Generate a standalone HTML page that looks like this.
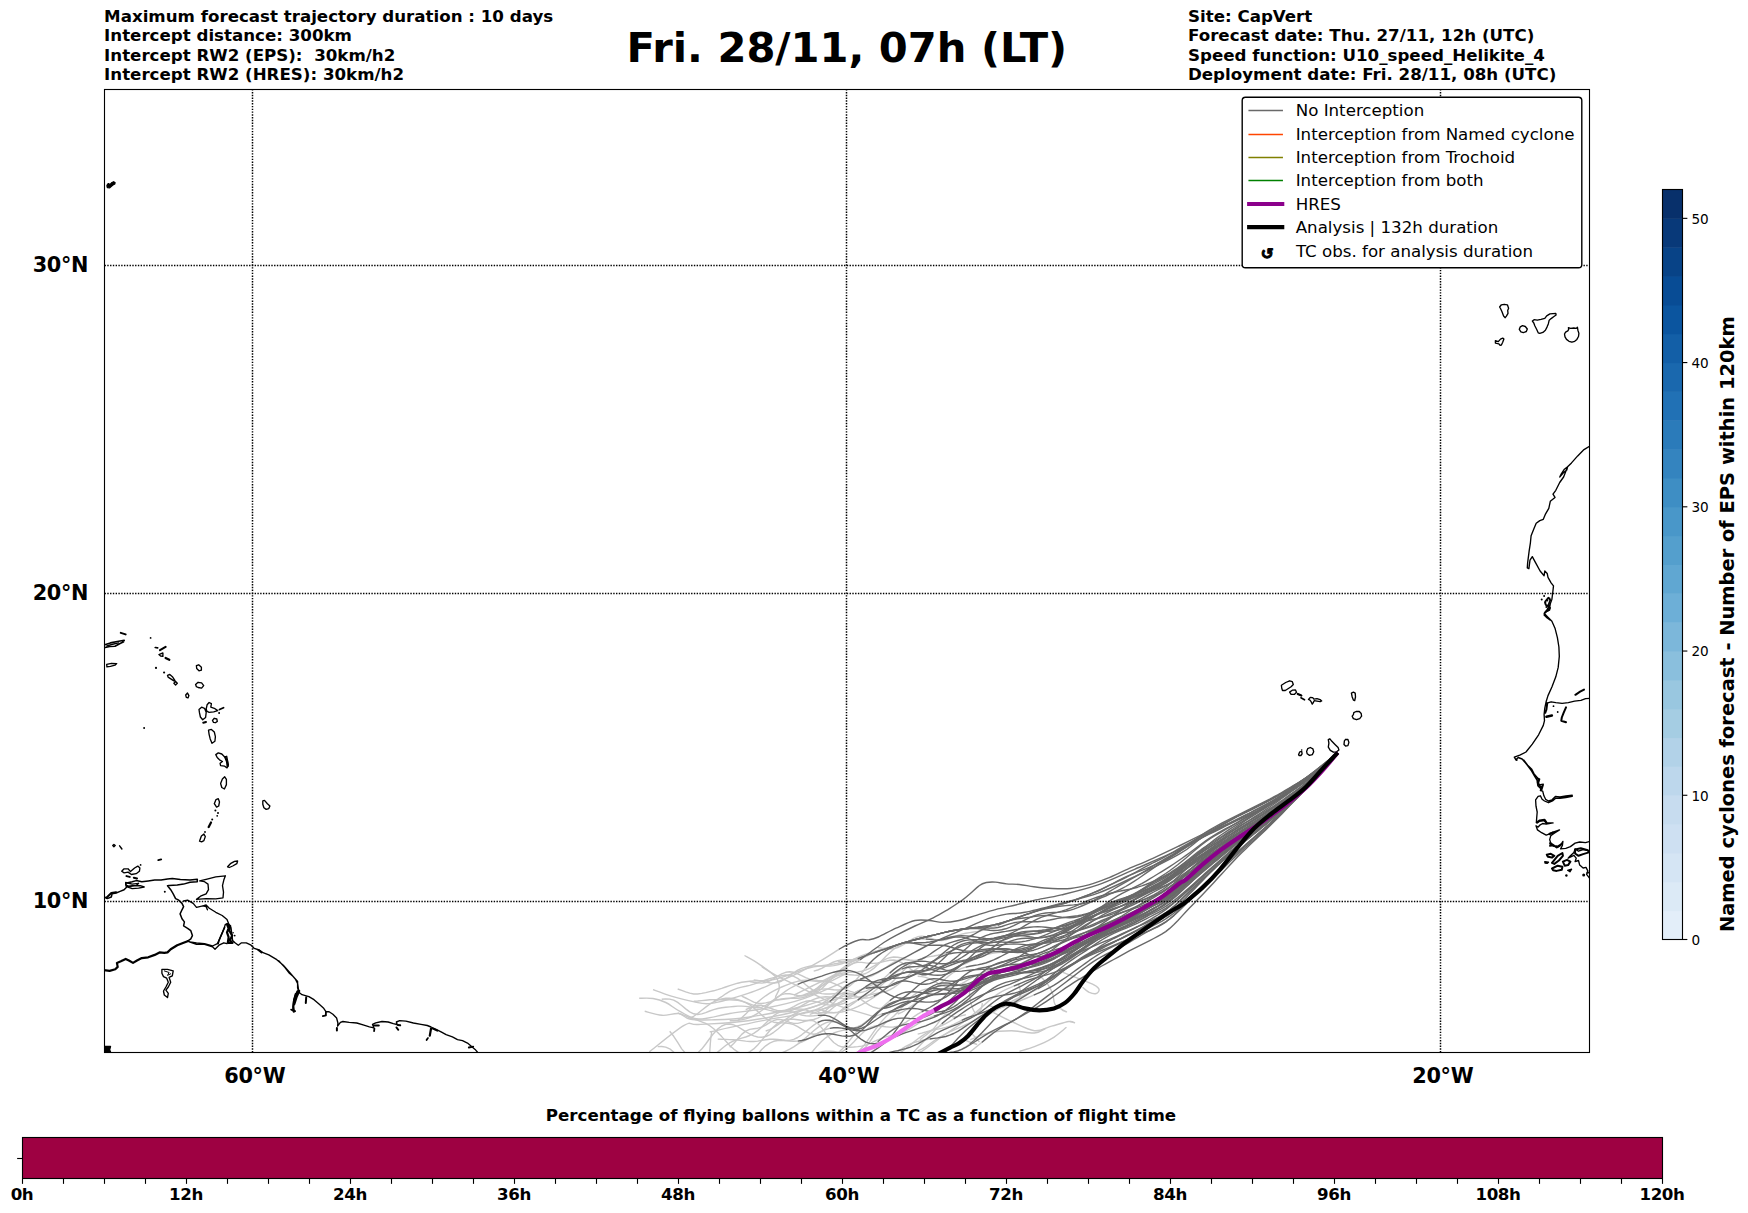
<!DOCTYPE html>
<html lang="en"><head><meta charset="utf-8"><title>Trajectory forecast</title>
<style>html,body{margin:0;padding:0;background:#fff}svg{display:block}text{font-family:"DejaVu Sans","Liberation Sans",sans-serif;fill:#000}.b{font-weight:bold}</style></head><body>
<svg width="1748" height="1213" viewBox="0 0 1748 1213">
<rect width="1748" height="1213" fill="#fff"/>
<text class="b" x="104.1" y="21.8" font-size="16.67" xml:space="preserve">Maximum forecast trajectory duration : 10 days</text>
<text class="b" x="104.1" y="41.2" font-size="16.67" xml:space="preserve">Intercept distance: 300km</text>
<text class="b" x="104.1" y="60.6" font-size="16.67" xml:space="preserve">Intercept RW2 (EPS):  30km/h2</text>
<text class="b" x="104.1" y="80.0" font-size="16.67" xml:space="preserve">Intercept RW2 (HRES): 30km/h2</text>
<text class="b" x="1188.0" y="21.8" font-size="16.67" xml:space="preserve">Site: CapVert</text>
<text class="b" x="1188.0" y="41.2" font-size="16.67" xml:space="preserve">Forecast date: Thu. 27/11, 12h (UTC)</text>
<text class="b" x="1188.0" y="60.6" font-size="16.67" xml:space="preserve">Speed function: U10_speed_Helikite_4</text>
<text class="b" x="1188.0" y="80.0" font-size="16.67" xml:space="preserve">Deployment date: Fri. 28/11, 08h (UTC)</text>
<text class="b" x="846.8" y="61.6" font-size="41.67" text-anchor="middle">Fri. 28/11, 07h (LT)</text>
<defs><clipPath id="ax"><rect x="104.5" y="89.5" width="1485.0" height="963.0"/></clipPath></defs>
<g clip-path="url(#ax)">
<circle cx="1544.1" cy="596.1" r="1.0" fill="#000"/>
<circle cx="1541.7" cy="599.5" r="1.0" fill="#000"/>
<circle cx="1545.2" cy="602.7" r="1.0" fill="#000"/>
<circle cx="1547.3" cy="600.5" r="1.0" fill="#000"/>
<circle cx="1548.3" cy="605.5" r="1.0" fill="#000"/>
<circle cx="1549.5" cy="598.4" r="1.0" fill="#000"/>
<circle cx="1546.4" cy="607.1" r="1.0" fill="#000"/>
<circle cx="1548.3" cy="610.2" r="1.0" fill="#000"/>
<circle cx="1553.5" cy="706.2" r="0.9" fill="#000"/>
<circle cx="1557.7" cy="712.0" r="0.9" fill="#000"/>
<circle cx="1566.4" cy="875.5" r="1.2" fill="#000"/>
<circle cx="1583.7" cy="874.9" r="1.5" fill="#000"/>
<circle cx="1587.8" cy="872.6" r="1.2" fill="#000"/>
<circle cx="1516.7" cy="760.0" r="1.0" fill="#000"/>
<circle cx="1301.7" cy="750.0" r="0.8" fill="#000"/>
<circle cx="150.6" cy="637.9" r="0.9" fill="#000"/>
<circle cx="156.0" cy="667.9" r="1.1" fill="#000"/>
<circle cx="164.1" cy="672.5" r="1.1" fill="#000"/>
<circle cx="219.1" cy="712.9" r="1.0" fill="#000"/>
<circle cx="144.1" cy="727.9" r="1.0" fill="#000"/>
<circle cx="215.4" cy="810.6" r="1.0" fill="#000"/>
<circle cx="218.0" cy="812.9" r="1.0" fill="#000"/>
<circle cx="217.2" cy="815.8" r="0.9" fill="#000"/>
<circle cx="212.2" cy="819.5" r="1.0" fill="#000"/>
<circle cx="205.0" cy="832.0" r="0.9" fill="#000"/>
<circle cx="140.6" cy="864.9" r="0.9" fill="#000"/>
<circle cx="164.8" cy="891.8" r="1.0" fill="#000"/>
<circle cx="234.7" cy="935.6" r="0.9" fill="#000"/>
<circle cx="233.1" cy="932.7" r="0.8" fill="#000"/>
<path d="M106.9 185.7 L107.6 184.3 L108.5 183.6 L109.9 184.8 L112.0 182.5 L113.6 181.8 L115.0 182.6 L114.8 183.9 L112.9 185.0 L111.1 186.6 L109.7 187.8 L107.4 187.7Z M1544.8 612.5 L1550.3 607.8 L1549.5 610.2Z M1544.8 861.6 L1548.5 862.2 L1547.3 863.3 L1545.0 863.0Z M1567.6 870.3 L1571.6 869.1 L1569.9 871.8Z M104.8 1046.5 L110.5 1046.5 L109.6 1049.7 L110.5 1052.1 L104.8 1052.1Z" fill="#000" stroke="#000" stroke-width="1.35" stroke-linejoin="round" stroke-linecap="round"/>
<path d="M1499.6 307.0 L1501.4 304.8 L1504.2 304.3 L1507.4 304.8 L1508.6 308.2 L1507.7 310.4 L1508.0 313.3 L1506.4 316.1 L1505.2 317.7 L1503.6 316.1 L1502.0 311.7 L1500.5 308.5Z M1495.4 340.6 L1498.3 341.6 L1500.5 339.1 L1502.7 338.1 L1503.9 339.1 L1502.7 342.2 L1501.4 345.0 L1500.1 345.3 L1498.9 343.8 L1495.4 343.1Z M1519.3 329.3 L1520.3 326.8 L1522.5 325.7 L1525.3 326.5 L1527.3 329.0 L1526.3 331.5 L1523.4 332.6 L1520.9 331.8Z M1532.4 321.1 L1534.1 319.7 L1537.3 320.2 L1541.0 319.4 L1544.8 318.4 L1546.7 315.8 L1549.9 313.9 L1553.0 313.6 L1555.8 313.4 L1556.1 315.0 L1553.6 316.7 L1551.1 318.6 L1549.2 320.2 L1548.3 323.9 L1547.0 327.1 L1545.4 330.2 L1542.9 332.4 L1539.8 333.4 L1538.2 332.8 L1536.6 329.3 L1534.8 325.8 L1533.8 323.0Z M1568.4 327.7 L1570.6 328.4 L1573.8 328.0 L1576.3 328.4 L1577.4 327.2 L1577.9 330.2 L1578.9 333.4 L1578.5 336.5 L1576.9 339.4 L1574.7 341.3 L1571.9 342.2 L1569.0 341.3 L1566.5 339.4 L1565.0 336.9 L1564.5 334.0 L1565.6 332.1 L1567.8 330.9 L1568.7 329.3Z M1590.3 445.7 L1584.0 449.6 L1577.7 455.9 L1571.5 462.9 L1567.6 466.8 L1563.6 477.0 L1559.7 482.5 L1555.8 490.3 L1553.0 494.2 L1555.0 497.4 L1550.3 501.3 L1548.8 508.3 L1545.6 513.8 L1543.3 519.3 L1539.8 520.6 L1536.2 523.2 L1533.9 528.7 L1531.1 535.8 L1530.4 542.8 L1529.2 550.7 L1527.6 563.2 L1527.3 567.9 L1528.9 568.7 L1530.0 560.1 L1532.3 556.6 L1535.4 562.4 L1540.1 571.0 L1544.1 575.7 L1544.8 571.0 L1547.2 573.4 L1548.0 577.3 L1551.1 582.8 L1553.5 585.9 L1552.7 593.0 L1551.9 599.2 L1550.3 603.9 L1549.5 608.6 L1544.8 613.3 L1544.1 614.9 L1547.2 618.0 L1550.3 620.1 M1567.6 466.8 L1564.4 469.2 L1561.3 473.9 L1559.7 477.0 L1563.6 472.6 L1566.8 470.0Z M1550.3 603.9 L1547.2 609.4 L1544.1 613.3 L1547.2 616.5 L1551.9 621.2 L1555.0 628.2 L1557.4 637.6 L1558.9 647.0 L1559.3 656.4 L1558.2 667.4 L1555.8 676.8 L1551.9 687.0 L1548.0 695.6 L1546.1 701.8 L1544.8 708.1 L1544.1 714.4 L1544.5 720.7 L1543.3 725.4 L1538.6 734.8 L1532.3 744.2 L1526.0 752.0 L1519.8 755.1 L1514.3 757.2 L1515.9 759.8 L1518.2 757.5 L1522.1 759.0 L1526.8 764.5 L1531.5 770.8 L1534.7 776.3 L1537.0 780.2 L1537.8 785.7 L1540.1 788.0 L1543.3 784.9 L1541.7 790.1 M1546.1 703.4 L1551.1 701.8 L1555.8 702.6 L1562.1 703.4 L1568.3 702.6 L1574.6 701.1 L1580.9 700.3 L1585.6 698.7 L1590.3 698.4 M1523.7 760.0 L1527.7 765.2 L1531.8 769.2 L1534.1 773.9 L1537.0 777.3 L1538.7 779.1 L1537.2 782.5 L1538.7 784.8 L1543.3 784.2 L1541.0 787.7 L1540.4 790.6 L1542.7 791.2 L1543.9 795.8 L1545.6 799.3 L1548.5 801.0 L1552.0 799.8 L1555.4 796.4 L1560.0 797.0 L1565.8 796.0 L1572.2 795.2 L1572.2 796.4 L1565.8 797.5 L1560.0 798.3 L1556.0 798.1 L1552.5 801.0 L1548.5 802.7 L1544.5 801.0 L1542.1 799.3 L1540.4 795.8 L1538.1 796.4 L1535.6 799.8 L1536.0 806.2 L1537.2 812.0 L1536.7 817.7 L1536.4 822.4 L1539.8 821.2 L1543.9 820.0 L1546.2 822.9 L1553.1 822.9 L1546.2 824.1 L1542.7 823.5 L1539.8 825.2 L1538.1 827.0 L1536.0 825.8 L1537.5 829.9 L1541.6 832.7 L1546.2 835.1 L1549.7 833.9 L1553.1 832.2 L1559.5 829.9 L1554.3 833.3 L1550.8 835.6 L1549.7 839.7 L1550.8 843.1 L1549.7 846.0 L1553.7 845.5 L1556.6 847.8 L1560.0 846.0 L1562.9 841.4 L1562.4 845.5 L1560.6 848.9 L1565.8 848.3 L1570.4 846.6 L1575.1 843.1 L1579.7 842.0 L1585.5 842.6 L1590.1 841.4 M1590.1 851.2 L1583.1 849.5 L1578.5 851.2 L1575.1 848.9 L1573.9 852.4 L1570.4 855.8 L1568.1 858.2 L1573.9 855.3 L1576.2 858.2 L1575.1 861.6 L1578.5 860.5 L1579.7 865.1 L1583.1 868.0 L1586.0 867.4 L1587.8 870.9 L1586.6 874.3 L1590.1 878.9 M1281.4 685.3 L1285.7 682.5 L1289.6 680.8 L1292.3 681.7 L1293.3 684.5 L1291.1 686.8 L1288.0 688.8 L1285.3 690.5 L1282.5 690.5 L1281.7 688.0Z M1289.6 692.1 L1292.3 690.2 L1295.5 690.0 L1296.5 692.3 L1294.3 694.4 L1291.1 694.4Z M1308.5 699.4 L1310.3 697.4 L1312.7 697.6 L1313.9 699.1 L1317.0 698.6 L1320.1 699.6 L1321.7 700.9 L1320.1 701.7 L1317.0 701.2 L1314.2 700.7 L1313.1 702.9 L1312.3 704.1 L1311.1 701.7 L1309.9 700.1Z M1351.4 693.1 L1353.4 692.2 L1355.2 693.1 L1355.5 697.0 L1354.7 700.5 L1353.4 700.1 L1352.2 697.0Z M1353.8 712.7 L1356.1 711.5 L1359.3 711.5 L1361.2 713.5 L1361.6 716.2 L1359.7 718.6 L1356.5 719.7 L1353.4 718.6 L1352.2 716.2 L1353.4 714.6Z M1344.4 740.9 L1345.6 739.3 L1347.9 739.5 L1348.9 742.4 L1347.9 745.6 L1345.6 746.0 L1344.0 744.4Z M1328.3 739.7 L1329.9 738.8 L1331.9 741.3 L1335.0 744.4 L1338.1 747.5 L1338.9 749.9 L1336.6 751.8 L1333.4 752.2 L1330.3 750.3 L1328.3 747.1 L1328.9 743.2Z M1306.6 751.4 L1307.7 748.7 L1310.3 747.5 L1312.9 748.9 L1313.7 751.8 L1312.3 754.6 L1309.5 755.4 L1307.2 753.8Z M1298.6 754.6 L1299.8 751.8 L1301.7 751.4 L1302.1 753.8 L1300.9 755.5 L1299.0 755.5Z M106.7 664.4 L111.5 663.3 L116.7 663.6 L115.0 665.2 L110.4 666.4 L106.9 666.8Z M158.9 654.6 L162.9 652.9 L162.9 656.4 L160.6 656.0Z M167.5 675.4 L169.8 674.5 L172.7 677.1 L175.0 680.6 L173.9 680.9 L170.4 678.6 L168.1 677.1Z M173.9 683.3 L175.6 681.5 L177.3 683.3 L175.6 685.0Z M196.4 665.6 L198.7 664.8 L201.4 667.3 L201.4 670.2 L199.0 670.8 L196.7 668.5Z M195.6 684.6 L198.1 682.3 L201.6 682.9 L203.7 685.6 L201.6 688.1 L198.1 687.5 L196.4 686.7Z M185.7 695.0 L187.5 693.0 L188.9 695.6 L188.0 697.9 L186.3 697.3Z M199.0 709.5 L201.6 707.2 L204.5 708.3 L206.2 712.3 L205.6 717.5 L202.7 719.8 L200.4 717.0 L199.5 712.9Z M206.2 708.9 L207.1 704.8 L209.1 702.5 L211.4 703.7 L210.8 707.2 L214.3 708.3 L217.7 710.6 L213.7 711.8 L209.1 712.3 L206.8 711.2Z M212.5 720.4 L214.3 718.3 L216.8 719.0 L217.3 721.4 L215.4 722.7 L213.4 722.3Z M208.5 730.2 L211.4 729.4 L214.3 732.0 L215.4 736.6 L214.9 741.2 L212.0 743.3 L210.2 738.9 L209.1 734.3Z M215.8 754.6 L218.3 752.9 L221.8 754.0 L224.7 756.9 L226.7 756.3 L227.6 761.0 L228.4 765.0 L227.0 767.9 L224.7 766.2 L220.6 765.6 L220.1 763.3 L222.4 761.5 L219.5 759.8 L217.2 757.5Z M220.6 783.5 L222.4 778.9 L224.7 776.8 L226.4 779.4 L226.4 784.6 L224.4 789.0 L221.8 787.5Z M214.3 803.7 L216.0 799.6 L218.3 798.7 L219.5 801.9 L218.7 806.0 L216.6 807.1Z M199.5 841.2 L201.4 836.0 L203.9 834.0 L205.3 836.6 L203.9 840.6 L201.6 841.8Z M262.8 800.8 L264.5 800.4 L267.4 803.7 L269.9 806.0 L268.8 808.6 L266.2 809.4 L263.9 807.7 L262.8 804.3Z M227.6 866.8 L230.4 863.7 L234.5 861.4 L237.6 861.0 L236.8 863.7 L232.7 866.0 L229.3 867.5Z M112.7 845.6 L113.9 844.4 L115.2 845.6 L113.9 846.7Z M121.7 871.3 L124.1 868.8 L128.1 868.8 L130.5 871.6 L134.6 868.0 L137.8 866.1 L139.9 868.0 L139.4 871.3 L136.2 873.7 L131.4 874.5 L128.1 872.1 L124.1 872.9Z M125.7 882.5 L132.2 884.1 L138.6 883.3 L136.2 885.7 L128.9 886.5 L125.7 884.9Z M126.5 886.5 L132.2 885.7 L140.2 885.7 L144.2 887.0 L138.6 888.1 L132.2 888.6Z M183.6 901.0 L187.6 900.2 L193.2 903.4 L196.5 907.4 L202.9 905.8 L206.1 905.0 L209.3 908.2 L215.8 912.3 L222.2 915.5 L227.0 919.5 L228.6 923.5 L225.4 924.3 L223.8 929.1 L221.4 934.8 L219.0 940.4 L217.4 943.6 L212.5 946.0 L204.5 943.6 L196.5 942.8 L190.0 942.0 L187.6 941.2 M190.0 942.0 L196.5 944.4 L204.5 944.4 L212.5 946.8 L215.0 949.2 L219.0 945.2 L223.8 942.8 L227.0 943.6 M202.9 905.8 L206.1 906.6 L207.4 909.8 M228.6 923.5 L231.0 927.5 L231.8 934.0 L232.6 940.4 L235.0 942.8 L238.3 945.2 L241.5 942.8 L246.3 942.8 L251.1 945.2 L254.3 948.4 L259.2 950.0 L262.4 952.4 L268.8 954.9 L276.8 959.7 L283.3 965.3 L289.7 972.5 L295.3 979.0 L297.7 983.8 L298.6 990.2 L296.1 993.4 L293.7 999.9 L292.9 1009.5 L295.3 1011.1 M199.7 880.9 L206.1 879.3 L215.8 876.9 L225.4 875.8 L223.8 880.1 L222.5 885.7 L223.5 892.2 L223.0 897.8 L215.8 898.9 L206.1 898.6 L196.5 899.4 L200.5 896.2 L206.1 893.8 L208.5 889.7 L208.0 884.1 L204.5 881.7 L199.7 880.9Z M161.9 969.3 L167.5 969.3 L173.2 970.9 L172.3 975.8 L169.1 977.4 L170.7 982.2 L168.3 987.0 L165.9 990.2 L168.3 993.4 L167.5 997.5 L164.3 995.0 L163.5 991.0 L165.9 987.0 L168.3 982.2 L166.7 978.2 L163.5 976.6 L161.9 973.3Z M278.7 960.7 L285.0 967.6 L289.4 973.3 L293.8 977.1 L297.6 981.5 L297.6 987.8 L298.9 992.2 L302.0 994.7 L308.9 996.6 L314.0 999.7 L319.0 1004.1 L323.4 1007.9 L325.9 1011.7 L329.1 1011.7 L332.9 1014.2 L336.6 1018.0 L337.9 1023.0 L337.6 1026.1 L340.4 1022.4 L342.9 1021.5 L349.2 1022.4 L356.8 1023.0 L363.1 1024.9 L369.4 1026.8 L373.8 1027.8 L372.5 1024.3 L375.7 1022.8 L382.0 1021.5 L388.2 1022.0 L393.3 1023.6 L397.1 1024.5 L396.4 1022.0 L399.6 1020.7 L405.9 1021.1 L413.4 1023.0 L421.0 1024.3 L427.3 1025.5 L431.0 1027.0 L436.1 1029.3 L441.1 1031.8 L446.1 1034.6 L452.4 1036.8 L457.5 1039.6 L462.5 1040.6 L467.5 1043.1 L471.9 1046.7 L475.1 1049.4 L478.9 1053.8" fill="none" stroke="#000" stroke-width="1.35" stroke-linejoin="round" stroke-linecap="round"/>
<path d="M1545.2 601.6 L1548.3 597.7 L1550.3 600.0 L1548.0 606.3 L1545.6 604.7Z M219.5 709.5 L223.5 707.7 M158.3 860.2 L161.2 859.4 M325.9 1011.7 L325.9 1015.4 L322.8 1016.1 M374.4 1028.7 L374.1 1031.2 M396.4 1027.4 L398.3 1029.9 M427.9 1038.1 L426.6 1040.0 M468.8 1047.5 L473.2 1046.7" fill="none" stroke="#000" stroke-width="1.8" stroke-linejoin="round" stroke-linecap="round"/>
<path d="M1575.4 694.8 L1580.1 691.7 L1584.0 689.6 M1566.0 707.3 L1563.6 712.8 L1561.8 717.5 L1561.3 720.7 L1566.0 722.2 M1547.2 703.4 L1546.4 709.7 L1545.2 712.8 M1575.1 849.5 L1580.8 848.3 L1587.8 850.1 L1588.9 852.4 L1583.1 854.1 L1578.5 855.8 L1575.1 853.5Z M1546.8 854.7 L1550.8 853.8 L1554.3 855.8 L1552.0 857.6 L1547.9 856.8Z M1552.0 862.8 L1557.7 855.8 L1562.4 853.0 L1562.9 855.8 L1558.9 860.5 L1554.3 863.9Z M1552.0 868.5 L1557.7 865.7 L1562.4 866.8 L1561.8 869.7 L1556.6 870.9 L1553.1 870.3Z M1562.9 861.6 L1567.0 859.9 L1570.4 861.6 L1568.1 865.1 L1564.7 865.7Z M1537.0 778.5 L1539.3 779.1 L1538.1 783.1 L1539.8 786.0 L1541.6 787.1 M120.8 632.9 L125.6 634.4 M160.0 650.2 L165.6 646.8 M203.3 722.7 L206.0 722.0 M126.5 876.1 L129.7 876.9 M133.8 877.7 L137.0 878.5 M116.1 892.2 L111.3 893.0 L106.4 897.8 M258.4 950.0 L261.6 952.4 M306.2 997.2 L305.8 1002.9 M336.9 1028.0 L336.9 1030.6 M373.8 1025.5 L378.8 1025.5 M397.7 1024.9 L400.2 1025.3 M432.9 1028.7 L437.3 1030.6" fill="none" stroke="#000" stroke-width="2" stroke-linejoin="round" stroke-linecap="round"/>
<path d="M1546.4 716.7 L1551.9 715.6" fill="none" stroke="#000" stroke-width="2.5" stroke-linejoin="round" stroke-linecap="round"/>
<path d="M1537.0 822.4 L1539.8 820.6 L1544.5 820.0 L1546.2 822.4 M1549.7 833.9 L1553.1 832.7" fill="none" stroke="#000" stroke-width="2.4" stroke-linejoin="round" stroke-linecap="round"/>
<path d="M1550.2 843.1 L1554.3 846.0 L1557.7 846.6 L1561.2 844.3 M1297.8 693.9 L1301.3 695.5 M165.6 657.9 L169.3 659.8 M225.2 757.2 L227.0 761.5 L227.6 766.2 M211.0 822.5 L208.7 827.1 M187.6 941.2 L183.6 942.8 L177.2 945.2 L170.7 949.2 L167.5 952.4 L164.3 952.9 L159.5 952.4 L154.7 954.9 L148.2 957.3 L141.8 958.1 L137.0 960.5 L133.0 962.9 L128.9 960.5 L125.7 958.9 L120.9 961.3 L116.9 962.9 L117.7 966.9 L115.3 969.3 L109.6 970.9 L103.2 970.1 M227.0 924.3 L230.2 925.9 L229.4 930.7 L232.2 935.6 L229.9 940.4 L232.6 942.8 L227.8 942.8 L228.6 937.2 L227.0 932.3 L228.6 928.3Z M298.9 992.2 L295.7 994.1 L294.1 1000.3 L293.3 1006.6 L293.8 1011.7 M431.0 1028.7 L429.8 1035.6" fill="none" stroke="#000" stroke-width="2.2" stroke-linejoin="round" stroke-linecap="round"/>
<path d="M1300.9 697.8 L1304.5 699.8 M104.8 644.8 L110.4 642.9 L117.3 641.5 L124.2 640.3 M105.2 647.5 L109.8 646.5 L115.0 646.3 L119.6 643.7 L123.7 641.7 M155.2 647.5 L157.7 647.9 M224.6 927.5 L219.0 940.4 L218.2 943.6 M291.0 1009.5 L294.9 1011.4 M291.3 1009.8 L293.8 1011.0" fill="none" stroke="#000" stroke-width="1.6" stroke-linejoin="round" stroke-linecap="round"/>
<path d="M106.9 646.0 L112.7 644.2 L118.5 642.9 M119.6 845.8 L121.9 849.0" fill="none" stroke="#000" stroke-width="1.4" stroke-linejoin="round" stroke-linecap="round"/>
<path d="M103.2 896.2 L107.2 898.6 L111.3 897.0 L112.1 893.8 L116.1 893.0 L120.1 891.4 L124.1 889.7 L126.5 887.3 L125.7 883.3 L132.2 881.7 L136.2 880.6 L141.8 881.7 L148.2 880.9 L154.7 880.1 L161.1 880.1 L167.5 879.0 L172.3 878.5 L180.4 879.6 L190.0 880.1 L197.3 879.3 L197.3 881.7 L190.0 882.2 L183.6 884.1 L177.2 884.9 L169.1 885.4 L167.5 885.7 L170.7 889.7 L173.2 893.8 L175.6 898.6 L178.8 900.2 L182.0 903.4 L183.6 906.6 L182.0 909.8 L180.1 913.9 L182.0 918.7 L184.4 921.9 L183.6 925.9 L187.6 928.3 L190.8 930.7 L192.4 935.6 L190.8 938.8 L187.6 941.2" fill="none" stroke="#000" stroke-width="1.5" stroke-linejoin="round" stroke-linecap="round"/>
<path d="M299.0 991.0 L296.5 996.7 L294.2 1003.9 M297.6 991.5 L296.1 996.6" fill="none" stroke="#000" stroke-width="2.6" stroke-linejoin="round" stroke-linecap="round"/>
<path d="M164.3 970.9 L169.1 972.5 L167.5 975.4 L170.7 973.8" fill="none" stroke="#000" stroke-width="1.0" stroke-linejoin="round" stroke-linecap="round"/>
<g fill="none" stroke="#c8c8c8" stroke-width="1.4" stroke-linejoin="round">
<path d="M901.7 969.1 L897.7 971.3 L893.7 974.1 L889.7 977.5 L885.7 981.2 L881.7 984.9 L877.7 988.5 L873.7 991.7 L869.7 994.5 L865.7 996.8 L861.7 998.6 L857.7 1000.2 L853.7 1001.9 L849.7 1003.8 L845.7 1006.4 L841.7 1009.8 L837.7 1014.0 L833.7 1018.8 L829.7 1023.6 L825.7 1028.0 L821.7 1031.5 L817.7 1033.6 L813.7 1034.2 L809.7 1033.4 L805.7 1031.5 L801.7 1029.1 L797.7 1026.7 L793.7 1024.7 L789.7 1023.5 L785.7 1023.0 L781.7 1022.9 L777.7 1022.8 L773.7 1022.2 L769.7 1020.7 L765.7 1018.3 L761.7 1015.1 L757.7 1011.4 L753.7 1007.9 L749.7 1004.8 L745.7 1002.6 L741.7 1001.1 L737.7 1000.3 L733.7 1000.0 L729.7 999.9 L725.7 999.8 L721.7 999.7 L717.7 999.6 L713.7 999.6 L709.7 999.8 L705.7 1000.2 L701.7 1000.6 L697.7 1001.0 L693.7 1001.2"/>
<path d="M921.7 1011.8 L917.7 1014.2 L913.7 1016.9 L909.7 1019.7 L905.7 1022.3 L901.7 1024.5 L897.7 1026.1 L893.7 1027.0 L889.7 1027.1 L885.7 1026.7 L881.7 1026.2 L877.7 1025.8 L873.7 1026.3 L869.7 1027.7 L865.7 1030.3 L861.7 1033.7 L857.7 1037.8 L853.7 1042.0 L849.7 1045.9 L845.7 1049.3 L841.7 1051.9 L837.7 1053.7 L833.7 1054.8 L829.7 1055.5 L825.7 1056.2 L821.7 1057.1 L817.7 1058.3 L813.7 1059.8 L809.7 1061.5 L805.7 1063.0 L801.7 1064.0 L797.7 1064.3 L793.7 1063.8 L789.7 1062.7 L785.7 1061.2 L781.7 1059.6 L777.7 1058.6 L773.7 1058.3 L769.7 1059.1 L765.7 1060.9 L761.7 1063.7 L757.7 1067.0 L753.7 1070.6 L749.7 1073.9 L745.7 1076.7 L741.7 1078.9 L737.7 1080.2 L733.7 1081.0 L729.7 1081.3 L725.7 1081.3 L721.7 1081.4 L717.7 1081.4 L713.7 1081.4 L709.7 1081.2 L705.7 1080.6 L701.7 1079.3 L697.7 1077.3 L693.7 1074.7 L689.7 1071.5 L685.7 1068.2 L681.7 1065.0 L677.7 1062.4 L673.7 1060.6 L669.7 1059.5 L665.7 1059.0"/>
<path d="M889.7 973.1 L885.7 976.7 L881.7 980.3 L877.7 983.6 L873.7 986.6 L869.7 989.1 L865.7 991.1 L861.7 992.3 L857.7 992.8 L853.7 992.4 L849.7 991.2 L845.7 989.4 L841.7 987.3 L837.7 985.2 L833.7 983.3 L829.7 981.9 L825.7 981.1 L821.7 980.7 L817.7 980.4 L813.7 980.0 L809.7 979.2 L805.7 977.6 L801.7 975.7 L797.7 973.8 L793.7 972.3 L789.7 971.7 L785.7 972.3 L781.7 973.9 L777.7 976.1 L773.7 978.6 L769.7 980.9 L765.7 982.5 L761.7 983.1 L757.7 982.9 L753.7 982.3 L749.7 981.5"/>
<path d="M817.7 1015.4 L813.7 1015.8 L809.7 1016.0 L805.7 1015.8 L801.7 1015.1 L797.7 1013.8 L793.7 1012.4 L789.7 1011.3 L785.7 1010.8 L781.7 1011.3 L777.7 1013.0 L773.7 1015.7 L769.7 1019.3 L765.7 1023.2 L761.7 1027.1 L757.7 1030.6 L753.7 1033.4 L749.7 1035.5 L745.7 1037.0 L741.7 1038.1 L737.7 1039.3 L733.7 1040.8 L729.7 1042.8 L725.7 1045.5 L721.7 1048.7 L717.7 1052.1 L713.7 1055.4 L709.7 1058.3 L705.7 1060.6 L701.7 1062.1 L697.7 1062.9 L693.7 1063.4 L689.7 1064.0 L685.7 1064.9 L681.7 1066.6 L677.7 1069.1 L673.7 1072.6 L669.7 1076.7 L665.7 1081.2 L661.7 1085.6 L657.7 1089.4 L653.7 1092.5 L649.7 1094.8 L645.7 1096.2 L641.7 1096.9"/>
<path d="M881.7 1014.2 L877.7 1015.3 L873.7 1016.8 L869.7 1019.0 L865.7 1022.1 L861.7 1025.9 L857.7 1030.4 L853.7 1035.3 L849.7 1040.4 L845.7 1045.2 L841.7 1049.6 L837.7 1053.2 L833.7 1055.8 L829.7 1057.6 L825.7 1058.7 L821.7 1059.3 L817.7 1059.8 L813.7 1060.7 L809.7 1062.3 L805.7 1064.5 L801.7 1067.2 L797.7 1070.3 L793.7 1073.4 L789.7 1076.3 L785.7 1078.8 L781.7 1080.8 L777.7 1082.1 L773.7 1082.8 L769.7 1082.7 L765.7 1082.3 L761.7 1081.6 L757.7 1081.2 L753.7 1081.1 L749.7 1081.8 L745.7 1083.2 L741.7 1085.5 L737.7 1088.6 L733.7 1092.1 L729.7 1095.7 L725.7 1099.0 L721.7 1101.7 L717.7 1103.4 L713.7 1103.8 L709.7 1103.0 L705.7 1100.9 L701.7 1097.9 L697.7 1094.4 L693.7 1090.8 L689.7 1087.7 L685.7 1085.5 L681.7 1084.4 L677.7 1084.7 L673.7 1086.1 L669.7 1088.6 L665.7 1091.7 L661.7 1095.1 L657.7 1098.3 L653.7 1100.4 L649.7 1101.2 L645.7 1101.3 L641.7 1100.7"/>
<path d="M921.7 966.3 L917.7 968.2 L913.7 970.9 L909.7 974.2 L905.7 977.8 L901.7 981.4 L897.7 984.8 L893.7 987.6 L889.7 989.9 L885.7 991.5 L881.7 992.6 L877.7 993.3 L873.7 994.0 L869.7 994.8 L865.7 995.6 L861.7 996.5 L857.7 997.4 L853.7 998.1 L849.7 998.5 L845.7 998.6 L841.7 998.4 L837.7 997.9 L833.7 997.4 L829.7 997.0 L825.7 996.8 L821.7 997.1 L817.7 998.0 L813.7 999.4 L809.7 1001.2 L805.7 1003.4 L801.7 1005.7 L797.7 1007.8 L793.7 1009.6 L789.7 1011.0 L785.7 1011.8 L781.7 1012.1 L777.7 1011.9 L773.7 1011.3 L769.7 1010.4 L765.7 1009.3 L761.7 1008.1 L757.7 1006.7 L753.7 1005.3 L749.7 1003.8 L745.7 1002.3 L741.7 1001.0 L737.7 999.7 L733.7 998.8 L729.7 998.3 L725.7 998.3 L721.7 998.9 L717.7 1000.1 L713.7 1001.9 L709.7 1004.2 L705.7 1007.1 L701.7 1010.2 L697.7 1013.5 L693.7 1016.3 L689.7 1018.4"/>
<path d="M873.7 996.2 L869.7 997.6 L865.7 998.1 L861.7 997.9 L857.7 997.2 L853.7 996.1 L849.7 994.9 L845.7 994.1 L841.7 993.6 L837.7 993.5 L833.7 993.7 L829.7 994.0 L825.7 994.0 L821.7 993.6 L817.7 992.5 L813.7 990.6 L809.7 987.9 L805.7 984.7 L801.7 981.3 L797.7 978.4 L793.7 976.3 L789.7 975.2 L785.7 975.0 L781.7 975.7 L777.7 976.6 L773.7 977.6 L769.7 978.7 L765.7 980.0 L761.7 981.4 L757.7 982.8 L753.7 984.2 L749.7 985.4 L745.7 986.3 L741.7 987.1 L737.7 988.2 L733.7 989.6 L729.7 991.4 L725.7 993.8 L721.7 996.7 L717.7 999.1 L713.7 1001.1"/>
<path d="M797.7 1041.1 L793.7 1041.3 L789.7 1041.0 L785.7 1040.6 L781.7 1040.3 L777.7 1040.5 L773.7 1041.3 L769.7 1043.1 L765.7 1045.8 L761.7 1049.5 L757.7 1054.0 L753.7 1059.0 L749.7 1064.2 L745.7 1069.2 L741.7 1073.8 L737.7 1077.5 L733.7 1080.3 L729.7 1082.3 L725.7 1083.6 L721.7 1084.5 L717.7 1085.3 L713.7 1086.0 L709.7 1086.8 L705.7 1087.7 L701.7 1088.6 L697.7 1089.7 L693.7 1090.8 L689.7 1091.9 L685.7 1093.0 L681.7 1093.9 L677.7 1094.7 L673.7 1095.2 L669.7 1095.6 L665.7 1095.7 L661.7 1095.7 L657.7 1095.5 L653.7 1095.4 L649.7 1095.3 L645.7 1095.3 L641.7 1095.3"/>
<path d="M829.7 1028.4 L825.7 1029.5 L821.7 1031.1 L817.7 1033.2 L813.7 1035.5 L809.7 1037.9 L805.7 1040.2 L801.7 1042.0 L797.7 1043.3"/>
<path d="M797.7 984.4 L793.7 986.3 L789.7 988.5 L785.7 991.1 L781.7 994.0 L777.7 997.2 L773.7 1000.6 L769.7 1004.0 L765.7 1007.4 L761.7 1010.5 L757.7 1013.3 L753.7 1015.6 L749.7 1017.5 L745.7 1018.9 L741.7 1019.8 L737.7 1020.3 L733.7 1020.7 L729.7 1020.8"/>
<path d="M945.7 953.2 L941.7 954.4 L937.7 955.3 L933.7 956.0 L929.7 956.6 L925.7 957.4 L921.7 958.6 L917.7 960.2 L913.7 962.4 L909.7 965.2 L905.7 968.5 L901.7 972.4 L897.7 976.4 L893.7 980.6 L889.7 984.6 L885.7 988.4 L881.7 991.7 L877.7 994.7 L873.7 997.4 L869.7 1000.0 L865.7 1002.4 L861.7 1004.6 L857.7 1006.6 L853.7 1008.4 L849.7 1009.9 L845.7 1011.1 L841.7 1012.0 L837.7 1012.6 L833.7 1012.9 L829.7 1012.9 L825.7 1012.8 L821.7 1012.7 L817.7 1012.6"/>
<path d="M865.7 988.3 L861.7 989.4 L857.7 991.2 L853.7 993.6 L849.7 996.3 L845.7 999.1 L841.7 1001.7 L837.7 1003.7 L833.7 1004.8 L829.7 1005.1 L825.7 1004.5 L821.7 1003.4 L817.7 1002.1 L813.7 1001.2 L809.7 1000.8 L805.7 1001.3 L801.7 1002.6 L797.7 1004.4 L793.7 1006.6 L789.7 1008.6 L785.7 1010.1 L781.7 1010.8 L777.7 1010.6 L773.7 1009.5 L769.7 1008.0 L765.7 1006.4 L761.7 1005.3 L757.7 1005.2 L753.7 1006.4 L749.7 1008.0 L745.7 1009.7"/>
<path d="M925.7 939.0 L921.7 938.9 L917.7 939.3 L913.7 940.2 L909.7 941.4 L905.7 942.7 L901.7 944.0 L897.7 945.3 L893.7 946.6 L889.7 947.7 L885.7 948.7 L881.7 949.6 L877.7 950.6 L873.7 951.6 L869.7 952.8 L865.7 954.2 L861.7 955.7 L857.7 957.4 L853.7 959.1 L849.7 960.8 L845.7 962.4 L841.7 963.8 L837.7 964.8 L833.7 965.6 L829.7 966.0 L825.7 966.0 L821.7 966.0 L817.7 965.9 L813.7 965.9 L809.7 966.3 L805.7 967.1 L801.7 968.4 L797.7 970.2 L793.7 972.8 L789.7 975.8 L785.7 978.7 L781.7 981.0 L777.7 982.5 L773.7 983.0 L769.7 982.7 L765.7 982.0 L761.7 981.1 L757.7 980.5 L753.7 979.9"/>
<path d="M857.7 1000.1 L853.7 1003.1 L849.7 1006.0 L845.7 1008.6 L841.7 1010.7 L837.7 1012.1 L833.7 1012.6 L829.7 1012.3 L825.7 1011.3 L821.7 1010.2 L817.7 1009.1"/>
<path d="M929.7 988.5 L925.7 989.1 L921.7 990.3 L917.7 992.3 L913.7 995.1 L909.7 998.8 L905.7 1003.2 L901.7 1007.9 L897.7 1012.3 L893.7 1016.2 L889.7 1019.5 L885.7 1022.7 L881.7 1026.3 L877.7 1030.7 L873.7 1036.0 L869.7 1041.8 L865.7 1047.1 L861.7 1051.0 L857.7 1053.0 L853.7 1053.5 L849.7 1053.2 L845.7 1053.5 L841.7 1055.5 L837.7 1059.3 L833.7 1064.1 L829.7 1068.5 L825.7 1071.0 L821.7 1071.0 L817.7 1068.8 L813.7 1065.8 L809.7 1063.5 L805.7 1063.5 L801.7 1066.1 L797.7 1070.2 L793.7 1073.8 L789.7 1075.2 L785.7 1073.4 L781.7 1070.1 L777.7 1066.3"/>
<path d="M829.7 1072.0 L825.7 1072.7 L821.7 1073.3 L817.7 1073.8 L813.7 1074.3 L809.7 1074.7 L805.7 1074.9 L801.7 1074.9 L797.7 1074.7 L793.7 1074.3 L789.7 1073.9 L785.7 1073.6 L781.7 1073.7 L777.7 1074.3 L773.7 1075.4 L769.7 1076.9 L765.7 1078.6 L761.7 1080.1 L757.7 1081.0 L753.7 1081.3 L749.7 1080.8 L745.7 1079.6 L741.7 1078.0 L737.7 1076.2 L733.7 1074.2 L729.7 1072.3 L725.7 1070.7 L721.7 1069.8 L717.7 1069.6 L713.7 1070.0 L709.7 1070.9 L705.7 1071.9 L701.7 1072.7 L697.7 1072.6 L693.7 1071.5 L689.7 1069.2 L685.7 1065.6 L681.7 1061.2 L677.7 1056.5 L673.7 1052.1 L669.7 1048.8 L665.7 1047.1 L661.7 1046.5 L657.7 1046.6"/>
<path d="M913.7 971.4 L909.7 968.4 L905.7 965.4 L901.7 962.7 L897.7 960.8 L893.7 960.0 L889.7 960.2 L885.7 961.1 L881.7 962.1 L877.7 963.0 L873.7 963.4 L869.7 963.3 L865.7 962.9 L861.7 962.4 L857.7 962.4 L853.7 963.1 L849.7 964.9 L845.7 967.6 L841.7 970.9 L837.7 974.4 L833.7 977.5 L829.7 979.9 L825.7 981.3 L821.7 981.8 L817.7 981.5 L813.7 981.0 L809.7 980.5 L805.7 980.3 L801.7 980.5 L797.7 981.3 L793.7 982.4 L789.7 983.8 L785.7 985.3 L781.7 987.0 L777.7 988.8 L773.7 990.9 L769.7 993.2 L765.7 995.8 L761.7 998.8 L757.7 1002.1 L753.7 1005.7 L749.7 1009.7 L745.7 1014.1 L741.7 1017.8 L737.7 1020.6"/>
<path d="M881.7 1008.5 L877.7 1008.3 L873.7 1007.3 L869.7 1005.4 L865.7 1002.9 L861.7 999.9 L857.7 996.9 L853.7 994.5 L849.7 993.2 L845.7 993.4 L841.7 995.3 L837.7 998.6 L833.7 1002.7 L829.7 1006.9 L825.7 1010.5 L821.7 1012.8 L817.7 1013.6 L813.7 1012.9 L809.7 1011.4 L805.7 1009.8 L801.7 1009.1 L797.7 1008.9 L793.7 1009.3"/>
<path d="M857.7 958.9 L853.7 960.9 L849.7 963.1 L845.7 965.7 L841.7 968.7 L837.7 972.2 L833.7 976.2 L829.7 980.5 L825.7 984.8 L821.7 988.7 L817.7 991.7 L813.7 993.8 L809.7 995.0"/>
<path d="M913.7 942.7 L909.7 942.9 L905.7 943.4 L901.7 944.6 L897.7 946.5 L893.7 949.3 L889.7 952.7 L885.7 956.6 L881.7 960.7 L877.7 964.7 L873.7 968.4 L869.7 971.3 L865.7 973.5 L861.7 974.7 L857.7 975.2 L853.7 975.0 L849.7 974.7 L845.7 974.4 L841.7 974.7 L837.7 975.6 L833.7 977.4 L829.7 979.9 L825.7 982.9 L821.7 986.3 L817.7 989.6 L813.7 992.6 L809.7 995.0 L805.7 996.7 L801.7 997.7 L797.7 998.2 L793.7 998.3 L789.7 998.3 L785.7 998.4 L781.7 998.9 L777.7 999.7 L773.7 1000.8 L769.7 1002.0 L765.7 1002.9 L761.7 1003.5 L757.7 1003.2 L753.7 1002.1 L749.7 1000.0 L745.7 998.0 L741.7 996.1"/>
<path d="M881.7 981.0 L877.7 982.6 L873.7 984.2 L869.7 985.8 L865.7 987.5 L861.7 989.3 L857.7 991.2 L853.7 993.2 L849.7 995.5 L845.7 998.1 L841.7 1001.0 L837.7 1004.1 L833.7 1007.3 L829.7 1010.5 L825.7 1013.4 L821.7 1016.0 L817.7 1018.1 L813.7 1019.5 L809.7 1020.3 L805.7 1020.5 L801.7 1020.2 L797.7 1019.7 L793.7 1019.3 L789.7 1019.1 L785.7 1019.7 L781.7 1021.0 L777.7 1023.4 L773.7 1026.7 L769.7 1030.8 L765.7 1035.5 L761.7 1040.4 L757.7 1045.0 L753.7 1048.9 L749.7 1051.8 L745.7 1053.3 L741.7 1053.3 L737.7 1051.9 L733.7 1049.1 L729.7 1045.4 L725.7 1041.1 L721.7 1036.6 L717.7 1032.4 L713.7 1028.7 L709.7 1025.7 L705.7 1023.4 L701.7 1021.8 L697.7 1020.4 L693.7 1019.2 L689.7 1017.8 L685.7 1015.9 L681.7 1014.3 L677.7 1012.9"/>
<path d="M933.7 1016.2 L929.7 1017.7 L925.7 1019.4 L921.7 1021.5 L917.7 1023.8 L913.7 1026.4 L909.7 1028.8 L905.7 1031.0 L901.7 1032.7 L897.7 1034.0 L893.7 1035.0 L889.7 1035.9 L885.7 1036.9 L881.7 1038.3 L877.7 1039.9 L873.7 1041.7 L869.7 1043.6 L865.7 1045.1 L861.7 1046.1 L857.7 1046.6 L853.7 1047.0 L849.7 1047.2 L845.7 1047.2 L841.7 1046.8 L837.7 1045.3 L833.7 1042.5 L829.7 1038.3 L825.7 1033.1 L821.7 1027.9 L817.7 1023.5 L813.7 1020.9 L809.7 1020.2 L805.7 1021.0 L801.7 1022.4 L797.7 1023.4 L793.7 1023.4 L789.7 1022.4 L785.7 1020.8 L781.7 1019.6 L777.7 1019.4 L773.7 1020.5 L769.7 1022.7 L765.7 1025.1 L761.7 1027.1 L757.7 1028.2 L753.7 1028.7 L749.7 1029.4 L745.7 1031.1 L741.7 1034.4 L737.7 1039.0 L733.7 1043.5 L729.7 1047.3"/>
<path d="M889.7 1000.7 L885.7 1004.3 L881.7 1008.0 L877.7 1011.8 L873.7 1015.5 L869.7 1019.1 L865.7 1022.2 L861.7 1024.8 L857.7 1026.7 L853.7 1028.1 L849.7 1029.1 L845.7 1029.8 L841.7 1030.6 L837.7 1031.6 L833.7 1033.0 L829.7 1035.1 L825.7 1037.8 L821.7 1041.2 L817.7 1045.4 L813.7 1050.0 L809.7 1055.1 L805.7 1060.1 L801.7 1064.5 L797.7 1068.1 L793.7 1070.8 L789.7 1072.7 L785.7 1073.8 L781.7 1074.8 L777.7 1075.6 L773.7 1076.6 L769.7 1077.6 L765.7 1078.8 L761.7 1080.2 L757.7 1081.8 L753.7 1083.4 L749.7 1085.1 L745.7 1086.6 L741.7 1087.8 L737.7 1088.7 L733.7 1089.3"/>
<path d="M917.7 960.2 L913.7 960.5 L909.7 960.0 L905.7 959.1 L901.7 958.0 L897.7 957.2 L893.7 957.0 L889.7 957.7 L885.7 959.2 L881.7 961.3 L877.7 963.8 L873.7 966.2 L869.7 968.4 L865.7 970.1 L861.7 971.2 L857.7 971.9 L853.7 972.2 L849.7 972.4 L845.7 972.7 L841.7 973.3 L837.7 974.3 L833.7 975.9 L829.7 978.0 L825.7 980.8 L821.7 984.1 L817.7 987.6 L813.7 991.0 L809.7 993.7 L805.7 995.4 L801.7 996.0 L797.7 995.5 L793.7 994.6 L789.7 993.7 L785.7 993.6 L781.7 994.6 L777.7 996.8 L773.7 999.7 L769.7 1002.8 L765.7 1005.4 L761.7 1007.1 L757.7 1007.8 L753.7 1007.6 L749.7 1007.0 L745.7 1006.4 L741.7 1006.1 L737.7 1006.1 L733.7 1006.5 L729.7 1006.9 L725.7 1007.3 L721.7 1007.8 L717.7 1008.5 L713.7 1009.6 L709.7 1011.0 L705.7 1012.6 L701.7 1013.9 L697.7 1014.5 L693.7 1013.8 L689.7 1011.9 L685.7 1008.9 L681.7 1005.5 L677.7 1002.4 L673.7 1000.2 L669.7 999.1 L665.7 998.9 L661.7 999.2"/>
<path d="M817.7 1022.5 L813.7 1025.1 L809.7 1028.2 L805.7 1031.6 L801.7 1034.8 L797.7 1037.5 L793.7 1039.4 L789.7 1040.4 L785.7 1040.5 L781.7 1040.0 L777.7 1039.4 L773.7 1039.1 L769.7 1039.2 L765.7 1039.7 L761.7 1040.4 L757.7 1041.1 L753.7 1041.5 L749.7 1041.5 L745.7 1041.1 L741.7 1040.6 L737.7 1040.1 L733.7 1039.8 L729.7 1039.6 L725.7 1039.4 L721.7 1039.3 L717.7 1039.1"/>
<path d="M965.7 967.1 L961.7 968.3 L957.7 970.1 L953.7 972.3 L949.7 975.2 L945.7 978.5 L941.7 982.2 L937.7 986.0 L933.7 989.7 L929.7 993.2 L925.7 996.5 L921.7 999.4 L917.7 1002.1 L913.7 1004.7 L909.7 1007.3 L905.7 1010.0 L901.7 1012.3 L897.7 1014.0"/>
<path d="M989.7 969.9 L985.7 971.4 L981.7 973.0 L977.7 974.7 L973.7 976.7 L969.7 978.9 L965.7 981.3 L961.7 983.6 L957.7 985.5 L953.7 986.8 L949.7 987.2 L945.7 986.7 L941.7 985.3 L937.7 983.2 L933.7 980.9 L929.7 978.8 L925.7 977.4 L921.7 976.6 L917.7 976.3"/>
<path d="M1001.7 952.4 L997.7 952.6 L993.7 953.0 L989.7 953.8 L985.7 954.9 L981.7 956.3 L977.7 957.9 L973.7 959.8 L969.7 961.7 L965.7 963.7 L961.7 965.2 L957.7 966.4"/>
<path d="M877.7 1041.8 L873.7 1044.9 L869.7 1047.7 L865.7 1050.1 L861.7 1052.0 L857.7 1053.4 L853.7 1054.2 L849.7 1054.3 L845.7 1053.9 L841.7 1053.2 L837.7 1052.3 L833.7 1051.5 L829.7 1051.2 L825.7 1051.2 L821.7 1051.8 L817.7 1052.6 L813.7 1053.5 L809.7 1054.2"/>
<path d="M941.7 968.5 L937.7 969.6 L933.7 969.9 L929.7 969.6 L925.7 968.5 L921.7 966.8 L917.7 964.7 L913.7 962.5 L909.7 960.7 L905.7 959.6 L901.7 959.5 L897.7 960.4 L893.7 962.3 L889.7 964.8 L885.7 967.7 L881.7 970.4 L877.7 972.9 L873.7 975.0 L869.7 976.7 L865.7 977.9 L861.7 979.0 L857.7 980.1 L853.7 981.5 L849.7 983.4 L845.7 985.8 L841.7 988.6 L837.7 991.9 L833.7 995.2 L829.7 998.4 L825.7 1001.2 L821.7 1003.6 L817.7 1005.4 L813.7 1006.9 L809.7 1008.1 L805.7 1009.3 L801.7 1010.6 L797.7 1012.3 L793.7 1014.3 L789.7 1016.7 L785.7 1019.4 L781.7 1022.1 L777.7 1024.9 L773.7 1027.5 L769.7 1029.6 L765.7 1031.0"/>
<path d="M873.7 1057.6 L869.7 1059.3 L865.7 1061.2 L861.7 1063.1 L857.7 1064.8 L853.7 1066.1 L849.7 1066.8 L845.7 1067.0 L841.7 1066.8 L837.7 1066.8 L833.7 1067.3 L829.7 1068.5 L825.7 1070.5 L821.7 1072.7 L817.7 1074.5 L813.7 1075.7 L809.7 1076.1 L805.7 1076.2 L801.7 1076.6 L797.7 1077.8 L793.7 1080.1 L789.7 1083.1 L785.7 1086.0 L781.7 1087.7 L777.7 1087.7 L773.7 1086.1 L769.7 1083.6 L765.7 1081.5 L761.7 1080.7 L757.7 1081.8 L753.7 1084.5 L749.7 1087.5 L745.7 1089.6 L741.7 1089.6 L737.7 1087.6 L733.7 1084.5 L729.7 1081.6 L725.7 1080.5 L721.7 1081.8 L717.7 1085.0 L713.7 1088.5 L709.7 1090.6 L705.7 1090.2 L701.7 1087.5 L697.7 1083.7 L693.7 1080.8 L689.7 1080.7 L685.7 1083.7 L681.7 1089.3 L677.7 1095.5 L673.7 1100.3 L669.7 1102.4 L665.7 1101.6 L661.7 1099.1 L657.7 1096.5 L653.7 1095.9 L649.7 1098.0 L645.7 1101.2 L641.7 1104.8"/>
<path d="M853.7 995.3 L849.7 997.8 L845.7 1000.0 L841.7 1001.9 L837.7 1003.5 L833.7 1005.0 L829.7 1006.5 L825.7 1008.0 L821.7 1009.7 L817.7 1011.6 L813.7 1013.2 L809.7 1014.4"/>
<path d="M841.7 1024.1 L837.7 1022.3 L833.7 1021.5 L829.7 1021.7 L825.7 1022.9 L821.7 1024.9 L817.7 1027.6 L813.7 1030.8 L809.7 1034.3 L805.7 1037.8 L801.7 1041.2 L797.7 1044.2 L793.7 1046.8 L789.7 1049.1 L785.7 1051.1 L781.7 1053.0 L777.7 1054.9 L773.7 1057.0 L769.7 1059.3 L765.7 1062.0 L761.7 1065.0 L757.7 1068.2 L753.7 1071.5 L749.7 1074.5 L745.7 1077.1 L741.7 1079.2 L737.7 1080.8 L733.7 1081.8 L729.7 1082.7 L725.7 1083.5 L721.7 1084.2 L717.7 1085.0 L713.7 1085.7 L709.7 1086.4 L705.7 1087.2 L701.7 1088.0 L697.7 1088.9 L693.7 1089.9 L689.7 1091.0 L685.7 1092.3 L681.7 1093.7 L677.7 1095.2 L673.7 1096.7 L669.7 1098.1 L665.7 1099.3 L661.7 1100.2 L657.7 1100.8"/>
<path d="M941.7 1023.9 L937.7 1027.5 L933.7 1031.4 L929.7 1035.4 L925.7 1039.4 L921.7 1043.6 L917.7 1047.8 L913.7 1052.0 L909.7 1055.8 L905.7 1059.1 L901.7 1061.6 L897.7 1063.4 L893.7 1064.5 L889.7 1065.6 L885.7 1066.8 L881.7 1068.7 L877.7 1071.2 L873.7 1074.4 L869.7 1077.7 L865.7 1080.6 L861.7 1082.6 L857.7 1083.5 L853.7 1083.6 L849.7 1083.2"/>
<path d="M929.7 1039.0 L925.7 1039.7 L921.7 1040.5 L917.7 1041.5 L913.7 1042.7 L909.7 1044.3 L905.7 1046.3 L901.7 1048.8 L897.7 1051.6 L893.7 1054.2 L889.7 1056.2 L885.7 1057.5 L881.7 1057.9 L877.7 1058.0 L873.7 1058.3 L869.7 1059.3 L865.7 1060.5 L861.7 1061.7"/>
<path d="M1013.7 986.1 L1009.7 987.9 L1005.7 989.6 L1001.7 991.6 L997.7 994.1 L993.7 996.9 L989.7 1000.1 L985.7 1003.6 L981.7 1007.2 L977.7 1010.7 L973.7 1014.1 L969.7 1017.3 L965.7 1020.3 L961.7 1023.2 L957.7 1026.0 L953.7 1028.7 L949.7 1031.4 L945.7 1034.0 L941.7 1036.8 L937.7 1039.7 L933.7 1042.8 L929.7 1045.8 L925.7 1048.7 L921.7 1051.3 L917.7 1053.2 L913.7 1054.5"/>
<path d="M969.7 1044.0 L965.7 1046.8 L961.7 1049.2 L957.7 1051.2 L953.7 1052.9 L949.7 1054.5 L945.7 1055.9 L941.7 1057.4 L937.7 1059.0 L933.7 1060.8 L929.7 1062.6 L925.7 1064.2 L921.7 1065.5 L917.7 1066.4 L913.7 1066.8 L909.7 1066.8 L905.7 1066.4 L901.7 1065.9 L897.7 1065.5 L893.7 1065.5 L889.7 1066.1 L885.7 1067.5 L881.7 1069.0 L877.7 1070.4"/>
<path d="M953.7 1018.9 L949.7 1021.4 L945.7 1023.6 L941.7 1025.6 L937.7 1027.4 L933.7 1029.3 L929.7 1031.3 L925.7 1033.5 L921.7 1036.1 L917.7 1039.0 L913.7 1042.1 L909.7 1045.4 L905.7 1048.6 L901.7 1051.6 L897.7 1054.2 L893.7 1056.5 L889.7 1058.3 L885.7 1059.7 L881.7 1060.9 L877.7 1061.8 L873.7 1062.8 L869.7 1063.9 L865.7 1065.1 L861.7 1066.2 L857.7 1067.2"/>
<path d="M961.7 1020.4 L957.7 1022.4 L953.7 1024.4 L949.7 1026.1 L945.7 1027.4 L941.7 1028.4 L937.7 1029.1 L933.7 1029.9 L929.7 1030.8 L925.7 1032.0 L921.7 1033.1 L917.7 1034.1"/>
<path d="M893.7 1009.9 L889.7 1013.2 L885.7 1017.0 L881.7 1021.4 L877.7 1026.3 L873.7 1031.8 L869.7 1037.6 L865.7 1043.2 L861.7 1048.1 L857.7 1052.3 L853.7 1055.6 L849.7 1058.1 L845.7 1060.3 L841.7 1062.3 L837.7 1064.1 L833.7 1065.6 L829.7 1066.9 L825.7 1067.8 L821.7 1068.5 L817.7 1069.1 L813.7 1069.6 L809.7 1070.2 L805.7 1070.8 L801.7 1071.3"/>
<path d="M1033.7 995.1 L1029.7 996.8 L1025.7 998.5 L1021.7 1000.2 L1017.7 1001.8 L1013.7 1003.2 L1009.7 1004.5 L1005.7 1005.7 L1001.7 1007.0 L997.7 1008.4 L993.7 1010.1 L989.7 1012.1 L985.7 1014.3 L981.7 1016.5 L977.7 1018.7 L973.7 1020.8 L969.7 1022.8 L965.7 1024.7 L961.7 1026.6 L957.7 1028.4 L953.7 1030.1 L949.7 1031.9 L945.7 1033.8 L941.7 1036.0 L937.7 1038.4 L933.7 1041.1 L929.7 1044.0 L925.7 1046.9 L921.7 1049.2 L917.7 1050.9"/>
<path d="M981.7 1042.5 L977.7 1045.8 L973.7 1049.0 L969.7 1052.2 L965.7 1055.2 L961.7 1058.3 L957.7 1061.3 L953.7 1063.8 L949.7 1065.6"/>
<path d="M945.7 1052.7 L941.7 1052.8 L937.7 1053.1 L933.7 1053.8 L929.7 1055.0 L925.7 1056.5 L921.7 1058.4 L917.7 1060.5 L913.7 1062.6 L909.7 1064.4 L905.7 1066.0 L901.7 1067.3 L897.7 1068.3 L893.7 1069.0 L889.7 1069.6 L885.7 1070.2 L881.7 1071.0 L877.7 1071.9 L873.7 1073.0 L869.7 1074.4 L865.7 1075.9 L861.7 1077.4 L857.7 1078.8 L853.7 1080.1 L849.7 1081.3 L845.7 1082.2 L841.7 1082.8"/>
<path d="M929.7 1066.3 L925.7 1069.1 L921.7 1071.7 L917.7 1074.0 L913.7 1076.2 L909.7 1078.3 L905.7 1080.4 L901.7 1082.4 L897.7 1084.5 L893.7 1086.5 L889.7 1088.4 L885.7 1090.1 L881.7 1091.4 L877.7 1092.5 L873.7 1093.1 L869.7 1093.5 L865.7 1093.6 L861.7 1093.6 L857.7 1093.5 L853.7 1093.4"/>
<path d="M1037.7 988.9 L1033.7 990.9 L1029.7 992.7 L1025.7 994.5 L1021.7 996.3 L1017.7 998.3 L1013.7 1000.4 L1009.7 1002.5 L1005.7 1004.6 L1001.7 1006.8 L997.7 1009.1 L993.7 1011.6 L989.7 1014.2 L985.7 1017.0 L981.7 1019.3 L977.7 1021.0"/>
<path d="M913.7 940.1 L909.7 941.2 L905.7 942.4 L901.7 943.6 L897.7 944.8 L893.7 945.9 L889.7 946.9 L885.7 948.0 L881.7 949.3 L877.7 950.9 L873.7 952.7 L869.7 954.7 L865.7 956.6 L861.7 958.2 L857.7 959.2 L853.7 959.7 L849.7 959.7 L845.7 959.7 L841.7 959.9 L837.7 960.6 L833.7 962.0 L829.7 963.9 L825.7 966.2 L821.7 968.3 L817.7 970.0 L813.7 971.1"/>
<path d="M865.7 968.0 L861.7 973.0 L857.7 978.0 L853.7 982.5 L849.7 986.0 L845.7 988.4 L841.7 989.7 L837.7 990.0 L833.7 989.7 L829.7 989.2 L825.7 988.9 L821.7 989.1 L817.7 989.9 L813.7 990.8 L809.7 991.8"/>
<path d="M889.7 947.4 L885.7 948.7 L881.7 950.0 L877.7 951.3 L873.7 952.6 L869.7 954.0 L865.7 955.5 L861.7 956.8 L857.7 958.2 L853.7 959.4 L849.7 960.6 L845.7 961.6 L841.7 962.5 L837.7 963.3 L833.7 964.0 L829.7 964.6 L825.7 965.1 L821.7 965.6 L817.7 966.2 L813.7 966.9 L809.7 967.8 L805.7 968.8 L801.7 970.1 L797.7 971.5 L793.7 973.0 L789.7 974.6 L785.7 976.1 L781.7 977.4 L777.7 978.6 L773.7 979.5 L769.7 980.1 L765.7 980.5 L761.7 980.7 L757.7 980.8 L753.7 980.9 L749.7 981.2 L745.7 981.7 L741.7 982.3 L737.7 983.2 L733.7 984.4 L729.7 985.6 L725.7 987.0 L721.7 988.4 L717.7 989.7 L713.7 990.8 L709.7 991.6 L705.7 992.6 L701.7 993.4 L697.7 994.0 L693.7 994.0 L689.7 993.1 L685.7 991.8 L681.7 990.3 L677.7 989.0"/>
<path d="M829.7 1001.6 L825.7 1004.7 L821.7 1007.1 L817.7 1009.0 L813.7 1010.3 L809.7 1011.3 L805.7 1012.2 L801.7 1013.2 L797.7 1014.7 L793.7 1016.7 L789.7 1019.3 L785.7 1022.4 L781.7 1025.8 L777.7 1029.2 L773.7 1032.3 L769.7 1034.8 L765.7 1036.5 L761.7 1037.3 L757.7 1037.0 L753.7 1035.9 L749.7 1034.0 L745.7 1031.7 L741.7 1029.1 L737.7 1026.7 L733.7 1024.9 L729.7 1024.0 L725.7 1024.3 L721.7 1026.0 L717.7 1029.1 L713.7 1033.4 L709.7 1038.5 L705.7 1044.0 L701.7 1049.1 L697.7 1053.1 L693.7 1055.5 L689.7 1055.7 L685.7 1053.4 L681.7 1048.9 L677.7 1042.4 L673.7 1036.3 L669.7 1031.3"/>
<path d="M997.7 925.4 L993.7 927.0 L989.7 928.5 L985.7 929.6 L981.7 930.6 L977.7 931.4 L973.7 932.0 L969.7 932.6 L965.7 933.2 L961.7 934.1 L957.7 935.4 L953.7 936.9 L949.7 938.5 L945.7 939.9 L941.7 940.5 L937.7 940.2 L933.7 939.2 L929.7 937.9 L925.7 936.7 L921.7 936.2 L917.7 936.8 L913.7 938.3 L909.7 940.5 L905.7 943.1 L901.7 945.6 L897.7 947.5 L893.7 948.7 L889.7 948.9 L885.7 948.6 L881.7 948.1 L877.7 947.5"/>
<path d="M873.7 952.8 L869.7 954.4 L865.7 956.1 L861.7 957.9 L857.7 959.6 L853.7 961.0 L849.7 961.9 L845.7 962.0 L841.7 961.7 L837.7 961.3"/>
<path d="M838.8 949.4 C835.9 951.3 828.8 956.1 821.4 960.4 C813.9 964.7 801.5 971.4 793.9 975.1 C786.3 978.7 783.2 979.3 775.6 982.4 C768.0 985.4 758.8 989.9 748.1 993.4 C737.5 996.9 720.7 1002.1 711.5 1003.4 C702.4 1004.8 699.9 1002.8 693.2 1001.6 C686.5 1000.4 678.0 998.1 671.3 996.1 C664.5 994.1 656.0 990.8 653.0 989.7"/>
<path d="M860.0 959.9 C857.8 961.1 851.9 964.0 847.0 966.8 C842.1 969.6 836.3 973.7 830.5 976.9 C824.7 980.1 818.3 983.0 812.2 986.0 C806.1 989.1 797.0 993.7 793.9 995.2"/>
<path d="M847.0 980.5 C839.7 983.6 816.5 994.3 803.1 998.9 C789.6 1003.4 778.7 1005.6 766.5 1008.0 C754.2 1010.5 741.1 1011.7 729.8 1013.5 C718.6 1015.3 707.0 1019.3 698.7 1019.0 C690.5 1018.7 685.9 1014.4 680.4 1011.7 C674.9 1008.9 670.3 1004.7 665.8 1002.5 C661.2 1000.3 657.4 999.2 653.0 998.5 C648.5 997.8 641.5 998.3 639.2 998.3"/>
<path d="M847.0 991.5 C839.7 994.0 819.5 1001.9 803.1 1006.2 C786.6 1010.5 763.4 1014.9 748.1 1017.2 C732.9 1019.5 721.3 1019.6 711.5 1019.9 C701.8 1020.2 695.1 1020.1 689.6 1019.0 C684.1 1017.9 683.2 1014.1 678.6 1013.5 C674.0 1012.9 667.7 1015.7 662.1 1015.3 C656.5 1015.0 647.6 1012.0 644.7 1011.3"/>
<path d="M847.0 995.2 C839.7 997.6 819.5 1005.6 803.1 1009.8 C786.6 1014.1 765.5 1018.4 748.1 1020.8 C730.8 1023.3 709.4 1023.7 698.7 1024.5 C688.0 1025.2 692.3 1020.8 684.1 1025.4 C675.8 1030.0 655.1 1047.5 649.3 1051.9"/>
<path d="M847.0 1002.5 C839.7 1004.3 816.5 1010.6 803.1 1013.5 C789.6 1016.4 781.1 1017.0 766.5 1019.9 C751.8 1022.8 724.3 1028.6 715.2 1030.9 C706.0 1033.2 712.4 1030.1 711.5 1033.6 C710.6 1037.1 710.0 1048.9 709.7 1051.9"/>
<path d="M744.5 955.5 C746.9 956.9 753.9 960.5 759.1 964.1 C764.3 967.6 772.3 972.9 775.6 976.9 C779.0 980.9 779.3 984.5 779.3 987.9 C779.3 991.2 775.6 995.0 775.6 997.0 C775.6 999.0 774.7 1000.1 779.3 999.8 C783.8 999.5 796.0 997.5 803.1 995.2 C810.1 992.9 814.1 989.7 821.4 986.0 C828.7 982.4 842.7 975.4 847.0 973.2"/>
<path d="M761.9 966.8 C764.2 968.2 770.3 972.2 775.6 975.1 C780.9 978.0 787.8 981.2 793.9 984.2 C800.0 987.3 804.6 989.7 812.2 993.4 C819.8 997.0 829.0 1002.2 839.7 1006.2 C850.4 1010.1 870.2 1015.3 876.3 1017.2"/>
<path d="M1063.0 972.3 C1065.9 973.5 1075.0 977.1 1080.2 979.2 C1085.3 981.3 1090.8 983.2 1093.9 984.9 C1097.1 986.6 1098.7 988.1 1099.1 989.5 C1099.4 990.9 1097.8 993.0 1096.2 993.5 C1094.6 994.0 1091.6 993.4 1089.3 992.4 C1087.0 991.3 1083.6 988.1 1082.5 987.2"/>
<path d="M1040.1 975.8 C1041.5 977.3 1046.0 981.9 1048.1 984.9 C1050.2 988.0 1051.6 990.8 1052.7 994.1 C1053.9 997.3 1053.3 1001.7 1055.0 1004.4 C1056.7 1007.0 1061.1 1008.9 1063.0 1010.1 C1064.9 1011.3 1066.6 1011.8 1066.5 1011.8 C1066.3 1011.8 1062.6 1010.4 1061.9 1010.1"/>
<path d="M988.6 1010.1 C992.5 1012.0 1003.9 1018.1 1011.5 1021.5 C1019.2 1025.0 1027.7 1029.9 1034.4 1030.7 C1041.1 1031.4 1045.9 1027.6 1051.6 1026.1 C1057.3 1024.6 1064.9 1022.1 1068.7 1021.5 C1072.6 1021.0 1074.3 1022.7 1074.5 1022.7 C1074.7 1022.7 1070.6 1021.7 1069.9 1021.5"/>
<path d="M1018.4 983.8 C1018.8 985.5 1021.1 991.2 1020.7 994.1 C1020.3 996.9 1019.5 998.6 1016.1 1000.9 C1012.7 1003.2 1004.7 1007.0 1000.1 1007.8 C995.5 1008.6 990.6 1005.9 988.6 1005.5"/>
<path d="M969.2 989.5 C969.4 991.4 969.4 997.1 970.3 1000.9 C971.3 1004.8 973.2 1010.9 974.9 1012.4 C976.6 1013.9 979.4 1011.6 980.6 1010.1 C981.9 1008.6 982.1 1004.4 982.4 1003.2"/>
<path d="M920.0 1039.8 C922.3 1037.9 929.5 1032.6 933.7 1028.4 C937.9 1024.2 941.7 1016.6 945.2 1014.7 C948.6 1012.8 950.9 1017.0 954.3 1017.0 C957.8 1017.0 963.9 1015.0 965.8 1014.7"/>
<path d="M970.3 1039.8 C973.4 1038.7 981.8 1034.5 988.6 1033.0 C995.5 1031.4 1003.9 1030.7 1011.5 1030.7 C1019.2 1030.7 1028.7 1033.4 1034.4 1033.0 C1040.1 1032.6 1044.0 1029.2 1045.9 1028.4"/>
<path d="M1019.5 1051.3 C1022.0 1050.5 1029.1 1048.8 1034.4 1046.7 C1039.8 1044.6 1046.2 1041.9 1051.6 1038.7 C1056.9 1035.5 1064.0 1029.2 1066.5 1027.3"/>
<path d="M977.2 1044.4 C975.3 1043.7 966.9 1041.7 965.8 1039.8 C964.6 1037.9 968.1 1032.6 970.3 1033.0 C972.6 1033.4 978.0 1040.6 979.5 1042.1"/>
</g>
<g fill="none" stroke="#696969" stroke-width="1.4" stroke-linejoin="round">
<path d="M1337.7 752.6 L1333.7 758.0 L1329.7 761.6 L1325.7 766.0 L1321.7 770.3 L1317.7 774.5 L1313.7 778.7 L1309.7 782.6 L1305.7 786.2 L1301.7 789.7 L1297.7 792.9 L1293.7 796.0 L1289.7 799.1 L1285.7 802.1 L1281.7 805.2 L1277.7 808.2 L1273.7 811.0 L1269.7 813.8 L1265.7 816.4 L1261.7 818.9 L1257.7 821.3 L1253.7 823.7 L1249.7 826.0 L1245.7 828.3 L1241.7 830.7 L1237.7 833.1 L1233.7 835.6 L1229.7 838.2 L1225.7 840.9 L1221.7 843.6 L1217.7 846.3 L1213.7 849.0 L1209.7 851.7 L1205.7 854.4 L1201.7 857.1 L1197.7 859.9 L1193.7 862.7 L1189.7 865.6 L1185.7 868.6 L1181.7 871.6 L1177.7 874.7 L1173.7 877.7 L1169.7 880.6 L1165.7 883.2 L1161.7 885.5 L1157.7 887.5 L1153.7 889.2 L1149.7 890.8 L1145.7 892.3 L1141.7 893.7 L1137.7 895.0 L1133.7 896.3 L1129.7 897.8 L1125.7 899.4 L1121.7 901.1 L1117.7 903.1 L1113.7 905.1 L1109.7 907.3 L1105.7 909.4 L1101.7 911.5 L1097.7 913.6 L1093.7 915.6 L1089.7 917.5 L1085.7 919.3 L1081.7 921.1 L1077.7 923.0 L1073.7 925.0 L1069.7 927.0 L1065.7 929.0 L1061.7 931.0 L1057.7 932.8 L1053.7 934.6 L1049.7 936.0 L1045.7 937.0 L1041.7 937.5 L1037.7 937.6 L1033.7 937.4 L1029.7 936.8 L1025.7 936.1 L1021.7 935.5 L1017.7 935.1 L1013.7 935.0 L1009.7 935.2 L1005.7 935.8 L1001.7 936.5 L997.7 937.3 L993.7 938.1 L989.7 938.8 L985.7 939.3 L981.7 939.6 L977.7 939.7 L973.7 939.8 L969.7 939.9 L965.7 940.4 L961.7 941.3 L957.7 942.8 L953.7 945.0 L949.7 947.8 L945.7 951.0 L941.7 954.4 L937.7 957.8 L933.7 960.7 L929.7 963.1 L925.7 964.8 L921.7 965.9 L917.7 966.4 L913.7 966.7 L909.7 967.0 L905.7 967.7 L901.7 969.1"/>
<path d="M1337.7 752.6 L1333.7 758.0 L1329.7 761.6 L1325.7 765.9 L1321.7 770.2 L1317.7 774.5 L1313.7 778.6 L1309.7 782.5 L1305.7 786.2 L1301.7 789.7 L1297.7 792.9 L1293.7 796.1 L1289.7 799.2 L1285.7 802.3 L1281.7 805.4 L1277.7 808.4 L1273.7 811.4 L1269.7 814.3 L1265.7 817.1 L1261.7 819.9 L1257.7 822.8 L1253.7 825.7 L1249.7 828.7 L1245.7 831.8 L1241.7 834.9 L1237.7 838.0 L1233.7 841.2 L1229.7 844.4 L1225.7 847.6 L1221.7 850.8 L1217.7 854.0 L1213.7 857.3 L1209.7 860.6 L1205.7 864.0 L1201.7 867.5 L1197.7 871.0 L1193.7 874.5 L1189.7 878.0 L1185.7 881.3 L1181.7 884.6 L1177.7 887.8 L1173.7 890.9 L1169.7 893.7 L1165.7 896.3 L1161.7 898.8 L1157.7 901.1 L1153.7 903.5 L1149.7 905.9 L1145.7 908.3 L1141.7 910.5 L1137.7 912.7 L1133.7 914.6 L1129.7 916.4 L1125.7 918.1 L1121.7 919.6 L1117.7 921.2 L1113.7 922.8 L1109.7 924.4 L1105.7 926.2 L1101.7 927.9 L1097.7 929.8 L1093.7 931.5 L1089.7 933.2 L1085.7 934.7 L1081.7 936.0 L1077.7 937.1 L1073.7 938.2 L1069.7 939.3 L1065.7 940.7 L1061.7 942.4 L1057.7 944.3 L1053.7 946.4 L1049.7 948.5 L1045.7 950.5 L1041.7 952.1 L1037.7 953.4 L1033.7 954.2 L1029.7 954.9 L1025.7 955.5 L1021.7 956.2 L1017.7 957.1 L1013.7 958.2 L1009.7 959.5 L1005.7 961.0 L1001.7 962.5 L997.7 963.9 L993.7 965.2 L989.7 966.3 L985.7 967.2 L981.7 968.0 L977.7 968.8 L973.7 969.9 L969.7 971.7 L965.7 974.3 L961.7 977.6 L957.7 981.8 L953.7 986.3 L949.7 991.0 L945.7 995.4 L941.7 999.3 L937.7 1002.6 L933.7 1005.2 L929.7 1007.5 L925.7 1009.6 L921.7 1011.8"/>
<path d="M1337.7 752.6 L1333.7 758.0 L1329.7 761.6 L1325.7 765.9 L1321.7 770.2 L1317.7 774.5 L1313.7 778.6 L1309.7 782.5 L1305.7 786.1 L1301.7 789.6 L1297.7 792.8 L1293.7 795.9 L1289.7 798.9 L1285.7 801.9 L1281.7 804.9 L1277.7 807.9 L1273.7 810.7 L1269.7 813.5 L1265.7 816.2 L1261.7 818.8 L1257.7 821.4 L1253.7 824.0 L1249.7 826.6 L1245.7 829.1 L1241.7 831.7 L1237.7 834.3 L1233.7 836.8 L1229.7 839.3 L1225.7 841.8 L1221.7 844.1 L1217.7 846.3 L1213.7 848.4 L1209.7 850.5 L1205.7 852.6 L1201.7 854.7 L1197.7 857.0 L1193.7 859.4 L1189.7 862.0 L1185.7 864.7 L1181.7 867.5 L1177.7 870.4 L1173.7 873.4 L1169.7 876.2 L1165.7 878.9 L1161.7 881.3 L1157.7 883.6 L1153.7 885.7 L1149.7 887.8 L1145.7 889.8 L1141.7 891.7 L1137.7 893.5 L1133.7 895.3 L1129.7 897.1 L1125.7 898.9 L1121.7 900.7 L1117.7 902.7 L1113.7 904.7 L1109.7 906.9 L1105.7 909.1 L1101.7 911.5 L1097.7 914.0 L1093.7 916.6 L1089.7 919.3 L1085.7 922.0 L1081.7 924.7 L1077.7 927.4 L1073.7 930.0 L1069.7 932.6 L1065.7 935.0 L1061.7 937.4 L1057.7 939.6 L1053.7 941.7 L1049.7 943.8 L1045.7 945.7 L1041.7 947.4 L1037.7 948.9 L1033.7 950.2 L1029.7 951.1 L1025.7 951.8 L1021.7 952.3 L1017.7 952.5 L1013.7 952.4 L1009.7 952.2 L1005.7 951.9 L1001.7 951.6 L997.7 951.5 L993.7 951.6 L989.7 952.0 L985.7 952.8 L981.7 953.9 L977.7 955.5 L973.7 957.4 L969.7 959.6 L965.7 962.0 L961.7 964.4 L957.7 966.8 L953.7 968.8 L949.7 970.3 L945.7 971.3 L941.7 971.6 L937.7 971.2 L933.7 970.2 L929.7 968.8 L925.7 967.2 L921.7 965.5 L917.7 964.0 L913.7 963.0 L909.7 962.6 L905.7 963.0 L901.7 964.4 L897.7 966.6 L893.7 969.6 L889.7 973.1"/>
<path d="M1337.7 752.6 L1333.7 758.0 L1329.7 761.6 L1325.7 766.0 L1321.7 770.4 L1317.7 774.6 L1313.7 778.8 L1309.7 782.7 L1305.7 786.5 L1301.7 790.0 L1297.7 793.3 L1293.7 796.4 L1289.7 799.5 L1285.7 802.6 L1281.7 805.7 L1277.7 808.8 L1273.7 811.8 L1269.7 814.8 L1265.7 817.7 L1261.7 820.5 L1257.7 823.3 L1253.7 826.1 L1249.7 828.8 L1245.7 831.5 L1241.7 834.1 L1237.7 836.8 L1233.7 839.5 L1229.7 842.2 L1225.7 845.1 L1221.7 848.0 L1217.7 850.9 L1213.7 853.9 L1209.7 857.0 L1205.7 860.0 L1201.7 863.1 L1197.7 866.2 L1193.7 869.3 L1189.7 872.4 L1185.7 875.6 L1181.7 878.9 L1177.7 882.3 L1173.7 885.8 L1169.7 889.3 L1165.7 892.6 L1161.7 895.7 L1157.7 898.6 L1153.7 901.3 L1149.7 903.9 L1145.7 906.3 L1141.7 908.8 L1137.7 911.1 L1133.7 913.4 L1129.7 915.7 L1125.7 918.1 L1121.7 920.4 L1117.7 922.9 L1113.7 925.3 L1109.7 927.7 L1105.7 930.0 L1101.7 932.3 L1097.7 934.5 L1093.7 936.6 L1089.7 938.7 L1085.7 940.8 L1081.7 943.0 L1077.7 945.2 L1073.7 947.5 L1069.7 949.8 L1065.7 952.2 L1061.7 954.5 L1057.7 956.6 L1053.7 958.6 L1049.7 960.2 L1045.7 961.6 L1041.7 962.6 L1037.7 963.4 L1033.7 964.1 L1029.7 964.9 L1025.7 965.8 L1021.7 966.9 L1017.7 968.1 L1013.7 969.4 L1009.7 970.6 L1005.7 971.5 L1001.7 972.4 L997.7 973.1 L993.7 973.5 L989.7 973.9 L985.7 974.4 L981.7 974.8 L977.7 975.4 L973.7 976.3 L969.7 977.4 L965.7 978.7 L961.7 979.9 L957.7 980.8 L953.7 981.2 L949.7 981.1 L945.7 980.5 L941.7 979.7 L937.7 978.9 L933.7 978.7 L929.7 979.2 L925.7 980.6 L921.7 983.0 L917.7 986.0 L913.7 989.5 L909.7 992.9 L905.7 996.1 L901.7 998.9 L897.7 1001.1 L893.7 1003.0 L889.7 1004.8 L885.7 1006.8 L881.7 1009.2 L877.7 1012.1 L873.7 1015.5 L869.7 1019.2 L865.7 1022.8 L861.7 1025.8 L857.7 1027.7 L853.7 1028.3 L849.7 1027.6 L845.7 1025.8 L841.7 1023.3 L837.7 1020.7 L833.7 1018.3 L829.7 1016.4 L825.7 1015.4 L821.7 1015.1 L817.7 1015.4"/>
<path d="M1337.7 752.6 L1333.7 758.1 L1329.7 761.8 L1325.7 766.3 L1321.7 770.8 L1317.7 775.2 L1313.7 779.5 L1309.7 783.6 L1305.7 787.5 L1301.7 791.1 L1297.7 794.5 L1293.7 797.8 L1289.7 801.0 L1285.7 804.2 L1281.7 807.4 L1277.7 810.6 L1273.7 813.7 L1269.7 816.7 L1265.7 819.7 L1261.7 822.6 L1257.7 825.4 L1253.7 828.3 L1249.7 831.1 L1245.7 834.0 L1241.7 836.9 L1237.7 839.8 L1233.7 842.8 L1229.7 845.9 L1225.7 849.0 L1221.7 852.2 L1217.7 855.4 L1213.7 858.7 L1209.7 862.1 L1205.7 865.7 L1201.7 869.3 L1197.7 873.0 L1193.7 876.8 L1189.7 880.6 L1185.7 884.4 L1181.7 888.2 L1177.7 891.9 L1173.7 895.3 L1169.7 898.4 L1165.7 901.2 L1161.7 903.7 L1157.7 906.0 L1153.7 908.2 L1149.7 910.4 L1145.7 912.6 L1141.7 914.8 L1137.7 916.9 L1133.7 918.9 L1129.7 920.8 L1125.7 922.6 L1121.7 924.3 L1117.7 925.9 L1113.7 927.5 L1109.7 929.0 L1105.7 930.8 L1101.7 932.7 L1097.7 934.9 L1093.7 937.3 L1089.7 940.0 L1085.7 942.8 L1081.7 945.7 L1077.7 948.6 L1073.7 951.5 L1069.7 954.2 L1065.7 956.7 L1061.7 958.9 L1057.7 961.0 L1053.7 962.9 L1049.7 964.6 L1045.7 966.0 L1041.7 967.4 L1037.7 968.6 L1033.7 969.8 L1029.7 970.9 L1025.7 972.0 L1021.7 973.2 L1017.7 974.4 L1013.7 975.4 L1009.7 976.3 L1005.7 977.1 L1001.7 978.0 L997.7 979.0 L993.7 980.3 L989.7 982.0 L985.7 984.1 L981.7 986.5 L977.7 989.1 L973.7 992.0 L969.7 995.1 L965.7 998.3 L961.7 1001.4 L957.7 1004.3 L953.7 1006.8 L949.7 1008.9 L945.7 1010.4 L941.7 1011.5 L937.7 1012.1 L933.7 1012.0 L929.7 1011.5 L925.7 1010.6 L921.7 1009.7 L917.7 1008.9 L913.7 1008.5 L909.7 1008.5 L905.7 1008.9 L901.7 1009.6 L897.7 1010.5 L893.7 1011.5 L889.7 1012.4 L885.7 1013.3 L881.7 1014.2"/>
<path d="M1337.7 752.6 L1333.7 757.8 L1329.7 761.2 L1325.7 765.3 L1321.7 769.4 L1317.7 773.3 L1313.7 777.1 L1309.7 780.6 L1305.7 784.0 L1301.7 787.2 L1297.7 790.3 L1293.7 793.2 L1289.7 796.2 L1285.7 799.1 L1281.7 802.1 L1277.7 804.9 L1273.7 807.7 L1269.7 810.4 L1265.7 812.9 L1261.7 815.4 L1257.7 817.7 L1253.7 820.0 L1249.7 822.3 L1245.7 824.7 L1241.7 827.1 L1237.7 829.6 L1233.7 832.2 L1229.7 835.0 L1225.7 837.8 L1221.7 840.6 L1217.7 843.4 L1213.7 846.3 L1209.7 849.0 L1205.7 851.9 L1201.7 854.7 L1197.7 857.6 L1193.7 860.7 L1189.7 863.8 L1185.7 867.0 L1181.7 870.3 L1177.7 873.6 L1173.7 876.9 L1169.7 879.9 L1165.7 882.6 L1161.7 885.1 L1157.7 887.2 L1153.7 889.3 L1149.7 891.3 L1145.7 893.3 L1141.7 895.6 L1137.7 897.9 L1133.7 900.5 L1129.7 903.3 L1125.7 906.3 L1121.7 909.4 L1117.7 912.6 L1113.7 915.6 L1109.7 918.6 L1105.7 921.4 L1101.7 924.1 L1097.7 926.8 L1093.7 929.4 L1089.7 932.0 L1085.7 934.6 L1081.7 937.3 L1077.7 939.9 L1073.7 942.5 L1069.7 945.1 L1065.7 947.5 L1061.7 949.7 L1057.7 951.7 L1053.7 953.4 L1049.7 954.7 L1045.7 955.6 L1041.7 956.1 L1037.7 956.4 L1033.7 956.7 L1029.7 957.2 L1025.7 958.1 L1021.7 959.4 L1017.7 960.9 L1013.7 962.5 L1009.7 964.1 L1005.7 965.5 L1001.7 966.6 L997.7 967.6 L993.7 968.3 L989.7 968.8 L985.7 969.2 L981.7 969.4 L977.7 969.6 L973.7 969.8 L969.7 970.2 L965.7 970.6 L961.7 971.1 L957.7 971.4 L953.7 971.4 L949.7 970.9 L945.7 970.1 L941.7 968.9 L937.7 967.5 L933.7 966.2 L929.7 965.4 L925.7 965.4 L921.7 966.3"/>
<path d="M1337.7 752.6 L1333.7 758.0 L1329.7 761.5 L1325.7 765.9 L1321.7 770.1 L1317.7 774.3 L1313.7 778.3 L1309.7 782.0 L1305.7 785.6 L1301.7 788.9 L1297.7 792.0 L1293.7 795.0 L1289.7 797.9 L1285.7 800.8 L1281.7 803.7 L1277.7 806.6 L1273.7 809.4 L1269.7 812.0 L1265.7 814.6 L1261.7 817.0 L1257.7 819.4 L1253.7 821.8 L1249.7 824.1 L1245.7 826.5 L1241.7 829.0 L1237.7 831.5 L1233.7 834.2 L1229.7 836.9 L1225.7 839.7 L1221.7 842.4 L1217.7 845.2 L1213.7 847.9 L1209.7 850.6 L1205.7 853.2 L1201.7 855.8 L1197.7 858.4 L1193.7 861.1 L1189.7 863.8 L1185.7 866.6 L1181.7 869.4 L1177.7 872.3 L1173.7 875.1 L1169.7 877.8 L1165.7 880.3 L1161.7 882.5 L1157.7 884.5 L1153.7 886.3 L1149.7 888.1 L1145.7 889.7 L1141.7 891.4 L1137.7 893.0 L1133.7 894.7 L1129.7 896.5 L1125.7 898.5 L1121.7 900.6 L1117.7 902.8 L1113.7 905.1 L1109.7 907.4 L1105.7 909.7 L1101.7 911.8 L1097.7 913.8 L1093.7 915.6 L1089.7 917.2 L1085.7 918.6 L1081.7 919.9 L1077.7 921.2 L1073.7 922.3 L1069.7 923.6 L1065.7 924.8 L1061.7 925.9 L1057.7 927.1 L1053.7 928.1 L1049.7 929.0 L1045.7 929.8 L1041.7 930.3 L1037.7 930.7 L1033.7 930.9 L1029.7 931.1 L1025.7 931.4 L1021.7 932.0 L1017.7 932.9 L1013.7 934.2 L1009.7 936.0 L1005.7 938.3 L1001.7 940.8 L997.7 943.7 L993.7 946.6 L989.7 949.5 L985.7 952.3 L981.7 954.8 L977.7 957.1 L973.7 959.1 L969.7 960.9 L965.7 962.7 L961.7 964.6 L957.7 966.8 L953.7 969.2 L949.7 971.9 L945.7 974.8 L941.7 977.6 L937.7 980.2 L933.7 982.2 L929.7 983.6 L925.7 984.3 L921.7 984.2 L917.7 983.5 L913.7 982.6 L909.7 981.6 L905.7 981.0 L901.7 981.0 L897.7 981.9 L893.7 983.6 L889.7 986.0 L885.7 988.8 L881.7 991.6 L877.7 994.2 L873.7 996.2"/>
<path d="M1337.7 752.6 L1333.7 758.1 L1329.7 761.7 L1325.7 766.2 L1321.7 770.7 L1317.7 775.0 L1313.7 779.3 L1309.7 783.3 L1305.7 787.1 L1301.7 790.6 L1297.7 793.9 L1293.7 797.0 L1289.7 800.1 L1285.7 803.2 L1281.7 806.3 L1277.7 809.5 L1273.7 812.5 L1269.7 815.5 L1265.7 818.4 L1261.7 821.2 L1257.7 824.0 L1253.7 826.8 L1249.7 829.5 L1245.7 832.2 L1241.7 835.0 L1237.7 837.9 L1233.7 840.8 L1229.7 843.8 L1225.7 846.9 L1221.7 850.1 L1217.7 853.3 L1213.7 856.5 L1209.7 859.7 L1205.7 863.0 L1201.7 866.4 L1197.7 869.7 L1193.7 873.1 L1189.7 876.5 L1185.7 879.9 L1181.7 883.3 L1177.7 886.8 L1173.7 890.2 L1169.7 893.4 L1165.7 896.5 L1161.7 899.4 L1157.7 902.1 L1153.7 904.8 L1149.7 907.4 L1145.7 910.0 L1141.7 912.5 L1137.7 914.9 L1133.7 917.1 L1129.7 919.3 L1125.7 921.3 L1121.7 923.3 L1117.7 925.3 L1113.7 927.3 L1109.7 929.3 L1105.7 931.4 L1101.7 933.7 L1097.7 935.9 L1093.7 938.2 L1089.7 940.5 L1085.7 942.7 L1081.7 944.7 L1077.7 946.5 L1073.7 948.2 L1069.7 949.7 L1065.7 951.2 L1061.7 952.6 L1057.7 954.0 L1053.7 955.5 L1049.7 957.0 L1045.7 958.4 L1041.7 959.8 L1037.7 961.1 L1033.7 962.1 L1029.7 962.9 L1025.7 963.6 L1021.7 964.1 L1017.7 964.3 L1013.7 964.5 L1009.7 964.7 L1005.7 965.1 L1001.7 965.9 L997.7 967.2 L993.7 969.0 L989.7 971.3 L985.7 973.9 L981.7 976.6 L977.7 979.1 L973.7 981.4 L969.7 983.1 L965.7 984.3 L961.7 985.0 L957.7 985.2 L953.7 985.2 L949.7 985.1 L945.7 985.1 L941.7 985.5 L937.7 986.3 L933.7 987.7 L929.7 989.5 L925.7 991.5 L921.7 993.6 L917.7 995.5 L913.7 997.1 L909.7 998.3 L905.7 999.1 L901.7 999.9 L897.7 1000.7 L893.7 1001.9 L889.7 1003.6 L885.7 1006.1 L881.7 1009.2 L877.7 1013.1 L873.7 1017.4 L869.7 1022.0 L865.7 1026.4 L861.7 1030.2 L857.7 1033.3 L853.7 1035.3 L849.7 1036.2 L845.7 1036.3 L841.7 1035.9 L837.7 1035.1 L833.7 1034.3 L829.7 1033.8 L825.7 1033.7 L821.7 1034.2 L817.7 1035.2 L813.7 1036.6 L809.7 1038.1 L805.7 1039.5 L801.7 1040.5 L797.7 1041.1"/>
<path d="M1337.7 752.6 L1333.7 758.1 L1329.7 761.8 L1325.7 766.3 L1321.7 770.8 L1317.7 775.2 L1313.7 779.5 L1309.7 783.6 L1305.7 787.4 L1301.7 791.1 L1297.7 794.5 L1293.7 797.7 L1289.7 800.9 L1285.7 804.1 L1281.7 807.3 L1277.7 810.5 L1273.7 813.6 L1269.7 816.6 L1265.7 819.5 L1261.7 822.4 L1257.7 825.2 L1253.7 828.0 L1249.7 830.8 L1245.7 833.6 L1241.7 836.6 L1237.7 839.6 L1233.7 842.7 L1229.7 845.8 L1225.7 849.1 L1221.7 852.4 L1217.7 855.6 L1213.7 858.9 L1209.7 862.2 L1205.7 865.4 L1201.7 868.7 L1197.7 872.0 L1193.7 875.3 L1189.7 878.6 L1185.7 881.9 L1181.7 885.2 L1177.7 888.5 L1173.7 891.7 L1169.7 894.7 L1165.7 897.5 L1161.7 900.0 L1157.7 902.4 L1153.7 904.7 L1149.7 907.0 L1145.7 909.3 L1141.7 911.6 L1137.7 913.9 L1133.7 916.1 L1129.7 918.2 L1125.7 920.3 L1121.7 922.4 L1117.7 924.6 L1113.7 926.9 L1109.7 929.2 L1105.7 931.7 L1101.7 934.4 L1097.7 937.2 L1093.7 940.3 L1089.7 943.4 L1085.7 946.5 L1081.7 949.6 L1077.7 952.5 L1073.7 955.3 L1069.7 957.9 L1065.7 960.3 L1061.7 962.4 L1057.7 964.3 L1053.7 966.0 L1049.7 967.4 L1045.7 968.6 L1041.7 969.5 L1037.7 970.3 L1033.7 970.9 L1029.7 971.4 L1025.7 971.9 L1021.7 972.5 L1017.7 973.0 L1013.7 973.5 L1009.7 974.0 L1005.7 974.4 L1001.7 974.9 L997.7 975.5 L993.7 976.4 L989.7 977.4 L985.7 978.6 L981.7 979.9 L977.7 981.2 L973.7 982.8 L969.7 984.8 L965.7 987.1 L961.7 990.0 L957.7 993.2 L953.7 996.8 L949.7 1000.4 L945.7 1004.0 L941.7 1007.2 L937.7 1010.2 L933.7 1012.7 L929.7 1014.9 L925.7 1016.6 L921.7 1017.8 L917.7 1018.4 L913.7 1018.6 L909.7 1018.4 L905.7 1018.1 L901.7 1018.1 L897.7 1018.4 L893.7 1019.2 L889.7 1020.5 L885.7 1022.0 L881.7 1023.8 L877.7 1025.6 L873.7 1027.4 L869.7 1028.9 L865.7 1030.1 L861.7 1030.7 L857.7 1030.7 L853.7 1030.4 L849.7 1029.6 L845.7 1028.8 L841.7 1028.1 L837.7 1027.7 L833.7 1027.8 L829.7 1028.4"/>
<path d="M1337.7 752.6 L1333.7 758.1 L1329.7 761.8 L1325.7 766.3 L1321.7 770.7 L1317.7 775.1 L1313.7 779.4 L1309.7 783.4 L1305.7 787.2 L1301.7 790.8 L1297.7 794.1 L1293.7 797.3 L1289.7 800.5 L1285.7 803.7 L1281.7 806.9 L1277.7 810.0 L1273.7 813.1 L1269.7 816.0 L1265.7 818.9 L1261.7 821.6 L1257.7 824.2 L1253.7 826.8 L1249.7 829.4 L1245.7 831.9 L1241.7 834.4 L1237.7 837.0 L1233.7 839.6 L1229.7 842.2 L1225.7 844.9 L1221.7 847.5 L1217.7 850.2 L1213.7 852.9 L1209.7 855.6 L1205.7 858.3 L1201.7 861.1 L1197.7 863.9 L1193.7 866.7 L1189.7 869.6 L1185.7 872.5 L1181.7 875.3 L1177.7 878.1 L1173.7 880.8 L1169.7 883.3 L1165.7 885.7 L1161.7 887.9 L1157.7 889.9 L1153.7 892.0 L1149.7 894.2 L1145.7 896.4 L1141.7 898.7 L1137.7 900.9 L1133.7 903.0 L1129.7 905.1 L1125.7 907.1 L1121.7 908.9 L1117.7 910.6 L1113.7 912.2 L1109.7 913.7 L1105.7 915.3 L1101.7 916.9 L1097.7 918.6 L1093.7 920.4 L1089.7 922.5 L1085.7 924.8 L1081.7 927.3 L1077.7 930.0 L1073.7 932.9 L1069.7 936.0 L1065.7 939.2 L1061.7 942.4 L1057.7 945.6 L1053.7 948.8 L1049.7 951.8 L1045.7 954.6 L1041.7 957.1 L1037.7 959.2 L1033.7 961.0 L1029.7 962.5 L1025.7 963.9 L1021.7 965.2 L1017.7 966.4 L1013.7 967.7 L1009.7 968.9 L1005.7 970.2 L1001.7 971.6 L997.7 973.3 L993.7 975.3 L989.7 977.5 L985.7 979.8 L981.7 982.0 L977.7 984.0 L973.7 985.6 L969.7 986.9 L965.7 987.8 L961.7 988.3 L957.7 988.7 L953.7 988.8 L949.7 988.9 L945.7 989.0 L941.7 989.2 L937.7 989.7 L933.7 990.5 L929.7 991.5 L925.7 992.8 L921.7 994.2 L917.7 995.6 L913.7 996.9 L909.7 997.8 L905.7 998.3 L901.7 998.3 L897.7 997.7 L893.7 996.6 L889.7 994.9 L885.7 992.6 L881.7 989.9 L877.7 986.9 L873.7 983.7 L869.7 980.6 L865.7 977.7 L861.7 975.1 L857.7 973.1 L853.7 971.6 L849.7 970.6 L845.7 970.3 L841.7 970.5 L837.7 971.2 L833.7 972.2 L829.7 973.4 L825.7 974.7 L821.7 976.1 L817.7 977.4 L813.7 978.7 L809.7 979.9 L805.7 981.3 L801.7 982.7 L797.7 984.4"/>
<path d="M1337.7 752.6 L1333.7 757.7 L1329.7 761.1 L1325.7 765.2 L1321.7 769.1 L1317.7 773.0 L1313.7 776.6 L1309.7 780.1 L1305.7 783.4 L1301.7 786.6 L1297.7 789.6 L1293.7 792.5 L1289.7 795.4 L1285.7 798.4 L1281.7 801.3 L1277.7 804.2 L1273.7 807.0 L1269.7 809.7 L1265.7 812.3 L1261.7 814.8 L1257.7 817.2 L1253.7 819.6 L1249.7 822.1 L1245.7 824.6 L1241.7 827.1 L1237.7 829.8 L1233.7 832.5 L1229.7 835.3 L1225.7 838.2 L1221.7 841.1 L1217.7 844.0 L1213.7 846.9 L1209.7 849.7 L1205.7 852.7 L1201.7 855.7 L1197.7 858.9 L1193.7 862.3 L1189.7 865.8 L1185.7 869.5 L1181.7 873.2 L1177.7 877.1 L1173.7 880.8 L1169.7 884.3 L1165.7 887.4 L1161.7 890.2 L1157.7 892.6 L1153.7 894.8 L1149.7 896.8 L1145.7 898.8 L1141.7 900.7 L1137.7 902.6 L1133.7 904.5 L1129.7 906.4 L1125.7 908.3 L1121.7 910.2 L1117.7 911.9 L1113.7 913.6 L1109.7 915.0 L1105.7 916.2 L1101.7 917.3 L1097.7 918.3 L1093.7 919.2 L1089.7 920.2 L1085.7 921.2 L1081.7 922.3 L1077.7 923.6 L1073.7 925.0 L1069.7 926.4 L1065.7 927.8 L1061.7 929.0 L1057.7 930.0 L1053.7 930.8 L1049.7 931.2 L1045.7 931.3 L1041.7 931.3 L1037.7 931.3 L1033.7 931.4 L1029.7 931.7 L1025.7 932.4 L1021.7 933.4 L1017.7 934.7 L1013.7 936.3 L1009.7 937.9 L1005.7 939.4 L1001.7 940.7 L997.7 941.7 L993.7 942.4 L989.7 942.7 L985.7 942.8 L981.7 942.7 L977.7 942.8 L973.7 943.1 L969.7 943.7 L965.7 944.8 L961.7 946.2 L957.7 947.9 L953.7 949.8 L949.7 951.6 L945.7 953.2"/>
<path d="M1337.7 752.6 L1333.7 758.0 L1329.7 761.6 L1325.7 766.0 L1321.7 770.3 L1317.7 774.6 L1313.7 778.7 L1309.7 782.6 L1305.7 786.3 L1301.7 789.8 L1297.7 793.0 L1293.7 796.0 L1289.7 799.1 L1285.7 802.1 L1281.7 805.1 L1277.7 808.1 L1273.7 811.0 L1269.7 813.9 L1265.7 816.6 L1261.7 819.2 L1257.7 821.8 L1253.7 824.3 L1249.7 826.8 L1245.7 829.2 L1241.7 831.7 L1237.7 834.2 L1233.7 836.7 L1229.7 839.3 L1225.7 841.9 L1221.7 844.6 L1217.7 847.2 L1213.7 850.0 L1209.7 852.7 L1205.7 855.5 L1201.7 858.3 L1197.7 861.1 L1193.7 863.9 L1189.7 866.7 L1185.7 869.3 L1181.7 871.9 L1177.7 874.4 L1173.7 876.8 L1169.7 879.0 L1165.7 881.1 L1161.7 883.1 L1157.7 885.1 L1153.7 887.1 L1149.7 889.2 L1145.7 891.3 L1141.7 893.5 L1137.7 895.6 L1133.7 897.6 L1129.7 899.5 L1125.7 901.3 L1121.7 903.1 L1117.7 904.8 L1113.7 906.5 L1109.7 908.3 L1105.7 910.2 L1101.7 912.2 L1097.7 914.4 L1093.7 916.6 L1089.7 918.9 L1085.7 921.2 L1081.7 923.3 L1077.7 925.2 L1073.7 926.7 L1069.7 927.9 L1065.7 928.5 L1061.7 928.8 L1057.7 928.6 L1053.7 928.2 L1049.7 927.7 L1045.7 927.2 L1041.7 926.9 L1037.7 926.8 L1033.7 926.9 L1029.7 927.3 L1025.7 927.8 L1021.7 928.5 L1017.7 929.3 L1013.7 930.0 L1009.7 930.7 L1005.7 931.4 L1001.7 932.0 L997.7 932.7 L993.7 933.4 L989.7 934.3 L985.7 935.6 L981.7 937.3 L977.7 939.5 L973.7 942.3 L969.7 945.5 L965.7 949.0 L961.7 952.6 L957.7 956.2 L953.7 959.4 L949.7 962.3 L945.7 964.6 L941.7 966.4 L937.7 967.8 L933.7 968.9 L929.7 969.8 L925.7 970.8 L921.7 971.9 L917.7 973.3 L913.7 975.0 L909.7 976.9 L905.7 979.0 L901.7 981.1 L897.7 983.1 L893.7 984.8 L889.7 986.1 L885.7 987.0 L881.7 987.4 L877.7 987.5 L873.7 987.5 L869.7 987.7 L865.7 988.3"/>
<path d="M1337.7 752.6 L1333.7 757.5 L1329.7 760.7 L1325.7 764.5 L1321.7 768.2 L1317.7 771.7 L1313.7 775.0 L1309.7 778.0 L1305.7 781.0 L1301.7 783.9 L1297.7 786.7 L1293.7 789.4 L1289.7 792.1 L1285.7 794.7 L1281.7 797.4 L1277.7 799.9 L1273.7 802.4 L1269.7 804.7 L1265.7 807.0 L1261.7 809.3 L1257.7 811.5 L1253.7 813.7 L1249.7 815.9 L1245.7 818.0 L1241.7 820.2 L1237.7 822.3 L1233.7 824.5 L1229.7 826.6 L1225.7 828.7 L1221.7 830.9 L1217.7 833.2 L1213.7 835.6 L1209.7 838.2 L1205.7 840.9 L1201.7 843.7 L1197.7 846.7 L1193.7 849.7 L1189.7 852.7 L1185.7 855.6 L1181.7 858.5 L1177.7 861.3 L1173.7 864.0 L1169.7 866.6 L1165.7 869.1 L1161.7 871.6 L1157.7 874.0 L1153.7 876.5 L1149.7 878.9 L1145.7 881.3 L1141.7 883.6 L1137.7 885.7 L1133.7 887.7 L1129.7 889.6 L1125.7 891.6 L1121.7 893.6 L1117.7 895.9 L1113.7 898.3 L1109.7 900.9 L1105.7 903.8 L1101.7 906.7 L1097.7 909.7 L1093.7 912.6 L1089.7 915.4 L1085.7 918.0 L1081.7 920.5 L1077.7 923.0 L1073.7 925.3 L1069.7 927.7 L1065.7 930.1 L1061.7 932.6 L1057.7 935.1 L1053.7 937.6 L1049.7 939.9 L1045.7 941.9 L1041.7 943.5 L1037.7 944.5 L1033.7 945.0 L1029.7 945.0 L1025.7 944.8 L1021.7 944.4 L1017.7 944.1 L1013.7 944.0 L1009.7 944.1 L1005.7 944.4 L1001.7 944.8 L997.7 945.2 L993.7 945.5 L989.7 945.3 L985.7 944.8 L981.7 943.7 L977.7 942.3 L973.7 940.7 L969.7 939.2 L965.7 937.9 L961.7 937.1 L957.7 936.9 L953.7 937.3 L949.7 938.0 L945.7 939.0 L941.7 939.8 L937.7 940.1 L933.7 939.9 L929.7 939.4 L925.7 939.0"/>
<path d="M1337.7 752.6 L1333.7 757.9 L1329.7 761.4 L1325.7 765.6 L1321.7 769.8 L1317.7 773.8 L1313.7 777.7 L1309.7 781.4 L1305.7 784.9 L1301.7 788.3 L1297.7 791.5 L1293.7 794.5 L1289.7 797.5 L1285.7 800.6 L1281.7 803.7 L1277.7 806.7 L1273.7 809.7 L1269.7 812.5 L1265.7 815.3 L1261.7 818.0 L1257.7 820.6 L1253.7 823.2 L1249.7 825.7 L1245.7 828.3 L1241.7 830.9 L1237.7 833.5 L1233.7 836.2 L1229.7 838.8 L1225.7 841.5 L1221.7 844.1 L1217.7 846.7 L1213.7 849.1 L1209.7 851.5 L1205.7 853.9 L1201.7 856.3 L1197.7 858.7 L1193.7 861.1 L1189.7 863.6 L1185.7 866.2 L1181.7 868.8 L1177.7 871.6 L1173.7 874.3 L1169.7 877.0 L1165.7 879.6 L1161.7 882.0 L1157.7 884.2 L1153.7 886.4 L1149.7 888.4 L1145.7 890.3 L1141.7 892.0 L1137.7 893.6 L1133.7 894.9 L1129.7 896.2 L1125.7 897.4 L1121.7 898.6 L1117.7 899.9 L1113.7 901.3 L1109.7 902.9 L1105.7 904.6 L1101.7 906.6 L1097.7 908.7 L1093.7 910.9 L1089.7 913.2 L1085.7 915.6 L1081.7 918.0 L1077.7 920.3 L1073.7 922.5 L1069.7 924.7 L1065.7 926.6 L1061.7 928.4 L1057.7 930.0 L1053.7 931.7 L1049.7 933.2 L1045.7 934.8 L1041.7 936.3 L1037.7 937.8 L1033.7 939.1 L1029.7 940.2 L1025.7 941.1 L1021.7 941.8 L1017.7 942.2 L1013.7 942.3 L1009.7 942.3 L1005.7 942.2 L1001.7 942.1 L997.7 942.1 L993.7 942.4 L989.7 942.9 L985.7 943.9 L981.7 945.4 L977.7 947.3 L973.7 949.6 L969.7 952.2 L965.7 954.9 L961.7 957.5 L957.7 959.8 L953.7 961.7 L949.7 963.0 L945.7 963.7 L941.7 963.8 L937.7 963.5 L933.7 962.8 L929.7 962.1 L925.7 961.4 L921.7 961.1 L917.7 961.3 L913.7 962.0 L909.7 963.2 L905.7 965.1 L901.7 967.5 L897.7 970.4 L893.7 973.4 L889.7 976.6 L885.7 979.7 L881.7 982.7 L877.7 985.6 L873.7 988.3 L869.7 991.2 L865.7 994.1 L861.7 997.0 L857.7 1000.1"/>
<path d="M1337.7 752.6 L1333.7 758.1 L1329.7 761.8 L1325.7 766.3 L1321.7 770.8 L1317.7 775.2 L1313.7 779.5 L1309.7 783.6 L1305.7 787.4 L1301.7 791.1 L1297.7 794.5 L1293.7 797.7 L1289.7 800.9 L1285.7 804.1 L1281.7 807.4 L1277.7 810.6 L1273.7 813.8 L1269.7 816.9 L1265.7 819.9 L1261.7 822.9 L1257.7 825.8 L1253.7 828.7 L1249.7 831.7 L1245.7 834.6 L1241.7 837.6 L1237.7 840.6 L1233.7 843.7 L1229.7 846.9 L1225.7 850.2 L1221.7 853.4 L1217.7 856.7 L1213.7 860.0 L1209.7 863.3 L1205.7 866.6 L1201.7 870.0 L1197.7 873.5 L1193.7 876.9 L1189.7 880.4 L1185.7 883.8 L1181.7 887.2 L1177.7 890.5 L1173.7 893.7 L1169.7 896.5 L1165.7 899.1 L1161.7 901.5 L1157.7 903.6 L1153.7 905.7 L1149.7 907.9 L1145.7 910.2 L1141.7 912.5 L1137.7 914.9 L1133.7 917.2 L1129.7 919.6 L1125.7 921.9 L1121.7 924.2 L1117.7 926.4 L1113.7 928.6 L1109.7 930.8 L1105.7 932.9 L1101.7 935.0 L1097.7 937.2 L1093.7 939.4 L1089.7 941.6 L1085.7 943.9 L1081.7 946.2 L1077.7 948.6 L1073.7 950.9 L1069.7 953.3 L1065.7 955.7 L1061.7 958.0 L1057.7 960.3 L1053.7 962.5 L1049.7 964.6 L1045.7 966.5 L1041.7 968.1 L1037.7 969.5 L1033.7 970.5 L1029.7 971.4 L1025.7 972.0 L1021.7 972.6 L1017.7 973.1 L1013.7 973.6 L1009.7 974.1 L1005.7 974.5 L1001.7 975.3 L997.7 976.4 L993.7 977.8 L989.7 979.6 L985.7 981.6 L981.7 983.7 L977.7 985.8 L973.7 987.6 L969.7 989.2 L965.7 990.3 L961.7 991.0 L957.7 991.3 L953.7 991.1 L949.7 990.6 L945.7 989.9 L941.7 989.2 L937.7 988.6 L933.7 988.3 L929.7 988.5"/>
<path d="M1337.7 752.6 L1333.7 758.1 L1329.7 761.8 L1325.7 766.3 L1321.7 770.8 L1317.7 775.2 L1313.7 779.6 L1309.7 783.7 L1305.7 787.5 L1301.7 791.2 L1297.7 794.7 L1293.7 797.9 L1289.7 801.2 L1285.7 804.4 L1281.7 807.7 L1277.7 811.0 L1273.7 814.1 L1269.7 817.2 L1265.7 820.2 L1261.7 823.1 L1257.7 825.9 L1253.7 828.8 L1249.7 831.6 L1245.7 834.4 L1241.7 837.3 L1237.7 840.2 L1233.7 843.2 L1229.7 846.3 L1225.7 849.5 L1221.7 852.8 L1217.7 856.1 L1213.7 859.4 L1209.7 862.8 L1205.7 866.1 L1201.7 869.5 L1197.7 873.0 L1193.7 876.4 L1189.7 879.9 L1185.7 883.5 L1181.7 887.1 L1177.7 890.8 L1173.7 894.4 L1169.7 897.8 L1165.7 901.0 L1161.7 903.9 L1157.7 906.5 L1153.7 908.9 L1149.7 911.2 L1145.7 913.4 L1141.7 915.5 L1137.7 917.5 L1133.7 919.5 L1129.7 921.4 L1125.7 923.3 L1121.7 925.3 L1117.7 927.3 L1113.7 929.2 L1109.7 931.2 L1105.7 933.1 L1101.7 935.0 L1097.7 936.9 L1093.7 938.7 L1089.7 940.4 L1085.7 942.2 L1081.7 944.0 L1077.7 945.8 L1073.7 947.7 L1069.7 949.7 L1065.7 951.8 L1061.7 953.8 L1057.7 955.9 L1053.7 957.8 L1049.7 959.6 L1045.7 961.0 L1041.7 962.1 L1037.7 962.9 L1033.7 963.4 L1029.7 963.8 L1025.7 964.2 L1021.7 964.7 L1017.7 965.4 L1013.7 966.3 L1009.7 967.3 L1005.7 968.4 L1001.7 969.6 L997.7 970.9 L993.7 972.1 L989.7 973.2 L985.7 974.0 L981.7 974.6 L977.7 975.0 L973.7 975.4 L969.7 976.0 L965.7 977.0 L961.7 978.5 L957.7 980.4 L953.7 982.8 L949.7 985.3 L945.7 987.9 L941.7 990.2 L937.7 992.3 L933.7 994.1 L929.7 995.7 L925.7 997.5 L921.7 999.6 L917.7 1002.3 L913.7 1006.0 L909.7 1010.5 L905.7 1016.0 L901.7 1022.1 L897.7 1027.9 L893.7 1033.4 L889.7 1038.2 L885.7 1042.1 L881.7 1045.3 L877.7 1048.2 L873.7 1050.8 L869.7 1053.4 L865.7 1055.9 L861.7 1058.2 L857.7 1060.5 L853.7 1062.7 L849.7 1064.8 L845.7 1066.7 L841.7 1068.4 L837.7 1069.9 L833.7 1071.1 L829.7 1072.0"/>
<path d="M1337.7 752.6 L1333.7 757.5 L1329.7 760.7 L1325.7 764.6 L1321.7 768.3 L1317.7 771.9 L1313.7 775.3 L1309.7 778.4 L1305.7 781.5 L1301.7 784.4 L1297.7 787.3 L1293.7 790.0 L1289.7 792.8 L1285.7 795.7 L1281.7 798.5 L1277.7 801.4 L1273.7 804.2 L1269.7 807.0 L1265.7 809.7 L1261.7 812.3 L1257.7 814.9 L1253.7 817.4 L1249.7 820.0 L1245.7 822.5 L1241.7 825.1 L1237.7 827.8 L1233.7 830.5 L1229.7 833.3 L1225.7 836.2 L1221.7 839.1 L1217.7 841.9 L1213.7 844.6 L1209.7 847.3 L1205.7 849.9 L1201.7 852.7 L1197.7 855.5 L1193.7 858.5 L1189.7 861.7 L1185.7 865.0 L1181.7 868.5 L1177.7 872.1 L1173.7 875.6 L1169.7 878.8 L1165.7 881.8 L1161.7 884.5 L1157.7 886.8 L1153.7 888.9 L1149.7 891.0 L1145.7 893.0 L1141.7 895.2 L1137.7 897.4 L1133.7 899.6 L1129.7 901.8 L1125.7 903.9 L1121.7 905.8 L1117.7 907.6 L1113.7 909.0 L1109.7 910.3 L1105.7 911.5 L1101.7 912.7 L1097.7 914.0 L1093.7 915.6 L1089.7 917.5 L1085.7 919.7 L1081.7 922.1 L1077.7 924.7 L1073.7 927.2 L1069.7 929.7 L1065.7 931.8 L1061.7 933.7 L1057.7 935.2 L1053.7 936.7 L1049.7 938.1 L1045.7 939.5 L1041.7 941.2 L1037.7 942.9 L1033.7 944.7 L1029.7 946.3 L1025.7 947.8 L1021.7 948.8 L1017.7 949.5 L1013.7 949.6 L1009.7 949.5 L1005.7 949.1 L1001.7 948.9 L997.7 949.0 L993.7 949.4 L989.7 950.4 L985.7 951.9 L981.7 953.6 L977.7 955.5 L973.7 957.2 L969.7 958.7 L965.7 959.9 L961.7 960.7 L957.7 961.4 L953.7 962.2 L949.7 963.4 L945.7 965.0 L941.7 967.1 L937.7 969.5 L933.7 971.8 L929.7 973.7 L925.7 974.7 L921.7 974.7 L917.7 973.6 L913.7 971.4"/>
<path d="M1337.7 752.6 L1333.7 758.1 L1329.7 761.8 L1325.7 766.3 L1321.7 770.8 L1317.7 775.2 L1313.7 779.6 L1309.7 783.7 L1305.7 787.5 L1301.7 791.2 L1297.7 794.6 L1293.7 797.9 L1289.7 801.1 L1285.7 804.3 L1281.7 807.5 L1277.7 810.7 L1273.7 813.7 L1269.7 816.7 L1265.7 819.6 L1261.7 822.3 L1257.7 825.1 L1253.7 827.8 L1249.7 830.6 L1245.7 833.4 L1241.7 836.3 L1237.7 839.2 L1233.7 842.2 L1229.7 845.3 L1225.7 848.4 L1221.7 851.5 L1217.7 854.6 L1213.7 857.7 L1209.7 860.9 L1205.7 864.1 L1201.7 867.4 L1197.7 870.8 L1193.7 874.3 L1189.7 877.9 L1185.7 881.5 L1181.7 885.1 L1177.7 888.7 L1173.7 892.1 L1169.7 895.1 L1165.7 897.8 L1161.7 900.1 L1157.7 902.1 L1153.7 904.0 L1149.7 905.8 L1145.7 907.7 L1141.7 909.7 L1137.7 911.7 L1133.7 913.6 L1129.7 915.7 L1125.7 917.6 L1121.7 919.6 L1117.7 921.5 L1113.7 923.4 L1109.7 925.2 L1105.7 927.0 L1101.7 928.9 L1097.7 930.8 L1093.7 933.0 L1089.7 935.3 L1085.7 937.7 L1081.7 940.3 L1077.7 943.1 L1073.7 945.9 L1069.7 948.7 L1065.7 951.5 L1061.7 954.2 L1057.7 956.7 L1053.7 959.1 L1049.7 961.2 L1045.7 962.9 L1041.7 964.4 L1037.7 965.6 L1033.7 966.6 L1029.7 967.5 L1025.7 968.5 L1021.7 969.6 L1017.7 970.8 L1013.7 972.0 L1009.7 973.2 L1005.7 974.4 L1001.7 975.7 L997.7 977.0 L993.7 978.3 L989.7 979.6 L985.7 980.9 L981.7 982.0 L977.7 982.9 L973.7 983.8 L969.7 984.8 L965.7 986.1 L961.7 987.8 L957.7 989.9 L953.7 992.3 L949.7 994.7 L945.7 997.1 L941.7 999.1 L937.7 1000.7 L933.7 1001.7 L929.7 1002.1 L925.7 1002.1 L921.7 1001.8 L917.7 1001.5 L913.7 1001.2 L909.7 1001.3 L905.7 1001.8 L901.7 1002.7 L897.7 1004.1 L893.7 1005.6 L889.7 1007.0 L885.7 1008.0 L881.7 1008.5"/>
<path d="M1337.7 752.6 L1333.7 757.5 L1329.7 760.7 L1325.7 764.5 L1321.7 768.1 L1317.7 771.6 L1313.7 774.9 L1309.7 777.9 L1305.7 780.9 L1301.7 783.7 L1297.7 786.5 L1293.7 789.2 L1289.7 791.9 L1285.7 794.7 L1281.7 797.5 L1277.7 800.2 L1273.7 802.9 L1269.7 805.5 L1265.7 808.0 L1261.7 810.4 L1257.7 812.9 L1253.7 815.3 L1249.7 817.9 L1245.7 820.4 L1241.7 823.1 L1237.7 825.8 L1233.7 828.5 L1229.7 831.2 L1225.7 833.9 L1221.7 836.5 L1217.7 839.0 L1213.7 841.5 L1209.7 843.9 L1205.7 846.5 L1201.7 849.2 L1197.7 852.1 L1193.7 855.2 L1189.7 858.5 L1185.7 861.9 L1181.7 865.2 L1177.7 868.6 L1173.7 871.8 L1169.7 874.7 L1165.7 877.3 L1161.7 879.6 L1157.7 881.7 L1153.7 883.8 L1149.7 885.9 L1145.7 888.2 L1141.7 890.5 L1137.7 892.9 L1133.7 895.2 L1129.7 897.4 L1125.7 899.4 L1121.7 901.2 L1117.7 902.8 L1113.7 904.2 L1109.7 905.6 L1105.7 907.0 L1101.7 908.5 L1097.7 910.2 L1093.7 912.3 L1089.7 914.6 L1085.7 917.2 L1081.7 920.1 L1077.7 923.0 L1073.7 925.9 L1069.7 928.6 L1065.7 931.1 L1061.7 933.4 L1057.7 935.4 L1053.7 937.4 L1049.7 939.3 L1045.7 941.3 L1041.7 943.4 L1037.7 945.5 L1033.7 947.5 L1029.7 949.2 L1025.7 950.6 L1021.7 951.6 L1017.7 952.0 L1013.7 951.9 L1009.7 951.4 L1005.7 950.6 L1001.7 949.8 L997.7 949.2 L993.7 948.8 L989.7 948.8 L985.7 949.2 L981.7 949.7 L977.7 950.3 L973.7 950.9 L969.7 951.1 L965.7 951.0 L961.7 950.3 L957.7 949.3 L953.7 948.0 L949.7 946.8 L945.7 945.8 L941.7 945.2 L937.7 945.1 L933.7 945.2 L929.7 945.4 L925.7 945.4 L921.7 944.9 L917.7 944.0 L913.7 943.2 L909.7 942.7 L905.7 942.7 L901.7 943.4 L897.7 944.7 L893.7 946.1 L889.7 947.4 L885.7 948.8 L881.7 950.1 L877.7 951.5 L873.7 952.9 L869.7 954.2 L865.7 955.6 L861.7 957.2 L857.7 958.9"/>
<path d="M1337.7 752.6 L1333.7 757.7 L1329.7 761.0 L1325.7 765.1 L1321.7 769.0 L1317.7 772.8 L1313.7 776.4 L1309.7 779.8 L1305.7 783.1 L1301.7 786.2 L1297.7 789.2 L1293.7 792.1 L1289.7 794.9 L1285.7 797.8 L1281.7 800.7 L1277.7 803.4 L1273.7 806.1 L1269.7 808.7 L1265.7 811.2 L1261.7 813.5 L1257.7 815.8 L1253.7 818.1 L1249.7 820.3 L1245.7 822.6 L1241.7 824.9 L1237.7 827.3 L1233.7 829.8 L1229.7 832.3 L1225.7 834.9 L1221.7 837.5 L1217.7 840.1 L1213.7 842.8 L1209.7 845.4 L1205.7 848.1 L1201.7 850.8 L1197.7 853.6 L1193.7 856.4 L1189.7 859.3 L1185.7 862.1 L1181.7 864.9 L1177.7 867.7 L1173.7 870.4 L1169.7 873.0 L1165.7 875.3 L1161.7 877.5 L1157.7 879.4 L1153.7 881.2 L1149.7 882.9 L1145.7 884.5 L1141.7 885.9 L1137.7 887.2 L1133.7 888.2 L1129.7 889.2 L1125.7 890.0 L1121.7 890.8 L1117.7 891.6 L1113.7 892.5 L1109.7 893.5 L1105.7 894.6 L1101.7 895.7 L1097.7 897.0 L1093.7 898.4 L1089.7 899.9 L1085.7 901.5 L1081.7 903.3 L1077.7 905.0 L1073.7 906.8 L1069.7 908.4 L1065.7 909.9 L1061.7 911.2 L1057.7 912.3 L1053.7 913.4 L1049.7 914.5 L1045.7 915.8 L1041.7 917.2 L1037.7 918.9 L1033.7 920.9 L1029.7 923.0 L1025.7 925.2 L1021.7 927.6 L1017.7 929.9 L1013.7 932.0 L1009.7 934.0 L1005.7 935.7 L1001.7 937.1 L997.7 938.0 L993.7 938.6 L989.7 938.7 L985.7 938.5 L981.7 938.0 L977.7 937.4 L973.7 936.8 L969.7 936.3 L965.7 935.9 L961.7 935.7 L957.7 935.9 L953.7 936.4 L949.7 937.3 L945.7 938.2 L941.7 939.4 L937.7 940.4 L933.7 941.4 L929.7 942.0 L925.7 942.5 L921.7 942.7 L917.7 942.8 L913.7 942.7"/>
<path d="M1337.7 752.6 L1333.7 758.1 L1329.7 761.7 L1325.7 766.2 L1321.7 770.6 L1317.7 774.9 L1313.7 779.2 L1309.7 783.2 L1305.7 786.9 L1301.7 790.5 L1297.7 793.8 L1293.7 796.9 L1289.7 800.0 L1285.7 803.1 L1281.7 806.2 L1277.7 809.2 L1273.7 812.1 L1269.7 814.9 L1265.7 817.7 L1261.7 820.4 L1257.7 823.0 L1253.7 825.6 L1249.7 828.2 L1245.7 830.7 L1241.7 833.3 L1237.7 835.9 L1233.7 838.6 L1229.7 841.2 L1225.7 843.8 L1221.7 846.4 L1217.7 849.0 L1213.7 851.6 L1209.7 854.3 L1205.7 857.0 L1201.7 859.9 L1197.7 863.0 L1193.7 866.3 L1189.7 869.7 L1185.7 873.2 L1181.7 876.8 L1177.7 880.4 L1173.7 883.8 L1169.7 887.0 L1165.7 889.7 L1161.7 892.1 L1157.7 894.1 L1153.7 895.9 L1149.7 897.4 L1145.7 898.9 L1141.7 900.2 L1137.7 901.4 L1133.7 902.5 L1129.7 903.6 L1125.7 904.7 L1121.7 905.9 L1117.7 907.1 L1113.7 908.5 L1109.7 909.9 L1105.7 911.3 L1101.7 912.9 L1097.7 914.4 L1093.7 915.9 L1089.7 917.5 L1085.7 918.9 L1081.7 920.4 L1077.7 921.7 L1073.7 923.0 L1069.7 924.3 L1065.7 925.5 L1061.7 926.6 L1057.7 927.6 L1053.7 928.7 L1049.7 929.8 L1045.7 930.8 L1041.7 931.9 L1037.7 932.9 L1033.7 933.8 L1029.7 934.5 L1025.7 935.1 L1021.7 935.6 L1017.7 936.0 L1013.7 936.4 L1009.7 936.9 L1005.7 937.4 L1001.7 938.2 L997.7 939.2 L993.7 940.5 L989.7 942.3 L985.7 944.5 L981.7 947.1 L977.7 950.2 L973.7 953.7 L969.7 957.4 L965.7 961.1 L961.7 964.6 L957.7 967.9 L953.7 970.6 L949.7 972.8 L945.7 974.3 L941.7 975.1 L937.7 975.3 L933.7 975.1 L929.7 974.5 L925.7 973.8 L921.7 973.1 L917.7 972.5 L913.7 972.2 L909.7 972.1 L905.7 972.5 L901.7 973.3 L897.7 974.5 L893.7 976.0 L889.7 977.7 L885.7 979.4 L881.7 981.0"/>
<path d="M1337.7 752.6 L1333.7 758.1 L1329.7 761.8 L1325.7 766.3 L1321.7 770.8 L1317.7 775.2 L1313.7 779.6 L1309.7 783.7 L1305.7 787.6 L1301.7 791.2 L1297.7 794.7 L1293.7 797.9 L1289.7 801.2 L1285.7 804.4 L1281.7 807.6 L1277.7 810.8 L1273.7 813.9 L1269.7 816.9 L1265.7 819.8 L1261.7 822.7 L1257.7 825.5 L1253.7 828.4 L1249.7 831.2 L1245.7 834.0 L1241.7 836.8 L1237.7 839.8 L1233.7 842.7 L1229.7 845.7 L1225.7 848.8 L1221.7 852.0 L1217.7 855.1 L1213.7 858.3 L1209.7 861.5 L1205.7 864.8 L1201.7 868.0 L1197.7 871.3 L1193.7 874.6 L1189.7 877.8 L1185.7 880.9 L1181.7 884.0 L1177.7 887.0 L1173.7 889.8 L1169.7 892.3 L1165.7 894.7 L1161.7 896.9 L1157.7 898.9 L1153.7 900.9 L1149.7 903.0 L1145.7 905.2 L1141.7 907.3 L1137.7 909.4 L1133.7 911.4 L1129.7 913.3 L1125.7 915.1 L1121.7 916.8 L1117.7 918.4 L1113.7 920.1 L1109.7 921.9 L1105.7 923.8 L1101.7 925.9 L1097.7 928.2 L1093.7 930.6 L1089.7 933.2 L1085.7 935.8 L1081.7 938.2 L1077.7 940.6 L1073.7 942.8 L1069.7 944.8 L1065.7 946.4 L1061.7 947.8 L1057.7 949.0 L1053.7 950.2 L1049.7 951.3 L1045.7 952.6 L1041.7 954.1 L1037.7 955.8 L1033.7 957.6 L1029.7 959.5 L1025.7 961.5 L1021.7 963.5 L1017.7 965.4 L1013.7 967.1 L1009.7 968.7 L1005.7 970.3 L1001.7 972.0 L997.7 974.1 L993.7 976.7 L989.7 979.6 L985.7 983.1 L981.7 986.7 L977.7 990.5 L973.7 994.3 L969.7 998.0 L965.7 1001.4 L961.7 1004.5 L957.7 1007.2 L953.7 1009.4 L949.7 1011.1 L945.7 1012.6 L941.7 1013.8 L937.7 1015.0 L933.7 1016.2"/>
<path d="M1337.7 752.6 L1333.7 758.1 L1329.7 761.8 L1325.7 766.3 L1321.7 770.8 L1317.7 775.2 L1313.7 779.5 L1309.7 783.6 L1305.7 787.4 L1301.7 791.0 L1297.7 794.4 L1293.7 797.6 L1289.7 800.8 L1285.7 804.0 L1281.7 807.1 L1277.7 810.3 L1273.7 813.3 L1269.7 816.3 L1265.7 819.2 L1261.7 822.0 L1257.7 824.8 L1253.7 827.6 L1249.7 830.4 L1245.7 833.2 L1241.7 836.1 L1237.7 839.0 L1233.7 842.0 L1229.7 845.1 L1225.7 848.2 L1221.7 851.4 L1217.7 854.5 L1213.7 857.7 L1209.7 861.0 L1205.7 864.3 L1201.7 867.8 L1197.7 871.4 L1193.7 875.1 L1189.7 878.9 L1185.7 882.8 L1181.7 886.6 L1177.7 890.6 L1173.7 894.3 L1169.7 897.7 L1165.7 900.8 L1161.7 903.6 L1157.7 906.0 L1153.7 908.2 L1149.7 910.4 L1145.7 912.5 L1141.7 914.5 L1137.7 916.4 L1133.7 918.2 L1129.7 920.0 L1125.7 921.7 L1121.7 923.4 L1117.7 925.1 L1113.7 926.9 L1109.7 928.6 L1105.7 930.3 L1101.7 932.2 L1097.7 934.1 L1093.7 936.1 L1089.7 938.2 L1085.7 940.2 L1081.7 942.2 L1077.7 944.2 L1073.7 946.2 L1069.7 948.1 L1065.7 950.0 L1061.7 951.9 L1057.7 953.8 L1053.7 955.8 L1049.7 957.8 L1045.7 959.8 L1041.7 961.7 L1037.7 963.6 L1033.7 965.4 L1029.7 967.1 L1025.7 968.9 L1021.7 970.5 L1017.7 972.1 L1013.7 973.5 L1009.7 974.8 L1005.7 975.8 L1001.7 976.8 L997.7 977.9 L993.7 979.1 L989.7 980.5 L985.7 982.0 L981.7 983.5 L977.7 985.0 L973.7 986.3 L969.7 987.7 L965.7 988.9 L961.7 990.1 L957.7 991.3 L953.7 992.4 L949.7 993.3 L945.7 994.0 L941.7 994.4 L937.7 994.5 L933.7 994.3 L929.7 993.9 L925.7 993.3 L921.7 992.7 L917.7 992.1 L913.7 991.7 L909.7 991.7 L905.7 992.2 L901.7 993.3 L897.7 995.1 L893.7 997.6 L889.7 1000.7"/>
<path d="M1337.7 752.6 L1333.7 757.8 L1329.7 761.2 L1325.7 765.3 L1321.7 769.4 L1317.7 773.3 L1313.7 777.0 L1309.7 780.6 L1305.7 784.0 L1301.7 787.2 L1297.7 790.3 L1293.7 793.2 L1289.7 796.2 L1285.7 799.1 L1281.7 801.9 L1277.7 804.8 L1273.7 807.5 L1269.7 810.2 L1265.7 812.8 L1261.7 815.3 L1257.7 817.8 L1253.7 820.3 L1249.7 822.8 L1245.7 825.3 L1241.7 827.8 L1237.7 830.2 L1233.7 832.6 L1229.7 835.0 L1225.7 837.3 L1221.7 839.7 L1217.7 842.0 L1213.7 844.3 L1209.7 846.8 L1205.7 849.4 L1201.7 852.1 L1197.7 854.9 L1193.7 857.8 L1189.7 860.8 L1185.7 863.6 L1181.7 866.4 L1177.7 869.1 L1173.7 871.6 L1169.7 873.9 L1165.7 876.1 L1161.7 878.3 L1157.7 880.4 L1153.7 882.5 L1149.7 884.9 L1145.7 887.3 L1141.7 889.7 L1137.7 892.0 L1133.7 894.2 L1129.7 896.2 L1125.7 898.0 L1121.7 899.6 L1117.7 901.2 L1113.7 902.7 L1109.7 904.2 L1105.7 905.9 L1101.7 907.6 L1097.7 909.3 L1093.7 911.1 L1089.7 912.9 L1085.7 914.4 L1081.7 915.8 L1077.7 916.8 L1073.7 917.5 L1069.7 917.7 L1065.7 917.6 L1061.7 917.2 L1057.7 916.6 L1053.7 916.0 L1049.7 915.6 L1045.7 915.5 L1041.7 915.6 L1037.7 916.0 L1033.7 916.6 L1029.7 917.2 L1025.7 917.7 L1021.7 918.2 L1017.7 918.8 L1013.7 919.5 L1009.7 920.5 L1005.7 921.7 L1001.7 923.0 L997.7 924.0 L993.7 925.1 L989.7 926.4 L985.7 928.0 L981.7 929.9 L977.7 932.2 L973.7 934.5 L969.7 936.5 L965.7 938.1 L961.7 939.4 L957.7 940.5 L953.7 941.6 L949.7 942.8 L945.7 944.4 L941.7 946.5 L937.7 949.0 L933.7 951.7 L929.7 954.5 L925.7 957.0 L921.7 959.0 L917.7 960.2"/>
<path d="M1337.7 752.6 L1333.7 758.1 L1329.7 761.7 L1325.7 766.2 L1321.7 770.7 L1317.7 775.0 L1313.7 779.3 L1309.7 783.3 L1305.7 787.1 L1301.7 790.6 L1297.7 793.9 L1293.7 797.0 L1289.7 800.1 L1285.7 803.2 L1281.7 806.3 L1277.7 809.3 L1273.7 812.3 L1269.7 815.2 L1265.7 818.0 L1261.7 820.7 L1257.7 823.4 L1253.7 826.0 L1249.7 828.7 L1245.7 831.4 L1241.7 834.2 L1237.7 837.1 L1233.7 840.1 L1229.7 843.3 L1225.7 846.5 L1221.7 849.9 L1217.7 853.2 L1213.7 856.5 L1209.7 859.8 L1205.7 863.1 L1201.7 866.4 L1197.7 869.7 L1193.7 873.0 L1189.7 876.4 L1185.7 879.7 L1181.7 883.0 L1177.7 886.4 L1173.7 889.7 L1169.7 892.8 L1165.7 895.7 L1161.7 898.5 L1157.7 901.0 L1153.7 903.5 L1149.7 905.9 L1145.7 908.4 L1141.7 910.8 L1137.7 913.1 L1133.7 915.3 L1129.7 917.5 L1125.7 919.7 L1121.7 921.9 L1117.7 924.2 L1113.7 926.5 L1109.7 928.9 L1105.7 931.3 L1101.7 933.9 L1097.7 936.4 L1093.7 938.9 L1089.7 941.4 L1085.7 943.7 L1081.7 945.8 L1077.7 947.8 L1073.7 949.6 L1069.7 951.4 L1065.7 953.0 L1061.7 954.6 L1057.7 956.3 L1053.7 958.0 L1049.7 959.8 L1045.7 961.5 L1041.7 963.1 L1037.7 964.5 L1033.7 965.8 L1029.7 966.9 L1025.7 967.8 L1021.7 968.6 L1017.7 969.3 L1013.7 970.0 L1009.7 970.6 L1005.7 971.3 L1001.7 972.3 L997.7 973.6 L993.7 975.4 L989.7 977.4 L985.7 979.7 L981.7 981.9 L977.7 983.7 L973.7 985.1 L969.7 985.9 L965.7 986.1 L961.7 985.7 L957.7 985.0 L953.7 984.1 L949.7 983.3 L945.7 982.9 L941.7 983.0 L937.7 983.9 L933.7 985.6 L929.7 987.9 L925.7 990.8 L921.7 993.9 L917.7 997.1 L913.7 1000.0 L909.7 1002.5 L905.7 1004.7 L901.7 1006.5 L897.7 1008.2 L893.7 1009.8 L889.7 1011.6 L885.7 1013.6 L881.7 1015.9 L877.7 1018.5 L873.7 1021.3 L869.7 1024.0 L865.7 1026.4 L861.7 1028.2 L857.7 1029.2 L853.7 1029.2 L849.7 1028.3 L845.7 1026.8 L841.7 1024.9 L837.7 1022.9 L833.7 1021.3 L829.7 1020.3 L825.7 1020.1 L821.7 1020.8 L817.7 1022.5"/>
<path d="M1337.7 752.6 L1333.7 758.0 L1329.7 761.6 L1325.7 766.0 L1321.7 770.3 L1317.7 774.6 L1313.7 778.8 L1309.7 782.7 L1305.7 786.3 L1301.7 789.8 L1297.7 793.1 L1293.7 796.2 L1289.7 799.2 L1285.7 802.3 L1281.7 805.3 L1277.7 808.4 L1273.7 811.3 L1269.7 814.2 L1265.7 817.1 L1261.7 820.0 L1257.7 822.8 L1253.7 825.7 L1249.7 828.6 L1245.7 831.6 L1241.7 834.6 L1237.7 837.7 L1233.7 840.8 L1229.7 844.0 L1225.7 847.1 L1221.7 850.3 L1217.7 853.4 L1213.7 856.6 L1209.7 859.7 L1205.7 863.0 L1201.7 866.3 L1197.7 869.7 L1193.7 873.2 L1189.7 876.7 L1185.7 880.2 L1181.7 883.7 L1177.7 887.1 L1173.7 890.2 L1169.7 893.1 L1165.7 895.7 L1161.7 898.0 L1157.7 900.1 L1153.7 902.1 L1149.7 904.2 L1145.7 906.4 L1141.7 908.6 L1137.7 910.9 L1133.7 913.1 L1129.7 915.3 L1125.7 917.3 L1121.7 919.3 L1117.7 921.1 L1113.7 922.7 L1109.7 924.3 L1105.7 925.7 L1101.7 927.1 L1097.7 928.4 L1093.7 929.7 L1089.7 931.0 L1085.7 932.4 L1081.7 933.7 L1077.7 935.0 L1073.7 936.4 L1069.7 937.8 L1065.7 939.2 L1061.7 940.3 L1057.7 941.3 L1053.7 942.1 L1049.7 942.6 L1045.7 943.0 L1041.7 943.3 L1037.7 943.6 L1033.7 944.0 L1029.7 944.5 L1025.7 945.4 L1021.7 946.6 L1017.7 948.2 L1013.7 949.9 L1009.7 951.9 L1005.7 953.9 L1001.7 956.0 L997.7 958.0 L993.7 959.9 L989.7 961.5 L985.7 963.0 L981.7 964.0 L977.7 964.9 L973.7 965.5 L969.7 966.2 L965.7 967.1"/>
<path d="M1337.7 752.6 L1333.7 758.1 L1329.7 761.8 L1325.7 766.3 L1321.7 770.8 L1317.7 775.2 L1313.7 779.5 L1309.7 783.6 L1305.7 787.4 L1301.7 791.1 L1297.7 794.5 L1293.7 797.7 L1289.7 800.8 L1285.7 804.0 L1281.7 807.2 L1277.7 810.4 L1273.7 813.4 L1269.7 816.4 L1265.7 819.2 L1261.7 822.0 L1257.7 824.7 L1253.7 827.4 L1249.7 830.1 L1245.7 832.8 L1241.7 835.5 L1237.7 838.2 L1233.7 840.9 L1229.7 843.7 L1225.7 846.6 L1221.7 849.5 L1217.7 852.4 L1213.7 855.3 L1209.7 858.2 L1205.7 861.1 L1201.7 864.0 L1197.7 866.9 L1193.7 869.7 L1189.7 872.3 L1185.7 874.8 L1181.7 877.2 L1177.7 879.5 L1173.7 881.7 L1169.7 883.6 L1165.7 885.3 L1161.7 887.0 L1157.7 888.6 L1153.7 890.3 L1149.7 892.2 L1145.7 894.1 L1141.7 896.1 L1137.7 898.1 L1133.7 900.1 L1129.7 902.1 L1125.7 903.9 L1121.7 905.8 L1117.7 907.6 L1113.7 909.4 L1109.7 911.4 L1105.7 913.4 L1101.7 915.6 L1097.7 918.0 L1093.7 920.5 L1089.7 923.1 L1085.7 925.8 L1081.7 928.4 L1077.7 930.9 L1073.7 933.1 L1069.7 935.1 L1065.7 936.8 L1061.7 938.2 L1057.7 939.3 L1053.7 940.4 L1049.7 941.5 L1045.7 942.7 L1041.7 944.2 L1037.7 945.9 L1033.7 947.8 L1029.7 950.0 L1025.7 952.5 L1021.7 955.0 L1017.7 957.5 L1013.7 959.8 L1009.7 961.9 L1005.7 963.7 L1001.7 965.4 L997.7 967.0 L993.7 968.5 L989.7 969.9"/>
<path d="M1337.7 752.6 L1333.7 758.1 L1329.7 761.8 L1325.7 766.3 L1321.7 770.8 L1317.7 775.2 L1313.7 779.5 L1309.7 783.6 L1305.7 787.5 L1301.7 791.1 L1297.7 794.5 L1293.7 797.7 L1289.7 800.9 L1285.7 804.1 L1281.7 807.3 L1277.7 810.4 L1273.7 813.5 L1269.7 816.4 L1265.7 819.3 L1261.7 822.0 L1257.7 824.8 L1253.7 827.5 L1249.7 830.2 L1245.7 832.9 L1241.7 835.7 L1237.7 838.5 L1233.7 841.3 L1229.7 844.2 L1225.7 847.1 L1221.7 849.9 L1217.7 852.7 L1213.7 855.6 L1209.7 858.4 L1205.7 861.4 L1201.7 864.4 L1197.7 867.6 L1193.7 870.9 L1189.7 874.4 L1185.7 877.9 L1181.7 881.4 L1177.7 885.0 L1173.7 888.3 L1169.7 891.4 L1165.7 894.1 L1161.7 896.6 L1157.7 898.7 L1153.7 900.7 L1149.7 902.5 L1145.7 904.2 L1141.7 905.8 L1137.7 907.3 L1133.7 908.7 L1129.7 910.0 L1125.7 911.4 L1121.7 912.7 L1117.7 914.1 L1113.7 915.6 L1109.7 917.2 L1105.7 918.8 L1101.7 920.5 L1097.7 922.3 L1093.7 924.1 L1089.7 925.9 L1085.7 927.6 L1081.7 929.2 L1077.7 930.8 L1073.7 932.3 L1069.7 933.7 L1065.7 935.1 L1061.7 936.4 L1057.7 937.7 L1053.7 939.1 L1049.7 940.5 L1045.7 942.1 L1041.7 943.6 L1037.7 945.2 L1033.7 946.6 L1029.7 948.0 L1025.7 949.2 L1021.7 950.2 L1017.7 951.0 L1013.7 951.6 L1009.7 952.0 L1005.7 952.2 L1001.7 952.4"/>
<path d="M1337.7 752.6 L1333.7 758.1 L1329.7 761.8 L1325.7 766.3 L1321.7 770.8 L1317.7 775.2 L1313.7 779.5 L1309.7 783.6 L1305.7 787.4 L1301.7 791.0 L1297.7 794.4 L1293.7 797.6 L1289.7 800.8 L1285.7 804.0 L1281.7 807.2 L1277.7 810.4 L1273.7 813.5 L1269.7 816.6 L1265.7 819.6 L1261.7 822.5 L1257.7 825.4 L1253.7 828.3 L1249.7 831.3 L1245.7 834.2 L1241.7 837.2 L1237.7 840.3 L1233.7 843.4 L1229.7 846.5 L1225.7 849.6 L1221.7 852.8 L1217.7 855.9 L1213.7 859.1 L1209.7 862.2 L1205.7 865.4 L1201.7 868.7 L1197.7 872.1 L1193.7 875.5 L1189.7 879.1 L1185.7 882.7 L1181.7 886.3 L1177.7 889.9 L1173.7 893.3 L1169.7 896.4 L1165.7 899.2 L1161.7 901.7 L1157.7 903.8 L1153.7 905.7 L1149.7 907.6 L1145.7 909.3 L1141.7 911.0 L1137.7 912.6 L1133.7 914.1 L1129.7 915.5 L1125.7 916.9 L1121.7 918.3 L1117.7 919.6 L1113.7 921.0 L1109.7 922.4 L1105.7 923.8 L1101.7 925.3 L1097.7 926.9 L1093.7 928.6 L1089.7 930.4 L1085.7 932.2 L1081.7 934.0 L1077.7 935.8 L1073.7 937.6 L1069.7 939.5 L1065.7 941.3 L1061.7 943.1 L1057.7 944.9 L1053.7 946.8 L1049.7 948.7 L1045.7 950.4 L1041.7 952.1 L1037.7 953.7 L1033.7 955.1 L1029.7 956.3 L1025.7 957.4 L1021.7 958.4 L1017.7 959.2 L1013.7 959.9 L1009.7 960.5 L1005.7 961.2 L1001.7 962.0 L997.7 963.2 L993.7 964.8 L989.7 966.9 L985.7 969.6 L981.7 972.9 L977.7 976.6 L973.7 980.9 L969.7 985.5 L965.7 990.2 L961.7 994.9 L957.7 999.4 L953.7 1003.4 L949.7 1007.1 L945.7 1010.4 L941.7 1013.2 L937.7 1015.5 L933.7 1017.4 L929.7 1018.9 L925.7 1020.2 L921.7 1021.4 L917.7 1022.3 L913.7 1023.0 L909.7 1023.6 L905.7 1024.4 L901.7 1025.3 L897.7 1026.9 L893.7 1029.1 L889.7 1031.9 L885.7 1035.2 L881.7 1038.5 L877.7 1041.8"/>
<path d="M1337.7 752.6 L1333.7 757.9 L1329.7 761.4 L1325.7 765.7 L1321.7 769.8 L1317.7 773.9 L1313.7 777.9 L1309.7 781.6 L1305.7 785.1 L1301.7 788.4 L1297.7 791.5 L1293.7 794.5 L1289.7 797.5 L1285.7 800.4 L1281.7 803.4 L1277.7 806.4 L1273.7 809.4 L1269.7 812.2 L1265.7 815.1 L1261.7 817.8 L1257.7 820.6 L1253.7 823.3 L1249.7 826.0 L1245.7 828.7 L1241.7 831.5 L1237.7 834.3 L1233.7 837.1 L1229.7 840.0 L1225.7 843.1 L1221.7 846.2 L1217.7 849.4 L1213.7 852.6 L1209.7 855.8 L1205.7 859.1 L1201.7 862.4 L1197.7 865.6 L1193.7 868.8 L1189.7 872.0 L1185.7 875.1 L1181.7 878.1 L1177.7 881.3 L1173.7 884.3 L1169.7 887.3 L1165.7 890.1 L1161.7 892.8 L1157.7 895.2 L1153.7 897.6 L1149.7 899.9 L1145.7 902.1 L1141.7 904.1 L1137.7 906.0 L1133.7 907.6 L1129.7 909.3 L1125.7 910.8 L1121.7 912.5 L1117.7 914.2 L1113.7 916.0 L1109.7 917.9 L1105.7 919.9 L1101.7 921.8 L1097.7 923.7 L1093.7 925.5 L1089.7 927.1 L1085.7 928.4 L1081.7 929.5 L1077.7 930.4 L1073.7 931.2 L1069.7 932.0 L1065.7 932.8 L1061.7 933.6 L1057.7 934.5 L1053.7 935.4 L1049.7 936.3 L1045.7 937.0 L1041.7 937.6 L1037.7 938.0 L1033.7 938.1 L1029.7 938.2 L1025.7 938.3 L1021.7 938.5 L1017.7 939.1 L1013.7 940.1 L1009.7 941.5 L1005.7 943.3 L1001.7 945.5 L997.7 947.9 L993.7 950.4 L989.7 952.8 L985.7 955.0 L981.7 956.8 L977.7 958.2 L973.7 959.2 L969.7 960.0 L965.7 960.8 L961.7 961.6 L957.7 962.6 L953.7 964.0 L949.7 965.5 L945.7 967.1 L941.7 968.5"/>
<path d="M1337.7 752.6 L1333.7 758.1 L1329.7 761.8 L1325.7 766.3 L1321.7 770.8 L1317.7 775.3 L1313.7 779.7 L1309.7 783.9 L1305.7 787.9 L1301.7 791.7 L1297.7 795.4 L1293.7 798.9 L1289.7 802.3 L1285.7 805.8 L1281.7 809.2 L1277.7 812.6 L1273.7 815.9 L1269.7 819.1 L1265.7 822.2 L1261.7 825.2 L1257.7 828.2 L1253.7 831.2 L1249.7 834.2 L1245.7 837.2 L1241.7 840.2 L1237.7 843.3 L1233.7 846.5 L1229.7 849.8 L1225.7 853.0 L1221.7 856.3 L1217.7 859.6 L1213.7 862.8 L1209.7 866.1 L1205.7 869.4 L1201.7 872.8 L1197.7 876.3 L1193.7 879.8 L1189.7 883.5 L1185.7 887.2 L1181.7 890.9 L1177.7 894.7 L1173.7 898.2 L1169.7 901.4 L1165.7 904.3 L1161.7 906.8 L1157.7 909.0 L1153.7 911.0 L1149.7 912.9 L1145.7 914.7 L1141.7 916.6 L1137.7 918.4 L1133.7 920.2 L1129.7 922.0 L1125.7 923.8 L1121.7 925.6 L1117.7 927.4 L1113.7 929.2 L1109.7 930.9 L1105.7 932.7 L1101.7 934.6 L1097.7 936.5 L1093.7 938.4 L1089.7 940.5 L1085.7 942.6 L1081.7 944.9 L1077.7 947.3 L1073.7 949.8 L1069.7 952.4 L1065.7 955.3 L1061.7 958.3 L1057.7 961.4 L1053.7 964.7 L1049.7 968.0 L1045.7 971.1 L1041.7 974.1 L1037.7 976.8 L1033.7 979.3 L1029.7 981.6 L1025.7 983.7 L1021.7 985.8 L1017.7 987.8 L1013.7 989.9 L1009.7 991.9 L1005.7 994.1 L1001.7 996.5 L997.7 999.1 L993.7 1002.0 L989.7 1005.1 L985.7 1008.3 L981.7 1011.3 L977.7 1014.0 L973.7 1016.5 L969.7 1018.6 L965.7 1020.6 L961.7 1022.4 L957.7 1024.1 L953.7 1025.7 L949.7 1027.2 L945.7 1028.9 L941.7 1030.7 L937.7 1032.6 L933.7 1034.8 L929.7 1037.1 L925.7 1039.4 L921.7 1041.7 L917.7 1043.8 L913.7 1045.7 L909.7 1047.3 L905.7 1048.6 L901.7 1049.7 L897.7 1050.6 L893.7 1051.4 L889.7 1052.4 L885.7 1053.4 L881.7 1054.6 L877.7 1056.0 L873.7 1057.6"/>
<path d="M1337.7 752.6 L1333.7 758.0 L1329.7 761.6 L1325.7 765.9 L1321.7 770.2 L1317.7 774.4 L1313.7 778.5 L1309.7 782.4 L1305.7 786.0 L1301.7 789.4 L1297.7 792.5 L1293.7 795.5 L1289.7 798.5 L1285.7 801.4 L1281.7 804.3 L1277.7 807.2 L1273.7 810.0 L1269.7 812.8 L1265.7 815.4 L1261.7 818.0 L1257.7 820.5 L1253.7 823.1 L1249.7 825.6 L1245.7 828.2 L1241.7 830.7 L1237.7 833.3 L1233.7 836.0 L1229.7 838.7 L1225.7 841.4 L1221.7 844.2 L1217.7 847.0 L1213.7 849.9 L1209.7 852.9 L1205.7 856.1 L1201.7 859.4 L1197.7 862.8 L1193.7 866.4 L1189.7 870.0 L1185.7 873.6 L1181.7 877.2 L1177.7 880.7 L1173.7 884.0 L1169.7 886.9 L1165.7 889.6 L1161.7 892.0 L1157.7 894.2 L1153.7 896.3 L1149.7 898.5 L1145.7 900.9 L1141.7 903.3 L1137.7 905.8 L1133.7 908.4 L1129.7 911.0 L1125.7 913.5 L1121.7 916.0 L1117.7 918.3 L1113.7 920.6 L1109.7 922.7 L1105.7 924.9 L1101.7 927.1 L1097.7 929.3 L1093.7 931.6 L1089.7 933.9 L1085.7 936.3 L1081.7 938.8 L1077.7 941.2 L1073.7 943.6 L1069.7 946.0 L1065.7 948.3 L1061.7 950.4 L1057.7 952.4 L1053.7 954.1 L1049.7 955.6 L1045.7 956.6 L1041.7 956.9 L1037.7 956.7 L1033.7 955.9 L1029.7 954.8 L1025.7 953.5 L1021.7 952.2 L1017.7 951.0 L1013.7 950.0 L1009.7 949.3 L1005.7 948.8 L1001.7 948.7 L997.7 948.9 L993.7 949.3 L989.7 949.9 L985.7 950.6 L981.7 951.2 L977.7 951.7 L973.7 952.1 L969.7 952.3 L965.7 952.4 L961.7 952.5 L957.7 952.6 L953.7 953.0 L949.7 953.7 L945.7 954.8 L941.7 956.5 L937.7 958.7 L933.7 961.3 L929.7 964.2 L925.7 967.2 L921.7 970.0 L917.7 972.5 L913.7 974.6 L909.7 976.1 L905.7 977.1 L901.7 977.7 L897.7 978.0 L893.7 978.2 L889.7 978.3 L885.7 978.7 L881.7 979.3 L877.7 980.4 L873.7 982.0 L869.7 984.1 L865.7 986.7 L861.7 989.5 L857.7 992.5 L853.7 995.3"/>
<path d="M1337.7 752.6 L1333.7 758.1 L1329.7 761.8 L1325.7 766.3 L1321.7 770.8 L1317.7 775.3 L1313.7 779.6 L1309.7 783.8 L1305.7 787.7 L1301.7 791.5 L1297.7 795.0 L1293.7 798.4 L1289.7 801.7 L1285.7 805.1 L1281.7 808.4 L1277.7 811.7 L1273.7 815.0 L1269.7 818.1 L1265.7 821.1 L1261.7 824.1 L1257.7 827.0 L1253.7 829.9 L1249.7 832.8 L1245.7 835.7 L1241.7 838.6 L1237.7 841.7 L1233.7 844.8 L1229.7 848.1 L1225.7 851.4 L1221.7 854.7 L1217.7 858.0 L1213.7 861.3 L1209.7 864.7 L1205.7 868.1 L1201.7 871.4 L1197.7 874.9 L1193.7 878.4 L1189.7 881.9 L1185.7 885.5 L1181.7 889.1 L1177.7 892.9 L1173.7 896.5 L1169.7 899.9 L1165.7 903.1 L1161.7 906.1 L1157.7 908.8 L1153.7 911.4 L1149.7 914.0 L1145.7 916.5 L1141.7 918.9 L1137.7 921.1 L1133.7 923.3 L1129.7 925.2 L1125.7 927.1 L1121.7 928.8 L1117.7 930.6 L1113.7 932.2 L1109.7 933.9 L1105.7 935.7 L1101.7 937.7 L1097.7 939.7 L1093.7 941.9 L1089.7 944.3 L1085.7 946.6 L1081.7 949.0 L1077.7 951.3 L1073.7 953.6 L1069.7 955.8 L1065.7 958.0 L1061.7 960.0 L1057.7 962.0 L1053.7 964.0 L1049.7 965.9 L1045.7 967.8 L1041.7 969.7 L1037.7 971.5 L1033.7 973.3 L1029.7 975.1 L1025.7 977.0 L1021.7 978.9 L1017.7 980.8 L1013.7 982.6 L1009.7 984.3 L1005.7 985.7 L1001.7 987.1 L997.7 988.6 L993.7 990.1 L989.7 991.6 L985.7 993.3 L981.7 995.1 L977.7 996.9 L973.7 998.8 L969.7 1000.9 L965.7 1003.2 L961.7 1005.7 L957.7 1008.3 L953.7 1010.9 L949.7 1013.6 L945.7 1016.1 L941.7 1018.4 L937.7 1020.6 L933.7 1022.5 L929.7 1024.2 L925.7 1025.8 L921.7 1027.2 L917.7 1028.6 L913.7 1030.0 L909.7 1031.3 L905.7 1032.7 L901.7 1034.2 L897.7 1035.8 L893.7 1037.4 L889.7 1039.1 L885.7 1040.7 L881.7 1042.3 L877.7 1043.4 L873.7 1043.8 L869.7 1043.4 L865.7 1042.1 L861.7 1039.7 L857.7 1036.6 L853.7 1033.3 L849.7 1029.8 L845.7 1026.6 L841.7 1024.1"/>
<path d="M1337.7 752.6 L1333.7 758.1 L1329.7 761.8 L1325.7 766.3 L1321.7 770.9 L1317.7 775.4 L1313.7 779.8 L1309.7 784.1 L1305.7 788.2 L1301.7 792.2 L1297.7 796.0 L1293.7 799.7 L1289.7 803.3 L1285.7 807.0 L1281.7 810.7 L1277.7 814.3 L1273.7 817.8 L1269.7 821.2 L1265.7 824.6 L1261.7 827.8 L1257.7 831.1 L1253.7 834.3 L1249.7 837.5 L1245.7 840.8 L1241.7 844.1 L1237.7 847.5 L1233.7 850.9 L1229.7 854.5 L1225.7 858.0 L1221.7 861.6 L1217.7 865.2 L1213.7 868.7 L1209.7 872.3 L1205.7 875.9 L1201.7 879.6 L1197.7 883.3 L1193.7 887.1 L1189.7 891.0 L1185.7 894.9 L1181.7 898.8 L1177.7 902.8 L1173.7 906.4 L1169.7 909.8 L1165.7 912.7 L1161.7 915.2 L1157.7 917.4 L1153.7 919.3 L1149.7 921.2 L1145.7 923.1 L1141.7 924.9 L1137.7 926.7 L1133.7 928.6 L1129.7 930.4 L1125.7 932.2 L1121.7 934.0 L1117.7 935.8 L1113.7 937.6 L1109.7 939.3 L1105.7 941.0 L1101.7 942.6 L1097.7 944.3 L1093.7 946.0 L1089.7 947.8 L1085.7 949.5 L1081.7 951.4 L1077.7 953.3 L1073.7 955.2 L1069.7 957.3 L1065.7 959.5 L1061.7 961.8 L1057.7 964.2 L1053.7 966.6 L1049.7 969.0 L1045.7 971.1 L1041.7 973.0 L1037.7 974.6 L1033.7 975.9 L1029.7 977.0 L1025.7 977.9 L1021.7 978.8 L1017.7 979.6 L1013.7 980.4 L1009.7 981.4 L1005.7 982.4 L1001.7 983.9 L997.7 985.7 L993.7 987.9 L989.7 990.5 L985.7 993.3 L981.7 996.1 L977.7 998.8 L973.7 1001.5 L969.7 1004.0 L965.7 1006.5 L961.7 1009.1 L957.7 1011.7 L953.7 1014.4 L949.7 1017.3 L945.7 1020.5 L941.7 1023.9"/>
<path d="M1337.7 752.6 L1333.7 758.1 L1329.7 761.8 L1325.7 766.3 L1321.7 770.9 L1317.7 775.3 L1313.7 779.8 L1309.7 784.0 L1305.7 788.1 L1301.7 792.0 L1297.7 795.7 L1293.7 799.3 L1289.7 802.8 L1285.7 806.4 L1281.7 810.0 L1277.7 813.5 L1273.7 816.9 L1269.7 820.2 L1265.7 823.5 L1261.7 826.7 L1257.7 829.8 L1253.7 832.9 L1249.7 836.0 L1245.7 839.1 L1241.7 842.2 L1237.7 845.3 L1233.7 848.6 L1229.7 851.9 L1225.7 855.3 L1221.7 858.7 L1217.7 862.2 L1213.7 865.7 L1209.7 869.3 L1205.7 872.8 L1201.7 876.5 L1197.7 880.1 L1193.7 883.7 L1189.7 887.2 L1185.7 890.7 L1181.7 894.2 L1177.7 897.6 L1173.7 900.8 L1169.7 903.7 L1165.7 906.4 L1161.7 908.7 L1157.7 910.8 L1153.7 912.9 L1149.7 915.0 L1145.7 917.1 L1141.7 919.2 L1137.7 921.2 L1133.7 923.1 L1129.7 924.9 L1125.7 926.5 L1121.7 928.1 L1117.7 929.5 L1113.7 931.0 L1109.7 932.6 L1105.7 934.2 L1101.7 936.1 L1097.7 938.2 L1093.7 940.5 L1089.7 943.1 L1085.7 945.9 L1081.7 948.7 L1077.7 951.6 L1073.7 954.4 L1069.7 957.2 L1065.7 960.0 L1061.7 962.8 L1057.7 965.5 L1053.7 968.2 L1049.7 971.0 L1045.7 973.8 L1041.7 976.6 L1037.7 979.3 L1033.7 982.2 L1029.7 985.0 L1025.7 988.0 L1021.7 991.0 L1017.7 994.0 L1013.7 996.8 L1009.7 999.4 L1005.7 1001.7 L1001.7 1004.0 L997.7 1006.2 L993.7 1008.4 L989.7 1010.7 L985.7 1013.2 L981.7 1015.7 L977.7 1018.2 L973.7 1020.8 L969.7 1023.5 L965.7 1026.2 L961.7 1028.9 L957.7 1031.4 L953.7 1033.5 L949.7 1035.2 L945.7 1036.5 L941.7 1037.3 L937.7 1037.9 L933.7 1038.4 L929.7 1039.0"/>
<path d="M1337.7 752.6 L1333.7 758.1 L1329.7 761.8 L1325.7 766.3 L1321.7 770.9 L1317.7 775.4 L1313.7 779.8 L1309.7 784.1 L1305.7 788.1 L1301.7 792.1 L1297.7 795.8 L1293.7 799.4 L1289.7 803.1 L1285.7 806.7 L1281.7 810.3 L1277.7 813.9 L1273.7 817.3 L1269.7 820.7 L1265.7 824.1 L1261.7 827.3 L1257.7 830.5 L1253.7 833.8 L1249.7 837.1 L1245.7 840.4 L1241.7 843.7 L1237.7 847.2 L1233.7 850.7 L1229.7 854.4 L1225.7 858.1 L1221.7 861.8 L1217.7 865.6 L1213.7 869.4 L1209.7 873.3 L1205.7 877.3 L1201.7 881.4 L1197.7 885.5 L1193.7 889.7 L1189.7 893.8 L1185.7 897.9 L1181.7 902.0 L1177.7 906.0 L1173.7 909.6 L1169.7 912.8 L1165.7 915.6 L1161.7 917.9 L1157.7 920.0 L1153.7 922.0 L1149.7 924.0 L1145.7 926.0 L1141.7 928.1 L1137.7 930.2 L1133.7 932.3 L1129.7 934.4 L1125.7 936.4 L1121.7 938.3 L1117.7 940.2 L1113.7 941.9 L1109.7 943.7 L1105.7 945.4 L1101.7 947.3 L1097.7 949.4 L1093.7 951.5 L1089.7 953.9 L1085.7 956.3 L1081.7 958.8 L1077.7 961.2 L1073.7 963.5 L1069.7 965.7 L1065.7 967.7 L1061.7 969.5 L1057.7 971.1 L1053.7 972.6 L1049.7 973.9 L1045.7 975.1 L1041.7 976.2 L1037.7 977.3 L1033.7 978.5 L1029.7 979.7 L1025.7 981.2 L1021.7 982.8 L1017.7 984.5 L1013.7 986.1"/>
<path d="M1337.7 752.6 L1333.7 758.1 L1329.7 761.8 L1325.7 766.4 L1321.7 770.9 L1317.7 775.5 L1313.7 780.0 L1309.7 784.4 L1305.7 788.7 L1301.7 792.8 L1297.7 796.8 L1293.7 800.7 L1289.7 804.6 L1285.7 808.5 L1281.7 812.4 L1277.7 816.3 L1273.7 820.0 L1269.7 823.7 L1265.7 827.4 L1261.7 830.9 L1257.7 834.4 L1253.7 838.0 L1249.7 841.5 L1245.7 845.1 L1241.7 848.7 L1237.7 852.4 L1233.7 856.2 L1229.7 860.0 L1225.7 863.9 L1221.7 867.8 L1217.7 871.5 L1213.7 875.3 L1209.7 879.0 L1205.7 882.6 L1201.7 886.3 L1197.7 889.9 L1193.7 893.4 L1189.7 897.0 L1185.7 900.6 L1181.7 904.2 L1177.7 907.8 L1173.7 911.2 L1169.7 914.1 L1165.7 916.7 L1161.7 918.9 L1157.7 920.8 L1153.7 922.6 L1149.7 924.3 L1145.7 926.1 L1141.7 928.0 L1137.7 929.9 L1133.7 931.8 L1129.7 933.9 L1125.7 935.9 L1121.7 938.1 L1117.7 940.2 L1113.7 942.3 L1109.7 944.4 L1105.7 946.5 L1101.7 948.5 L1097.7 950.6 L1093.7 952.6 L1089.7 954.6 L1085.7 956.7 L1081.7 958.7 L1077.7 960.8 L1073.7 963.0 L1069.7 965.4 L1065.7 967.9 L1061.7 970.5 L1057.7 973.3 L1053.7 976.3 L1049.7 979.3 L1045.7 982.3 L1041.7 985.1 L1037.7 987.9 L1033.7 990.4 L1029.7 992.9 L1025.7 995.4 L1021.7 997.9 L1017.7 1000.5 L1013.7 1003.1 L1009.7 1006.0 L1005.7 1009.0 L1001.7 1012.3 L997.7 1016.0 L993.7 1020.1 L989.7 1024.4 L985.7 1028.8 L981.7 1033.1 L977.7 1037.1 L973.7 1040.8 L969.7 1044.0"/>
<path d="M1337.7 752.6 L1333.7 758.1 L1329.7 761.8 L1325.7 766.3 L1321.7 770.9 L1317.7 775.3 L1313.7 779.8 L1309.7 784.0 L1305.7 788.1 L1301.7 792.0 L1297.7 795.8 L1293.7 799.3 L1289.7 802.9 L1285.7 806.5 L1281.7 810.0 L1277.7 813.6 L1273.7 817.0 L1269.7 820.3 L1265.7 823.5 L1261.7 826.7 L1257.7 829.7 L1253.7 832.8 L1249.7 835.9 L1245.7 838.9 L1241.7 842.1 L1237.7 845.3 L1233.7 848.7 L1229.7 852.1 L1225.7 855.7 L1221.7 859.3 L1217.7 862.9 L1213.7 866.5 L1209.7 870.1 L1205.7 873.8 L1201.7 877.4 L1197.7 881.0 L1193.7 884.7 L1189.7 888.3 L1185.7 892.0 L1181.7 895.7 L1177.7 899.5 L1173.7 903.1 L1169.7 906.5 L1165.7 909.6 L1161.7 912.4 L1157.7 915.0 L1153.7 917.4 L1149.7 919.8 L1145.7 922.1 L1141.7 924.3 L1137.7 926.5 L1133.7 928.5 L1129.7 930.5 L1125.7 932.5 L1121.7 934.5 L1117.7 936.5 L1113.7 938.5 L1109.7 940.7 L1105.7 943.0 L1101.7 945.4 L1097.7 948.1 L1093.7 950.8 L1089.7 953.6 L1085.7 956.3 L1081.7 959.0 L1077.7 961.6 L1073.7 964.2 L1069.7 966.6 L1065.7 969.0 L1061.7 971.3 L1057.7 973.6 L1053.7 975.8 L1049.7 978.1 L1045.7 980.3 L1041.7 982.3 L1037.7 984.3 L1033.7 986.1 L1029.7 987.8 L1025.7 989.4 L1021.7 990.9 L1017.7 992.2 L1013.7 993.3 L1009.7 994.2 L1005.7 994.8 L1001.7 995.4 L997.7 996.1 L993.7 997.0 L989.7 998.2 L985.7 999.7 L981.7 1001.4 L977.7 1003.4 L973.7 1005.6 L969.7 1008.0 L965.7 1010.7 L961.7 1013.5 L957.7 1016.3 L953.7 1018.9"/>
<path d="M1337.7 752.6 L1333.7 758.1 L1329.7 761.8 L1325.7 766.3 L1321.7 770.9 L1317.7 775.4 L1313.7 779.8 L1309.7 784.1 L1305.7 788.1 L1301.7 792.1 L1297.7 795.8 L1293.7 799.4 L1289.7 803.0 L1285.7 806.6 L1281.7 810.2 L1277.7 813.7 L1273.7 817.1 L1269.7 820.4 L1265.7 823.7 L1261.7 826.8 L1257.7 830.0 L1253.7 833.1 L1249.7 836.3 L1245.7 839.4 L1241.7 842.7 L1237.7 846.0 L1233.7 849.4 L1229.7 852.8 L1225.7 856.3 L1221.7 859.8 L1217.7 863.3 L1213.7 866.8 L1209.7 870.4 L1205.7 874.0 L1201.7 877.8 L1197.7 881.5 L1193.7 885.3 L1189.7 889.0 L1185.7 892.6 L1181.7 896.2 L1177.7 899.7 L1173.7 902.9 L1169.7 905.7 L1165.7 908.3 L1161.7 910.7 L1157.7 912.8 L1153.7 914.9 L1149.7 917.0 L1145.7 919.1 L1141.7 921.2 L1137.7 923.1 L1133.7 924.9 L1129.7 926.6 L1125.7 928.3 L1121.7 929.9 L1117.7 931.6 L1113.7 933.4 L1109.7 935.4 L1105.7 937.6 L1101.7 940.0 L1097.7 942.6 L1093.7 945.3 L1089.7 948.1 L1085.7 950.8 L1081.7 953.4 L1077.7 956.0 L1073.7 958.7 L1069.7 961.4 L1065.7 964.2 L1061.7 967.3 L1057.7 970.5 L1053.7 973.9 L1049.7 977.3 L1045.7 980.5 L1041.7 983.4 L1037.7 986.0 L1033.7 988.2 L1029.7 990.1 L1025.7 991.8 L1021.7 993.5 L1017.7 995.3 L1013.7 997.1 L1009.7 999.1 L1005.7 1001.1 L1001.7 1003.3 L997.7 1005.5 L993.7 1007.7 L989.7 1009.7 L985.7 1011.5 L981.7 1013.0 L977.7 1014.3 L973.7 1015.6 L969.7 1016.9 L965.7 1018.5 L961.7 1020.4"/>
<path d="M1337.7 752.6 L1333.7 758.1 L1329.7 761.8 L1325.7 766.3 L1321.7 770.8 L1317.7 775.3 L1313.7 779.6 L1309.7 783.8 L1305.7 787.7 L1301.7 791.5 L1297.7 795.1 L1293.7 798.5 L1289.7 801.8 L1285.7 805.2 L1281.7 808.7 L1277.7 812.0 L1273.7 815.3 L1269.7 818.5 L1265.7 821.6 L1261.7 824.6 L1257.7 827.5 L1253.7 830.5 L1249.7 833.4 L1245.7 836.3 L1241.7 839.3 L1237.7 842.3 L1233.7 845.4 L1229.7 848.7 L1225.7 852.0 L1221.7 855.3 L1217.7 858.7 L1213.7 862.1 L1209.7 865.6 L1205.7 869.1 L1201.7 872.6 L1197.7 876.2 L1193.7 879.8 L1189.7 883.4 L1185.7 887.0 L1181.7 890.6 L1177.7 894.2 L1173.7 897.6 L1169.7 900.7 L1165.7 903.6 L1161.7 906.2 L1157.7 908.5 L1153.7 910.8 L1149.7 913.1 L1145.7 915.3 L1141.7 917.5 L1137.7 919.7 L1133.7 921.7 L1129.7 923.7 L1125.7 925.7 L1121.7 927.5 L1117.7 929.4 L1113.7 931.3 L1109.7 933.2 L1105.7 935.2 L1101.7 937.4 L1097.7 939.7 L1093.7 942.3 L1089.7 945.0 L1085.7 947.8 L1081.7 950.7 L1077.7 953.6 L1073.7 956.4 L1069.7 959.1 L1065.7 961.7 L1061.7 964.1 L1057.7 966.2 L1053.7 968.1 L1049.7 969.6 L1045.7 970.8 L1041.7 971.6 L1037.7 972.1 L1033.7 972.4 L1029.7 972.5 L1025.7 972.7 L1021.7 972.9 L1017.7 973.2 L1013.7 973.7 L1009.7 974.3 L1005.7 975.1 L1001.7 976.3 L997.7 977.7 L993.7 979.5 L989.7 981.5 L985.7 983.6 L981.7 985.7 L977.7 987.6 L973.7 989.3 L969.7 990.8 L965.7 991.9 L961.7 992.6 L957.7 993.1 L953.7 993.3 L949.7 993.4 L945.7 993.5 L941.7 993.7 L937.7 994.2 L933.7 994.9 L929.7 995.8 L925.7 996.8 L921.7 998.0 L917.7 999.2 L913.7 1000.5 L909.7 1001.9 L905.7 1003.4 L901.7 1005.1 L897.7 1007.3 L893.7 1009.9"/>
<path d="M1337.7 752.6 L1333.7 758.1 L1329.7 761.8 L1325.7 766.4 L1321.7 770.9 L1317.7 775.5 L1313.7 780.0 L1309.7 784.4 L1305.7 788.6 L1301.7 792.7 L1297.7 796.7 L1293.7 800.6 L1289.7 804.4 L1285.7 808.3 L1281.7 812.2 L1277.7 816.0 L1273.7 819.8 L1269.7 823.5 L1265.7 827.1 L1261.7 830.6 L1257.7 834.1 L1253.7 837.6 L1249.7 841.1 L1245.7 844.6 L1241.7 848.2 L1237.7 851.8 L1233.7 855.5 L1229.7 859.4 L1225.7 863.3 L1221.7 867.3 L1217.7 871.3 L1213.7 875.4 L1209.7 879.4 L1205.7 883.5 L1201.7 887.5 L1197.7 891.4 L1193.7 895.2 L1189.7 899.0 L1185.7 902.7 L1181.7 906.3 L1177.7 909.9 L1173.7 913.2 L1169.7 916.2 L1165.7 918.9 L1161.7 921.3 L1157.7 923.4 L1153.7 925.5 L1149.7 927.6 L1145.7 929.8 L1141.7 931.9 L1137.7 934.1 L1133.7 936.2 L1129.7 938.3 L1125.7 940.3 L1121.7 942.3 L1117.7 944.3 L1113.7 946.2 L1109.7 948.2 L1105.7 950.2 L1101.7 952.5 L1097.7 954.9 L1093.7 957.5 L1089.7 960.2 L1085.7 963.1 L1081.7 966.0 L1077.7 968.9 L1073.7 971.8 L1069.7 974.7 L1065.7 977.5 L1061.7 980.2 L1057.7 982.8 L1053.7 985.3 L1049.7 987.6 L1045.7 989.7 L1041.7 991.6 L1037.7 993.4 L1033.7 995.1"/>
<path d="M1337.7 752.6 L1333.7 758.1 L1329.7 761.8 L1325.7 766.4 L1321.7 771.0 L1317.7 775.6 L1313.7 780.1 L1309.7 784.6 L1305.7 789.0 L1301.7 793.2 L1297.7 797.4 L1293.7 801.5 L1289.7 805.6 L1285.7 809.7 L1281.7 813.9 L1277.7 818.0 L1273.7 822.0 L1269.7 826.0 L1265.7 829.9 L1261.7 833.8 L1257.7 837.6 L1253.7 841.3 L1249.7 845.1 L1245.7 848.9 L1241.7 852.8 L1237.7 856.8 L1233.7 860.9 L1229.7 865.2 L1225.7 869.6 L1221.7 873.9 L1217.7 878.3 L1213.7 882.7 L1209.7 887.0 L1205.7 891.2 L1201.7 895.4 L1197.7 899.5 L1193.7 903.7 L1189.7 907.8 L1185.7 912.0 L1181.7 916.4 L1177.7 920.8 L1173.7 924.8 L1169.7 928.4 L1165.7 931.6 L1161.7 934.2 L1157.7 936.4 L1153.7 938.5 L1149.7 940.6 L1145.7 942.6 L1141.7 944.6 L1137.7 946.6 L1133.7 948.6 L1129.7 950.7 L1125.7 952.9 L1121.7 955.1 L1117.7 957.3 L1113.7 959.5 L1109.7 961.6 L1105.7 963.8 L1101.7 966.0 L1097.7 968.3 L1093.7 970.6 L1089.7 973.0 L1085.7 975.4 L1081.7 977.8 L1077.7 980.2 L1073.7 982.7 L1069.7 985.3 L1065.7 987.9 L1061.7 990.7 L1057.7 993.5 L1053.7 996.3 L1049.7 999.1 L1045.7 1001.8 L1041.7 1004.4 L1037.7 1006.8 L1033.7 1009.1 L1029.7 1011.4 L1025.7 1013.6 L1021.7 1015.9 L1017.7 1018.1 L1013.7 1020.4 L1009.7 1022.6 L1005.7 1024.9 L1001.7 1027.3 L997.7 1030.0 L993.7 1032.8 L989.7 1035.9 L985.7 1039.1 L981.7 1042.5"/>
<path d="M1337.7 752.6 L1333.7 758.1 L1329.7 761.8 L1325.7 766.4 L1321.7 771.0 L1317.7 775.6 L1313.7 780.1 L1309.7 784.6 L1305.7 788.9 L1301.7 793.2 L1297.7 797.4 L1293.7 801.5 L1289.7 805.5 L1285.7 809.6 L1281.7 813.7 L1277.7 817.7 L1273.7 821.6 L1269.7 825.4 L1265.7 829.2 L1261.7 832.8 L1257.7 836.4 L1253.7 840.0 L1249.7 843.5 L1245.7 847.1 L1241.7 850.8 L1237.7 854.5 L1233.7 858.3 L1229.7 862.1 L1225.7 866.0 L1221.7 869.9 L1217.7 873.7 L1213.7 877.4 L1209.7 881.2 L1205.7 885.0 L1201.7 888.8 L1197.7 892.6 L1193.7 896.5 L1189.7 900.4 L1185.7 904.3 L1181.7 908.2 L1177.7 912.1 L1173.7 915.7 L1169.7 919.0 L1165.7 921.8 L1161.7 924.2 L1157.7 926.3 L1153.7 928.4 L1149.7 930.5 L1145.7 932.7 L1141.7 935.0 L1137.7 937.4 L1133.7 939.7 L1129.7 942.1 L1125.7 944.3 L1121.7 946.5 L1117.7 948.6 L1113.7 950.6 L1109.7 952.5 L1105.7 954.5 L1101.7 956.6 L1097.7 958.9 L1093.7 961.4 L1089.7 964.1 L1085.7 967.0 L1081.7 969.9 L1077.7 973.0 L1073.7 976.1 L1069.7 979.1 L1065.7 982.2 L1061.7 985.3 L1057.7 988.3 L1053.7 991.3 L1049.7 994.4 L1045.7 997.4 L1041.7 1000.4 L1037.7 1003.5 L1033.7 1006.6 L1029.7 1009.7 L1025.7 1012.7 L1021.7 1015.4 L1017.7 1018.0 L1013.7 1020.4 L1009.7 1022.6 L1005.7 1024.5 L1001.7 1026.4 L997.7 1028.3 L993.7 1030.3 L989.7 1032.4 L985.7 1034.8 L981.7 1037.3 L977.7 1039.9 L973.7 1042.5 L969.7 1045.0 L965.7 1047.3 L961.7 1049.3 L957.7 1050.9 L953.7 1051.9 L949.7 1052.4 L945.7 1052.7"/>
<path d="M1337.7 752.6 L1333.7 758.1 L1329.7 761.8 L1325.7 766.4 L1321.7 770.9 L1317.7 775.5 L1313.7 780.0 L1309.7 784.4 L1305.7 788.7 L1301.7 792.8 L1297.7 796.8 L1293.7 800.7 L1289.7 804.7 L1285.7 808.6 L1281.7 812.5 L1277.7 816.4 L1273.7 820.2 L1269.7 824.0 L1265.7 827.6 L1261.7 831.1 L1257.7 834.6 L1253.7 838.1 L1249.7 841.6 L1245.7 845.1 L1241.7 848.7 L1237.7 852.4 L1233.7 856.2 L1229.7 860.2 L1225.7 864.2 L1221.7 868.3 L1217.7 872.3 L1213.7 876.3 L1209.7 880.3 L1205.7 884.3 L1201.7 888.2 L1197.7 892.1 L1193.7 896.0 L1189.7 899.8 L1185.7 903.8 L1181.7 907.8 L1177.7 911.8 L1173.7 915.6 L1169.7 919.0 L1165.7 922.1 L1161.7 924.7 L1157.7 926.8 L1153.7 928.7 L1149.7 930.5 L1145.7 932.2 L1141.7 933.8 L1137.7 935.4 L1133.7 937.0 L1129.7 938.6 L1125.7 940.3 L1121.7 942.0 L1117.7 943.7 L1113.7 945.4 L1109.7 947.1 L1105.7 948.8 L1101.7 950.5 L1097.7 952.2 L1093.7 953.9 L1089.7 955.7 L1085.7 957.5 L1081.7 959.4 L1077.7 961.4 L1073.7 963.6 L1069.7 966.0 L1065.7 968.6 L1061.7 971.3 L1057.7 974.1 L1053.7 976.9 L1049.7 979.6 L1045.7 982.0 L1041.7 984.2 L1037.7 986.1 L1033.7 987.7 L1029.7 989.2 L1025.7 990.7 L1021.7 992.3 L1017.7 994.1 L1013.7 996.0 L1009.7 998.1 L1005.7 1000.3 L1001.7 1002.9 L997.7 1005.6 L993.7 1008.6 L989.7 1011.6 L985.7 1014.7 L981.7 1017.8 L977.7 1020.7 L973.7 1023.8 L969.7 1027.0 L965.7 1030.5 L961.7 1034.4 L957.7 1038.6 L953.7 1042.9 L949.7 1047.4 L945.7 1051.7 L941.7 1055.8 L937.7 1059.7 L933.7 1063.2 L929.7 1066.3"/>
<path d="M1337.7 752.6 L1333.7 758.1 L1329.7 761.8 L1325.7 766.3 L1321.7 770.9 L1317.7 775.3 L1313.7 779.8 L1309.7 784.0 L1305.7 788.1 L1301.7 792.0 L1297.7 795.7 L1293.7 799.3 L1289.7 802.9 L1285.7 806.5 L1281.7 810.1 L1277.7 813.6 L1273.7 817.1 L1269.7 820.6 L1265.7 824.0 L1261.7 827.3 L1257.7 830.6 L1253.7 833.8 L1249.7 837.1 L1245.7 840.4 L1241.7 843.7 L1237.7 847.1 L1233.7 850.6 L1229.7 854.2 L1225.7 857.8 L1221.7 861.4 L1217.7 865.1 L1213.7 868.8 L1209.7 872.6 L1205.7 876.4 L1201.7 880.2 L1197.7 884.0 L1193.7 887.9 L1189.7 891.7 L1185.7 895.6 L1181.7 899.4 L1177.7 903.2 L1173.7 906.8 L1169.7 910.1 L1165.7 913.1 L1161.7 915.7 L1157.7 918.1 L1153.7 920.4 L1149.7 922.8 L1145.7 925.1 L1141.7 927.5 L1137.7 929.8 L1133.7 932.1 L1129.7 934.3 L1125.7 936.4 L1121.7 938.3 L1117.7 940.2 L1113.7 941.9 L1109.7 943.6 L1105.7 945.2 L1101.7 946.9 L1097.7 948.8 L1093.7 950.7 L1089.7 952.9 L1085.7 955.2 L1081.7 957.7 L1077.7 960.4 L1073.7 963.2 L1069.7 966.2 L1065.7 969.2 L1061.7 972.3 L1057.7 975.5 L1053.7 978.6 L1049.7 981.5 L1045.7 984.3 L1041.7 986.7 L1037.7 988.9"/>
<path d="M1337.7 752.6 L1333.7 757.3 L1329.7 760.4 L1325.7 764.1 L1321.7 767.5 L1317.7 770.8 L1313.7 773.8 L1309.7 776.6 L1305.7 779.4 L1301.7 782.0 L1297.7 784.7 L1293.7 787.2 L1289.7 789.8 L1285.7 792.4 L1281.7 795.0 L1277.7 797.5 L1273.7 800.0 L1269.7 802.4 L1265.7 804.6 L1261.7 806.8 L1257.7 808.9 L1253.7 810.9 L1249.7 813.0 L1245.7 815.0 L1241.7 817.0 L1237.7 818.9 L1233.7 820.8 L1229.7 822.8 L1225.7 824.7 L1221.7 826.6 L1217.7 828.5 L1213.7 830.4 L1209.7 832.2 L1205.7 834.2 L1201.7 836.2 L1197.7 838.3 L1193.7 840.4 L1189.7 842.6 L1185.7 844.8 L1181.7 847.1 L1177.7 849.4 L1173.7 851.8 L1169.7 854.2 L1165.7 856.4 L1161.7 858.6 L1157.7 860.6 L1153.7 862.5 L1149.7 864.6 L1145.7 866.7 L1141.7 868.9 L1137.7 871.1 L1133.7 873.4 L1129.7 875.5 L1125.7 877.6 L1121.7 879.5 L1117.7 881.4 L1113.7 883.3 L1109.7 885.2 L1105.7 887.2 L1101.7 889.1 L1097.7 891.0 L1093.7 892.7 L1089.7 894.3 L1085.7 895.9 L1081.7 897.4 L1077.7 899.0 L1073.7 900.4 L1069.7 901.7 L1065.7 903.0 L1061.7 904.0 L1057.7 905.0 L1053.7 906.0 L1049.7 907.0 L1045.7 908.1 L1041.7 909.3 L1037.7 910.6 L1033.7 911.9 L1029.7 913.3 L1025.7 914.7 L1021.7 916.1 L1017.7 917.5 L1013.7 918.9 L1009.7 920.3 L1005.7 921.7 L1001.7 923.0 L997.7 924.0 L993.7 924.9 L989.7 925.7 L985.7 926.2 L981.7 926.7 L977.7 927.3 L973.7 927.8 L969.7 928.3 L965.7 928.8 L961.7 929.3 L957.7 929.9 L953.7 930.5 L949.7 931.3 L945.7 932.1 L941.7 933.1 L937.7 934.1 L933.7 935.1 L929.7 936.0 L925.7 937.0 L921.7 938.0 L917.7 939.0 L913.7 940.1"/>
<path d="M1337.7 752.6 L1333.7 757.3 L1329.7 760.4 L1325.7 764.1 L1321.7 767.6 L1317.7 770.9 L1313.7 774.0 L1309.7 776.9 L1305.7 779.7 L1301.7 782.5 L1297.7 785.2 L1293.7 787.9 L1289.7 790.6 L1285.7 793.3 L1281.7 796.0 L1277.7 798.7 L1273.7 801.2 L1269.7 803.7 L1265.7 806.0 L1261.7 808.3 L1257.7 810.5 L1253.7 812.8 L1249.7 815.2 L1245.7 817.5 L1241.7 819.9 L1237.7 822.3 L1233.7 824.7 L1229.7 827.1 L1225.7 829.5 L1221.7 831.8 L1217.7 834.1 L1213.7 836.5 L1209.7 839.0 L1205.7 841.7 L1201.7 844.7 L1197.7 847.9 L1193.7 851.3 L1189.7 854.7 L1185.7 858.2 L1181.7 861.5 L1177.7 864.8 L1173.7 867.8 L1169.7 870.7 L1165.7 873.5 L1161.7 876.1 L1157.7 878.7 L1153.7 881.4 L1149.7 884.1 L1145.7 886.9 L1141.7 889.5 L1137.7 891.9 L1133.7 894.1 L1129.7 896.0 L1125.7 897.7 L1121.7 899.3 L1117.7 900.8 L1113.7 902.4 L1109.7 904.1 L1105.7 905.8 L1101.7 907.7 L1097.7 909.5 L1093.7 911.2 L1089.7 912.8 L1085.7 914.0 L1081.7 915.0 L1077.7 915.7 L1073.7 916.2 L1069.7 916.7 L1065.7 917.2 L1061.7 917.7 L1057.7 918.4 L1053.7 919.2 L1049.7 920.0 L1045.7 920.7 L1041.7 921.3 L1037.7 921.7 L1033.7 921.8 L1029.7 921.8 L1025.7 921.7 L1021.7 921.8 L1017.7 922.1 L1013.7 922.8 L1009.7 923.9 L1005.7 925.2 L1001.7 926.5 L997.7 927.5 L993.7 928.1 L989.7 928.1 L985.7 927.9 L981.7 927.7 L977.7 927.6 L973.7 927.8 L969.7 928.3 L965.7 928.8 L961.7 929.3 L957.7 929.9 L953.7 930.5 L949.7 931.3 L945.7 932.1 L941.7 933.1 L937.7 934.1 L933.7 935.1 L929.7 936.0 L925.7 937.0 L921.7 938.0 L917.7 939.0 L913.7 940.0 L909.7 941.1 L905.7 942.2 L901.7 943.4 L897.7 944.9 L893.7 946.6 L889.7 948.5 L885.7 950.6 L881.7 953.0 L877.7 955.9 L873.7 959.2 L869.7 963.3 L865.7 968.0"/>
<path d="M1337.7 752.6 L1333.7 757.2 L1329.7 760.2 L1325.7 763.7 L1321.7 767.0 L1317.7 770.0 L1313.7 772.8 L1309.7 775.4 L1305.7 778.0 L1301.7 780.5 L1297.7 783.0 L1293.7 785.4 L1289.7 787.8 L1285.7 790.2 L1281.7 792.5 L1277.7 794.8 L1273.7 796.9 L1269.7 799.1 L1265.7 801.1 L1261.7 803.1 L1257.7 805.1 L1253.7 807.1 L1249.7 809.1 L1245.7 811.2 L1241.7 813.2 L1237.7 815.2 L1233.7 817.2 L1229.7 819.2 L1225.7 821.2 L1221.7 823.2 L1217.7 825.3 L1213.7 827.5 L1209.7 829.8 L1205.7 832.4 L1201.7 835.1 L1197.7 837.9 L1193.7 840.8 L1189.7 843.6 L1185.7 846.3 L1181.7 848.9 L1177.7 851.4 L1173.7 853.8 L1169.7 856.1 L1165.7 858.4 L1161.7 860.8 L1157.7 863.1 L1153.7 865.5 L1149.7 868.1 L1145.7 870.6 L1141.7 873.1 L1137.7 875.4 L1133.7 877.7 L1129.7 879.9 L1125.7 882.1 L1121.7 884.3 L1117.7 886.6 L1113.7 889.0 L1109.7 891.4 L1105.7 893.9 L1101.7 896.3 L1097.7 898.4 L1093.7 900.3 L1089.7 901.8 L1085.7 903.0 L1081.7 903.9 L1077.7 904.5 L1073.7 904.9 L1069.7 905.2 L1065.7 905.6 L1061.7 906.0 L1057.7 906.5 L1053.7 907.2 L1049.7 908.0 L1045.7 908.9 L1041.7 909.8 L1037.7 910.9 L1033.7 912.1 L1029.7 913.4 L1025.7 914.7 L1021.7 916.1 L1017.7 917.5 L1013.7 918.9 L1009.7 920.3 L1005.7 921.7 L1001.7 923.0 L997.7 924.0 L993.7 924.9 L989.7 925.7 L985.7 926.2 L981.7 926.7 L977.7 927.3 L973.7 927.8 L969.7 928.3 L965.7 928.8 L961.7 929.3 L957.7 929.9 L953.7 930.5 L949.7 931.3 L945.7 932.1 L941.7 933.1 L937.7 934.1 L933.7 935.1 L929.7 936.0 L925.7 937.0 L921.7 938.0 L917.7 939.0 L913.7 940.0 L909.7 941.1 L905.7 942.2 L901.7 943.4 L897.7 944.7 L893.7 946.0 L889.7 947.4"/>
<path d="M1337.7 752.6 L1333.7 757.4 L1329.7 760.5 L1325.7 764.3 L1321.7 767.8 L1317.7 771.2 L1313.7 774.3 L1309.7 777.3 L1305.7 780.2 L1301.7 783.1 L1297.7 785.9 L1293.7 788.6 L1289.7 791.3 L1285.7 794.0 L1281.7 796.7 L1277.7 799.4 L1273.7 802.0 L1269.7 804.6 L1265.7 807.1 L1261.7 809.6 L1257.7 812.0 L1253.7 814.5 L1249.7 816.9 L1245.7 819.3 L1241.7 821.8 L1237.7 824.2 L1233.7 826.7 L1229.7 829.2 L1225.7 831.8 L1221.7 834.5 L1217.7 837.4 L1213.7 840.3 L1209.7 843.5 L1205.7 846.7 L1201.7 850.1 L1197.7 853.6 L1193.7 857.2 L1189.7 860.7 L1185.7 864.1 L1181.7 867.5 L1177.7 870.9 L1173.7 874.2 L1169.7 877.3 L1165.7 880.2 L1161.7 883.0 L1157.7 885.6 L1153.7 888.1 L1149.7 890.5 L1145.7 892.6 L1141.7 894.5 L1137.7 896.2 L1133.7 897.6 L1129.7 898.8 L1125.7 900.0 L1121.7 901.3 L1117.7 902.6 L1113.7 904.1 L1109.7 905.8 L1105.7 907.6 L1101.7 909.5 L1097.7 911.4 L1093.7 913.3 L1089.7 915.0 L1085.7 916.6 L1081.7 918.1 L1077.7 919.5 L1073.7 920.9 L1069.7 922.2 L1065.7 923.7 L1061.7 925.2 L1057.7 926.8 L1053.7 928.4 L1049.7 930.1 L1045.7 931.5 L1041.7 932.7 L1037.7 933.6 L1033.7 934.0 L1029.7 934.1 L1025.7 934.0 L1021.7 933.8 L1017.7 933.8 L1013.7 934.0 L1009.7 934.5 L1005.7 935.3 L1001.7 936.4 L997.7 937.6 L993.7 938.8 L989.7 939.9 L985.7 940.7 L981.7 941.3 L977.7 941.7 L973.7 941.9 L969.7 942.3 L965.7 943.1 L961.7 944.4 L957.7 946.4 L953.7 949.2 L949.7 952.6 L945.7 956.4 L941.7 960.3 L937.7 963.8 L933.7 966.7 L929.7 968.8 L925.7 970.1 L921.7 970.8 L917.7 971.0 L913.7 971.2 L909.7 971.5 L905.7 972.3 L901.7 973.6 L897.7 975.4 L893.7 977.5 L889.7 979.6 L885.7 981.2 L881.7 982.2 L877.7 982.4 L873.7 982.1 L869.7 981.4 L865.7 980.6 L861.7 980.2 L857.7 980.4 L853.7 981.5 L849.7 983.6 L845.7 986.6 L841.7 990.3 L837.7 994.2 L833.7 998.0 L829.7 1001.6"/>
<path d="M1337.7 752.6 L1333.7 757.4 L1329.7 760.5 L1325.7 764.1 L1321.7 767.6 L1317.7 770.9 L1313.7 774.0 L1309.7 776.9 L1305.7 779.7 L1301.7 782.4 L1297.7 785.0 L1293.7 787.6 L1289.7 790.1 L1285.7 792.7 L1281.7 795.2 L1277.7 797.7 L1273.7 800.1 L1269.7 802.4 L1265.7 804.6 L1261.7 806.7 L1257.7 808.8 L1253.7 810.9 L1249.7 813.1 L1245.7 815.2 L1241.7 817.4 L1237.7 819.6 L1233.7 821.7 L1229.7 823.9 L1225.7 826.0 L1221.7 828.1 L1217.7 830.1 L1213.7 832.0 L1209.7 833.9 L1205.7 835.9 L1201.7 838.0 L1197.7 840.2 L1193.7 842.4 L1189.7 844.8 L1185.7 847.3 L1181.7 849.8 L1177.7 852.3 L1173.7 854.8 L1169.7 857.2 L1165.7 859.5 L1161.7 861.6 L1157.7 863.5 L1153.7 865.3 L1149.7 867.1 L1145.7 868.8 L1141.7 870.4 L1137.7 871.9 L1133.7 873.5 L1129.7 875.1 L1125.7 876.9 L1121.7 878.8 L1117.7 880.9 L1113.7 883.0 L1109.7 885.1 L1105.7 887.2 L1101.7 889.1 L1097.7 891.0 L1093.7 892.7 L1089.7 894.3 L1085.7 895.9 L1081.7 897.4 L1077.7 899.0 L1073.7 900.4 L1069.7 901.7 L1065.7 903.0 L1061.7 904.0 L1057.7 905.0 L1053.7 906.0 L1049.7 907.0 L1045.7 908.1 L1041.7 909.3 L1037.7 910.6 L1033.7 911.9 L1029.7 913.3 L1025.7 914.7 L1021.7 916.1 L1017.7 917.5 L1013.7 918.9 L1009.7 920.4 L1005.7 922.0 L1001.7 923.7 L997.7 925.4"/>
<path d="M1337.7 752.6 L1333.7 757.5 L1329.7 760.6 L1325.7 764.4 L1321.7 768.1 L1317.7 771.5 L1313.7 774.7 L1309.7 777.8 L1305.7 780.7 L1301.7 783.5 L1297.7 786.2 L1293.7 788.8 L1289.7 791.4 L1285.7 794.0 L1281.7 796.5 L1277.7 799.1 L1273.7 801.6 L1269.7 803.9 L1265.7 806.2 L1261.7 808.4 L1257.7 810.5 L1253.7 812.5 L1249.7 814.5 L1245.7 816.5 L1241.7 818.4 L1237.7 820.2 L1233.7 822.0 L1229.7 823.9 L1225.7 825.7 L1221.7 827.5 L1217.7 829.4 L1213.7 831.3 L1209.7 833.3 L1205.7 835.4 L1201.7 837.7 L1197.7 840.1 L1193.7 842.6 L1189.7 845.1 L1185.7 847.6 L1181.7 850.2 L1177.7 852.8 L1173.7 855.3 L1169.7 857.8 L1165.7 860.2 L1161.7 862.7 L1157.7 865.2 L1153.7 867.9 L1149.7 870.6 L1145.7 873.4 L1141.7 876.2 L1137.7 879.0 L1133.7 881.6 L1129.7 884.1 L1125.7 886.5 L1121.7 888.6 L1117.7 890.6 L1113.7 892.5 L1109.7 894.2 L1105.7 896.0 L1101.7 897.6 L1097.7 899.3 L1093.7 901.0 L1089.7 902.6 L1085.7 904.3 L1081.7 906.0 L1077.7 907.7 L1073.7 909.1 L1069.7 910.3 L1065.7 911.3 L1061.7 911.9 L1057.7 912.2 L1053.7 912.4 L1049.7 912.6 L1045.7 913.0 L1041.7 913.6 L1037.7 914.6 L1033.7 916.0 L1029.7 917.7 L1025.7 919.6 L1021.7 921.7 L1017.7 923.7 L1013.7 925.7 L1009.7 927.4 L1005.7 928.8 L1001.7 929.8 L997.7 930.4 L993.7 930.5 L989.7 930.2 L985.7 929.7 L981.7 929.0 L977.7 928.6 L973.7 928.4 L969.7 928.5 L965.7 928.8 L961.7 929.3 L957.7 929.9 L953.7 930.5 L949.7 931.3 L945.7 932.1 L941.7 933.1 L937.7 934.1 L933.7 935.1 L929.7 936.0 L925.7 937.0 L921.7 938.0 L917.7 939.0 L913.7 940.0 L909.7 941.1 L905.7 942.2 L901.7 943.4 L897.7 944.7 L893.7 946.1 L889.7 947.4 L885.7 948.8 L881.7 950.1 L877.7 951.4 L873.7 952.8"/>
<path d="M1337.7 752.6 C1332.4 756.8 1317.0 770.0 1306.0 777.8 C1295.0 785.6 1283.0 792.8 1271.6 799.2 C1260.1 805.7 1248.7 810.7 1237.3 816.5 C1225.9 822.3 1212.5 829.2 1203.0 834.0 C1193.5 838.8 1188.3 841.4 1180.0 845.5 C1171.7 849.5 1162.0 854.2 1152.9 858.3 C1143.8 862.4 1133.1 866.8 1125.4 870.2 C1117.8 873.6 1113.2 876.0 1107.1 878.4 C1101.0 880.9 1094.9 883.2 1088.8 884.9 C1082.7 886.5 1076.6 887.9 1070.5 888.5 C1064.4 889.1 1058.3 888.8 1052.2 888.5 C1046.1 888.2 1039.4 887.4 1033.9 886.7 C1028.4 886.0 1023.8 884.9 1019.3 884.5 C1014.7 884.0 1010.4 884.3 1006.5 883.9 C1002.5 883.5 998.8 882.3 995.5 882.1 C992.1 881.9 989.1 881.9 986.3 882.5 C983.6 883.1 981.7 883.8 979.0 885.8 C976.2 887.7 972.9 891.4 969.8 894.0 C966.8 896.6 964.3 898.7 960.7 901.3 C957.0 903.9 952.4 906.8 947.9 909.6 C943.3 912.3 938.7 915.1 933.2 917.8 C927.7 920.5 921.0 923.1 914.9 926.0 C908.8 928.9 901.8 932.4 896.6 935.2 C891.4 937.9 888.1 939.8 883.8 942.5 C879.5 945.3 875.0 948.8 871.0 951.7 C867.0 954.6 861.8 958.5 860.0 959.9"/>
<path d="M1337.7 752.6 C1332.4 756.8 1317.0 770.0 1306.0 777.8 C1295.0 785.6 1283.0 792.8 1271.6 799.2 C1260.1 805.7 1248.7 810.5 1237.3 816.5 C1225.9 822.5 1212.5 830.1 1203.0 835.5 C1193.5 840.9 1191.4 843.5 1180.0 849.2 C1168.6 854.8 1148.3 863.3 1134.6 869.3 C1120.9 875.2 1110.2 880.6 1098.0 884.9 C1085.8 889.1 1072.1 892.3 1061.4 894.9 C1050.7 897.5 1041.5 898.7 1033.9 900.4 C1026.3 902.1 1022.0 903.5 1015.6 905.0 C1009.2 906.5 1001.9 907.9 995.5 909.6 C989.1 911.2 983.3 913.2 977.2 915.1 C971.1 916.9 964.7 919.3 958.9 920.5 C953.1 921.8 947.3 922.4 942.4 922.4 C937.5 922.4 934.1 920.9 929.6 920.5 C925.0 920.2 920.4 919.3 914.9 920.5 C909.4 921.8 902.7 925.1 896.6 927.9 C890.5 930.6 882.9 935.0 878.3 937.0 C873.7 939.0 872.2 939.3 869.2 939.8 C866.1 940.2 863.7 938.9 860.0 939.8 C856.3 940.6 850.5 943.2 847.0 944.9 C843.5 946.5 840.1 948.7 838.8 949.4"/>
<path d="M1337.7 752.6 C1332.4 756.8 1317.0 770.0 1306.0 777.8 C1295.0 785.6 1283.0 792.8 1271.6 799.2 C1260.1 805.7 1248.7 810.2 1237.3 816.5 C1225.9 822.8 1212.5 830.8 1203.0 837.0 C1193.5 843.2 1191.4 847.1 1180.0 853.7 C1168.6 860.3 1148.3 870.1 1134.6 876.6 C1120.9 883.2 1110.2 888.7 1098.0 893.1 C1085.8 897.5 1073.6 900.0 1061.4 903.2 C1049.2 906.4 1033.9 910.5 1024.8 912.3 C1015.6 914.1 1012.6 913.1 1006.5 914.1 C1000.4 915.2 995.5 916.1 988.1 918.7 C980.8 921.3 971.7 925.7 962.5 929.7 C953.4 933.7 942.7 937.9 933.2 942.5 C923.8 947.1 914.9 952.3 905.8 957.2 C896.6 962.0 885.9 968.1 878.3 971.8 C870.7 975.5 863.1 977.9 860.0 979.1"/>
</g>
<path d="M934.1 1010.3 C932.1 1011.4 926.6 1014.0 922.2 1016.7 C917.8 1019.4 912.5 1023.4 907.6 1026.7 C902.7 1030.0 897.9 1033.8 893.0 1036.8 C888.1 1039.8 883.2 1042.7 878.3 1045.0 C873.4 1047.3 867.6 1048.8 863.7 1050.5 C859.8 1052.2 856.5 1054.2 855.0 1055.0" fill="none" stroke="#ee6eee" stroke-width="4.2" stroke-linejoin="round"/>
<path d="M1337.7 752.6 C1335.3 755.5 1328.4 763.9 1323.1 769.8 C1317.8 775.7 1311.6 782.4 1305.9 787.8 C1300.2 793.2 1294.5 797.8 1288.8 802.4 C1283.1 807.0 1277.3 811.1 1271.6 815.2 C1265.9 819.4 1260.2 823.4 1254.5 827.3 C1248.8 831.2 1243.0 834.5 1237.3 838.4 C1231.6 842.2 1225.8 846.1 1220.1 850.4 C1214.4 854.7 1208.7 859.3 1203.0 864.2 C1197.3 869.1 1189.6 876.5 1185.8 879.6 C1182.0 882.7 1184.0 880.1 1180.0 883.0 C1176.0 885.9 1168.1 892.7 1162.1 896.8 C1156.1 900.9 1149.9 904.2 1143.8 907.7 C1137.7 911.2 1131.5 914.6 1125.4 917.8 C1119.3 921.0 1113.2 924.1 1107.1 927.0 C1101.0 929.9 1094.9 932.3 1088.8 935.2 C1082.7 938.1 1075.7 941.5 1070.5 944.3 C1065.3 947.0 1062.3 949.4 1057.7 951.7 C1053.1 954.0 1048.0 956.1 1043.1 958.1 C1038.2 960.1 1033.3 961.9 1028.4 963.6 C1023.5 965.3 1018.7 966.8 1013.8 968.1 C1008.9 969.4 1003.4 970.5 999.1 971.4 C994.8 972.3 991.8 972.0 988.1 973.6 C984.5 975.2 981.2 977.8 977.2 981.0 C973.2 984.2 968.6 989.5 964.3 992.9 C960.0 996.2 955.5 998.8 951.5 1001.1 C947.5 1003.4 943.4 1005.1 940.5 1006.6 C937.6 1008.1 935.2 1009.7 934.1 1010.3" fill="none" stroke="#8b008b" stroke-width="4.2" stroke-linejoin="round"/>
<path d="M1337.7 752.6 C1335.3 755.2 1328.4 762.4 1323.1 768.1 C1317.8 773.8 1311.6 781.5 1305.9 786.9 C1300.2 792.3 1294.5 796.3 1288.8 800.7 C1283.1 805.1 1277.3 808.9 1271.6 813.5 C1265.9 818.1 1260.2 822.4 1254.5 828.1 C1248.8 833.8 1243.0 841.0 1237.3 847.9 C1231.6 854.8 1225.8 862.7 1220.1 869.3 C1214.4 875.9 1208.7 881.9 1203.0 887.3 C1197.3 892.7 1189.6 898.8 1185.8 901.9 C1182.0 905.0 1184.0 903.4 1180.0 905.9 C1176.0 908.4 1168.1 912.9 1162.1 916.9 C1156.1 920.9 1149.9 925.4 1143.8 929.7 C1137.7 934.0 1131.5 937.9 1125.4 942.5 C1119.3 947.1 1112.3 952.9 1107.1 957.2 C1101.9 961.5 1098.3 964.1 1094.3 968.1 C1090.3 972.1 1086.6 976.7 1083.3 981.0 C1080.0 985.3 1077.2 990.1 1074.2 993.8 C1071.2 997.4 1068.4 1000.5 1065.0 1002.9 C1061.6 1005.3 1058.3 1007.2 1054.0 1008.4 C1049.7 1009.6 1044.3 1010.3 1039.4 1010.3 C1034.5 1010.3 1029.1 1009.3 1024.8 1008.4 C1020.5 1007.5 1017.2 1005.6 1013.8 1004.8 C1010.4 1004.0 1007.6 1003.3 1004.6 1003.8 C1001.6 1004.2 998.5 1005.7 995.5 1007.5 C992.5 1009.3 989.3 1011.9 986.3 1014.8 C983.2 1017.7 980.2 1021.4 977.2 1024.9 C974.2 1028.4 971.0 1032.9 968.0 1035.9 C965.0 1039.0 961.9 1041.2 958.9 1043.2 C955.9 1045.2 953.5 1045.8 949.7 1047.8 C945.9 1049.8 938.3 1053.8 936.0 1055.0" fill="none" stroke="#000" stroke-width="4.2" stroke-linejoin="round"/>
<line x1="252.5" y1="1052.5" x2="252.5" y2="89.5" stroke="#000" stroke-width="1.5" stroke-dasharray="1.4 1.38"/>
<line x1="846.5" y1="1052.5" x2="846.5" y2="89.5" stroke="#000" stroke-width="1.5" stroke-dasharray="1.4 1.38"/>
<line x1="1440.5" y1="1052.5" x2="1440.5" y2="89.5" stroke="#000" stroke-width="1.5" stroke-dasharray="1.4 1.38"/>
<line x1="104.5" y1="901.5" x2="1589.5" y2="901.5" stroke="#000" stroke-width="1.5" stroke-dasharray="1.4 1.38"/>
<line x1="104.5" y1="593.5" x2="1589.5" y2="593.5" stroke="#000" stroke-width="1.5" stroke-dasharray="1.4 1.38"/>
<line x1="104.5" y1="265.5" x2="1589.5" y2="265.5" stroke="#000" stroke-width="1.5" stroke-dasharray="1.4 1.38"/>
</g>
<rect x="104.5" y="89.5" width="1485.0" height="963.0" fill="none" stroke="#000" stroke-width="1.11"/>
<text class="b" x="88.2" y="907.9" font-size="20.83" letter-spacing="-0.34" text-anchor="end">10°N</text>
<text class="b" x="88.2" y="599.9" font-size="20.83" letter-spacing="-0.34" text-anchor="end">20°N</text>
<text class="b" x="88.2" y="271.9" font-size="20.83" letter-spacing="-0.34" text-anchor="end">30°N</text>
<text class="b" x="254.8" y="1083.1" font-size="20.83" letter-spacing="-0.3" text-anchor="middle">60°W</text>
<text class="b" x="848.8" y="1083.1" font-size="20.83" letter-spacing="-0.3" text-anchor="middle">40°W</text>
<text class="b" x="1442.8" y="1083.1" font-size="20.83" letter-spacing="-0.3" text-anchor="middle">20°W</text>
<rect x="1242.2" y="97.3" width="339.6" height="170.4" rx="3.3" ry="3.3" fill="#fff" stroke="#000" stroke-width="1.4"/>
<line x1="1249.2" y1="110.5" x2="1282.2" y2="110.5" stroke="#696969" stroke-width="1.5" stroke-linecap="square"/>
<text x="1295.7" y="116.2" font-size="16.67">No Interception</text>
<line x1="1249.2" y1="134.5" x2="1282.2" y2="134.5" stroke="#ff4500" stroke-width="1.5" stroke-linecap="square"/>
<text x="1295.7" y="139.9" font-size="16.67">Interception from Named cyclone</text>
<line x1="1249.2" y1="157.5" x2="1282.2" y2="157.5" stroke="#808000" stroke-width="1.5" stroke-linecap="square"/>
<text x="1295.7" y="162.8" font-size="16.67">Interception from Trochoid</text>
<line x1="1249.2" y1="180.5" x2="1282.2" y2="180.5" stroke="#008000" stroke-width="1.5" stroke-linecap="square"/>
<text x="1295.7" y="186.1" font-size="16.67">Interception from both</text>
<line x1="1249.2" y1="204.0" x2="1282.2" y2="204.0" stroke="#8b008b" stroke-width="4.2" stroke-linecap="square"/>
<text x="1295.7" y="209.8" font-size="16.67">HRES</text>
<line x1="1249.2" y1="227.1" x2="1282.2" y2="227.1" stroke="#000" stroke-width="4.2" stroke-linecap="square"/>
<text x="1295.7" y="232.9" font-size="16.67">Analysis | 132h duration</text>
<text class="b" x="1267.2" y="258.9" font-size="15.5" text-anchor="middle" stroke="#000" stroke-width="1.0" stroke-linejoin="round">↺</text>
<text x="1295.9" y="257.3" font-size="16.67">TC obs. for analysis duration</text>
<rect x="1662.5" y="910.65" width="20.00" height="29.35" fill="#e3eef9"/>
<rect x="1662.5" y="881.81" width="20.00" height="29.35" fill="#dceaf6"/>
<rect x="1662.5" y="852.96" width="20.00" height="29.35" fill="#d5e5f4"/>
<rect x="1662.5" y="824.12" width="20.00" height="29.35" fill="#cee0f2"/>
<rect x="1662.5" y="795.27" width="20.00" height="29.35" fill="#c7dcef"/>
<rect x="1662.5" y="766.42" width="20.00" height="29.35" fill="#bdd7ec"/>
<rect x="1662.5" y="737.58" width="20.00" height="29.35" fill="#b2d2e8"/>
<rect x="1662.5" y="708.73" width="20.00" height="29.35" fill="#a5cde3"/>
<rect x="1662.5" y="679.88" width="20.00" height="29.35" fill="#99c7e0"/>
<rect x="1662.5" y="651.04" width="20.00" height="29.35" fill="#8abfdd"/>
<rect x="1662.5" y="622.19" width="20.00" height="29.35" fill="#7cb7da"/>
<rect x="1662.5" y="593.35" width="20.00" height="29.35" fill="#6dafd7"/>
<rect x="1662.5" y="564.50" width="20.00" height="29.35" fill="#60a7d2"/>
<rect x="1662.5" y="535.65" width="20.00" height="29.35" fill="#549fcd"/>
<rect x="1662.5" y="506.81" width="20.00" height="29.35" fill="#4997c9"/>
<rect x="1662.5" y="477.96" width="20.00" height="29.35" fill="#3e8ec4"/>
<rect x="1662.5" y="449.12" width="20.00" height="29.35" fill="#3484bf"/>
<rect x="1662.5" y="420.27" width="20.00" height="29.35" fill="#2b7bba"/>
<rect x="1662.5" y="391.42" width="20.00" height="29.35" fill="#2171b5"/>
<rect x="1662.5" y="362.58" width="20.00" height="29.35" fill="#1a68ae"/>
<rect x="1662.5" y="333.73" width="20.00" height="29.35" fill="#135fa7"/>
<rect x="1662.5" y="304.88" width="20.00" height="29.35" fill="#0b559f"/>
<rect x="1662.5" y="276.04" width="20.00" height="29.35" fill="#084c95"/>
<rect x="1662.5" y="247.19" width="20.00" height="29.35" fill="#084387"/>
<rect x="1662.5" y="218.35" width="20.00" height="29.35" fill="#083979"/>
<rect x="1662.5" y="189.50" width="20.00" height="29.35" fill="#08306b"/>
<rect x="1662.5" y="189.5" width="20.00" height="750.00" fill="none" stroke="#000" stroke-width="1.11"/>
<line x1="1682.5" y1="939.50" x2="1687.36" y2="939.50" stroke="#000" stroke-width="1.11"/>
<text x="1691.4" y="944.9" font-size="13.6">0</text>
<line x1="1682.5" y1="795.27" x2="1687.36" y2="795.27" stroke="#000" stroke-width="1.11"/>
<text x="1691.4" y="800.7" font-size="13.6">10</text>
<line x1="1682.5" y1="651.04" x2="1687.36" y2="651.04" stroke="#000" stroke-width="1.11"/>
<text x="1691.4" y="656.4" font-size="13.6">20</text>
<line x1="1682.5" y1="506.81" x2="1687.36" y2="506.81" stroke="#000" stroke-width="1.11"/>
<text x="1691.4" y="512.2" font-size="13.6">30</text>
<line x1="1682.5" y1="362.58" x2="1687.36" y2="362.58" stroke="#000" stroke-width="1.11"/>
<text x="1691.4" y="368.0" font-size="13.6">40</text>
<line x1="1682.5" y1="218.35" x2="1687.36" y2="218.35" stroke="#000" stroke-width="1.11"/>
<text x="1691.4" y="223.7" font-size="13.6">50</text>
<text class="b" font-size="19.44" text-anchor="middle" transform="translate(1734.2 624.2) rotate(-90)">Named cyclones forecast - Number of EPS within 120km</text>
<text class="b" x="861" y="1121" font-size="16.67" text-anchor="middle">Percentage of flying ballons within a TC as a function of flight time</text>
<rect x="22.5" y="1137.5" width="1640.0" height="41.0" fill="#9e0142" stroke="#000" stroke-width="1.11"/>
<line x1="22.50" y1="1178.5" x2="22.50" y2="1183.86" stroke="#000" stroke-width="1.11"/>
<text class="b" x="22.0" y="1199.9" font-size="16.67" letter-spacing="-0.4" text-anchor="middle">0h</text>
<line x1="63.50" y1="1178.5" x2="63.50" y2="1183.86" stroke="#000" stroke-width="1.11"/>
<line x1="104.50" y1="1178.5" x2="104.50" y2="1183.86" stroke="#000" stroke-width="1.11"/>
<line x1="145.50" y1="1178.5" x2="145.50" y2="1183.86" stroke="#000" stroke-width="1.11"/>
<line x1="186.50" y1="1178.5" x2="186.50" y2="1183.86" stroke="#000" stroke-width="1.11"/>
<text class="b" x="186.0" y="1199.9" font-size="16.67" letter-spacing="-0.4" text-anchor="middle">12h</text>
<line x1="227.50" y1="1178.5" x2="227.50" y2="1183.86" stroke="#000" stroke-width="1.11"/>
<line x1="268.50" y1="1178.5" x2="268.50" y2="1183.86" stroke="#000" stroke-width="1.11"/>
<line x1="309.50" y1="1178.5" x2="309.50" y2="1183.86" stroke="#000" stroke-width="1.11"/>
<line x1="350.50" y1="1178.5" x2="350.50" y2="1183.86" stroke="#000" stroke-width="1.11"/>
<text class="b" x="350.0" y="1199.9" font-size="16.67" letter-spacing="-0.4" text-anchor="middle">24h</text>
<line x1="391.50" y1="1178.5" x2="391.50" y2="1183.86" stroke="#000" stroke-width="1.11"/>
<line x1="432.50" y1="1178.5" x2="432.50" y2="1183.86" stroke="#000" stroke-width="1.11"/>
<line x1="473.50" y1="1178.5" x2="473.50" y2="1183.86" stroke="#000" stroke-width="1.11"/>
<line x1="514.50" y1="1178.5" x2="514.50" y2="1183.86" stroke="#000" stroke-width="1.11"/>
<text class="b" x="514.0" y="1199.9" font-size="16.67" letter-spacing="-0.4" text-anchor="middle">36h</text>
<line x1="555.50" y1="1178.5" x2="555.50" y2="1183.86" stroke="#000" stroke-width="1.11"/>
<line x1="596.50" y1="1178.5" x2="596.50" y2="1183.86" stroke="#000" stroke-width="1.11"/>
<line x1="637.50" y1="1178.5" x2="637.50" y2="1183.86" stroke="#000" stroke-width="1.11"/>
<line x1="678.50" y1="1178.5" x2="678.50" y2="1183.86" stroke="#000" stroke-width="1.11"/>
<text class="b" x="678.0" y="1199.9" font-size="16.67" letter-spacing="-0.4" text-anchor="middle">48h</text>
<line x1="719.50" y1="1178.5" x2="719.50" y2="1183.86" stroke="#000" stroke-width="1.11"/>
<line x1="760.50" y1="1178.5" x2="760.50" y2="1183.86" stroke="#000" stroke-width="1.11"/>
<line x1="801.50" y1="1178.5" x2="801.50" y2="1183.86" stroke="#000" stroke-width="1.11"/>
<line x1="842.50" y1="1178.5" x2="842.50" y2="1183.86" stroke="#000" stroke-width="1.11"/>
<text class="b" x="842.0" y="1199.9" font-size="16.67" letter-spacing="-0.4" text-anchor="middle">60h</text>
<line x1="883.50" y1="1178.5" x2="883.50" y2="1183.86" stroke="#000" stroke-width="1.11"/>
<line x1="924.50" y1="1178.5" x2="924.50" y2="1183.86" stroke="#000" stroke-width="1.11"/>
<line x1="965.50" y1="1178.5" x2="965.50" y2="1183.86" stroke="#000" stroke-width="1.11"/>
<line x1="1006.50" y1="1178.5" x2="1006.50" y2="1183.86" stroke="#000" stroke-width="1.11"/>
<text class="b" x="1006.0" y="1199.9" font-size="16.67" letter-spacing="-0.4" text-anchor="middle">72h</text>
<line x1="1047.50" y1="1178.5" x2="1047.50" y2="1183.86" stroke="#000" stroke-width="1.11"/>
<line x1="1088.50" y1="1178.5" x2="1088.50" y2="1183.86" stroke="#000" stroke-width="1.11"/>
<line x1="1129.50" y1="1178.5" x2="1129.50" y2="1183.86" stroke="#000" stroke-width="1.11"/>
<line x1="1170.50" y1="1178.5" x2="1170.50" y2="1183.86" stroke="#000" stroke-width="1.11"/>
<text class="b" x="1170.0" y="1199.9" font-size="16.67" letter-spacing="-0.4" text-anchor="middle">84h</text>
<line x1="1211.50" y1="1178.5" x2="1211.50" y2="1183.86" stroke="#000" stroke-width="1.11"/>
<line x1="1252.50" y1="1178.5" x2="1252.50" y2="1183.86" stroke="#000" stroke-width="1.11"/>
<line x1="1293.50" y1="1178.5" x2="1293.50" y2="1183.86" stroke="#000" stroke-width="1.11"/>
<line x1="1334.50" y1="1178.5" x2="1334.50" y2="1183.86" stroke="#000" stroke-width="1.11"/>
<text class="b" x="1334.0" y="1199.9" font-size="16.67" letter-spacing="-0.4" text-anchor="middle">96h</text>
<line x1="1375.50" y1="1178.5" x2="1375.50" y2="1183.86" stroke="#000" stroke-width="1.11"/>
<line x1="1416.50" y1="1178.5" x2="1416.50" y2="1183.86" stroke="#000" stroke-width="1.11"/>
<line x1="1457.50" y1="1178.5" x2="1457.50" y2="1183.86" stroke="#000" stroke-width="1.11"/>
<line x1="1498.50" y1="1178.5" x2="1498.50" y2="1183.86" stroke="#000" stroke-width="1.11"/>
<text class="b" x="1498.0" y="1199.9" font-size="16.67" letter-spacing="-0.4" text-anchor="middle">108h</text>
<line x1="1539.50" y1="1178.5" x2="1539.50" y2="1183.86" stroke="#000" stroke-width="1.11"/>
<line x1="1580.50" y1="1178.5" x2="1580.50" y2="1183.86" stroke="#000" stroke-width="1.11"/>
<line x1="1621.50" y1="1178.5" x2="1621.50" y2="1183.86" stroke="#000" stroke-width="1.11"/>
<line x1="1662.50" y1="1178.5" x2="1662.50" y2="1183.86" stroke="#000" stroke-width="1.11"/>
<text class="b" x="1662.0" y="1199.9" font-size="16.67" letter-spacing="-0.4" text-anchor="middle">120h</text>
<line x1="17.14" y1="1158.5" x2="22.5" y2="1158.5" stroke="#000" stroke-width="1.11"/>
</svg></body></html>
